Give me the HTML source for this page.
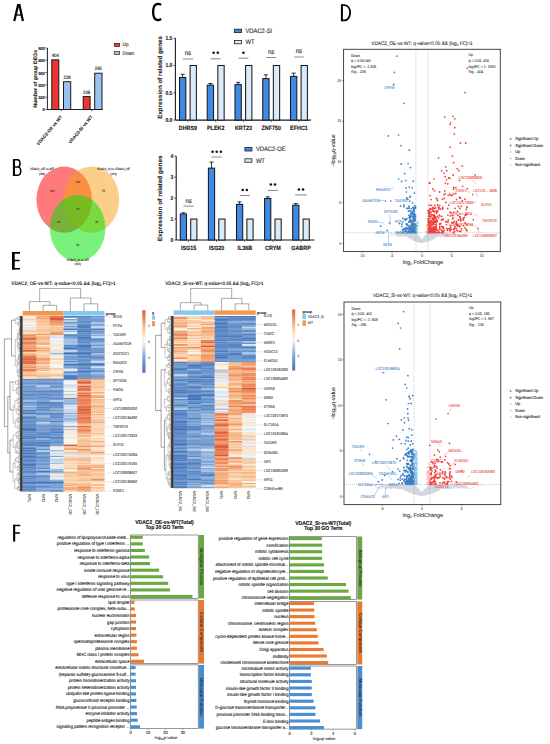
<!DOCTYPE html>
<html><head><meta charset="utf-8"><style>
html,body{margin:0;padding:0;background:#fff;}
svg{display:block;}
text{font-family:"Liberation Sans",sans-serif;text-rendering:geometricPrecision;}
</style></head><body>
<svg width="550" height="744" viewBox="0 0 550 744">
<rect width="550" height="744" fill="#fff"/>
<path d="M14.25 20.9L18.2 4.6M22.95 20.9L19.3 4.6" fill="none" stroke="#000" stroke-width="2.25"/>
<rect x="17.3" y="4.0" width="2.9" height="1.6" fill="#000"/>
<path d="M15.4 15.0H21.8" fill="none" stroke="#000" stroke-width="1.3"/>
<path d="M13.95 159.1V176.0" fill="none" stroke="#000" stroke-width="2.1"/>
<path d="M13.95 159.85H17.3C20.9 159.85 20.9 166.9 17.3 166.9H13.95M13.95 166.9H17.8C21.7 166.9 21.7 175.25 17.8 175.25H13.95" fill="none" stroke="#000" stroke-width="1.5"/>
<path d="M161.2 4.9C157.6 2.6 153.15 3.6 153.15 12.0C153.15 20.4 157.6 21.3 161.2 19.0" fill="none" stroke="#000" stroke-width="2.3"/>
<path d="M341.9 4.2V21.2" fill="none" stroke="#000" stroke-width="2.0"/>
<path d="M341.9 5.1H344.3C352.0 5.1 352.0 20.3 344.3 20.3H341.9" fill="none" stroke="#000" stroke-width="1.8"/>
<path d="M13.35 252.0V269.6" fill="none" stroke="#000" stroke-width="2.7"/>
<path d="M12.0 252.8H20.0M12.0 260.45H19.6M12.0 268.75H20.0" fill="none" stroke="#000" stroke-width="1.65"/>
<path d="M14.15 524.8V541.6" fill="none" stroke="#000" stroke-width="2.1"/>
<path d="M13.1 525.55H20.3M13.1 533.05H19.8" fill="none" stroke="#000" stroke-width="1.5"/>
<line x1="47.4" y1="48" x2="47.4" y2="109.5" stroke="#222" stroke-width="1" />
<line x1="47" y1="109.5" x2="102.5" y2="109.5" stroke="#222" stroke-width="1" />
<line x1="45.2" y1="109.5" x2="47" y2="109.5" stroke="#222" stroke-width="0.7" />
<text x="44.7" y="111.4" font-size="4.37" text-anchor="end" font-weight="bold" fill="#222"  textLength="2.17" lengthAdjust="spacingAndGlyphs" stroke="#222" stroke-width="0.14">0</text>
<line x1="45.2" y1="97.2" x2="47" y2="97.2" stroke="#222" stroke-width="0.7" />
<text x="44.7" y="99.1" font-size="4.37" text-anchor="end" font-weight="bold" fill="#222"  textLength="6.51" lengthAdjust="spacingAndGlyphs" stroke="#222" stroke-width="0.14">100</text>
<line x1="45.2" y1="84.9" x2="47" y2="84.9" stroke="#222" stroke-width="0.7" />
<text x="44.7" y="86.8" font-size="4.37" text-anchor="end" font-weight="bold" fill="#222"  textLength="6.51" lengthAdjust="spacingAndGlyphs" stroke="#222" stroke-width="0.14">200</text>
<line x1="45.2" y1="72.6" x2="47" y2="72.6" stroke="#222" stroke-width="0.7" />
<text x="44.7" y="74.5" font-size="4.37" text-anchor="end" font-weight="bold" fill="#222"  textLength="6.51" lengthAdjust="spacingAndGlyphs" stroke="#222" stroke-width="0.14">300</text>
<line x1="45.2" y1="60.3" x2="47" y2="60.3" stroke="#222" stroke-width="0.7" />
<text x="44.7" y="62.2" font-size="4.37" text-anchor="end" font-weight="bold" fill="#222"  textLength="6.51" lengthAdjust="spacingAndGlyphs" stroke="#222" stroke-width="0.14">400</text>
<line x1="45.2" y1="48" x2="47" y2="48" stroke="#222" stroke-width="0.7" />
<text x="44.7" y="49.9" font-size="4.37" text-anchor="end" font-weight="bold" fill="#222"  textLength="6.51" lengthAdjust="spacingAndGlyphs" stroke="#222" stroke-width="0.14">500</text>
<rect x="51.8" y="59.81" width="7" height="49.69" fill="#ee3535" stroke="#1a1a1a" stroke-width="1" />
<text x="55.3" y="57.01" font-size="4.82" text-anchor="middle" font-weight="normal" fill="#222"  textLength="7.17" lengthAdjust="spacingAndGlyphs" stroke="#222" stroke-width="0.14">404</text>
<rect x="63.5" y="81.7" width="7.2" height="27.8" fill="#99c3ef" stroke="#1a1a1a" stroke-width="1" />
<text x="67.1" y="78.9" font-size="4.82" text-anchor="middle" font-weight="normal" fill="#222"  textLength="7.17" lengthAdjust="spacingAndGlyphs" stroke="#222" stroke-width="0.14">226</text>
<rect x="83.2" y="96.46" width="6.9" height="13.04" fill="#ee3535" stroke="#1a1a1a" stroke-width="1" />
<text x="86.65" y="93.66" font-size="4.82" text-anchor="middle" font-weight="normal" fill="#222"  textLength="7.17" lengthAdjust="spacingAndGlyphs" stroke="#222" stroke-width="0.14">106</text>
<rect x="94.7" y="73.22" width="7.3" height="36.28" fill="#99c3ef" stroke="#1a1a1a" stroke-width="1" />
<text x="98.35" y="70.42" font-size="4.82" text-anchor="middle" font-weight="normal" fill="#222"  textLength="7.17" lengthAdjust="spacingAndGlyphs" stroke="#222" stroke-width="0.14">295</text>
<line x1="61.3" y1="109.5" x2="61.3" y2="111.3" stroke="#222" stroke-width="0.7" />
<line x1="91.8" y1="109.5" x2="91.8" y2="111.3" stroke="#222" stroke-width="0.7" />
<text x="0" y="0" font-size="4.47" font-weight="bold" fill="#222" stroke="#222" stroke-width="0.1" text-anchor="end" transform="translate(62.6,117) rotate(-50)">VDAC2-OE vs WT</text>
<text x="0" y="0" font-size="4.47" font-weight="bold" fill="#222" stroke="#222" stroke-width="0.1" text-anchor="end" transform="translate(93,117) rotate(-50)">VDAC2-Si vs WT</text>
<text x="0" y="0" font-size="5.2" font-weight="bold" fill="#222" stroke="#222" stroke-width="0.1" text-anchor="middle" transform="translate(36.6,78.8) rotate(-90)">Number of group DEGs</text>
<rect x="114.2" y="43.3" width="5.5" height="3.1" fill="#ee3535" stroke="#1a1a1a" stroke-width="0.6" />
<rect x="114.2" y="51.6" width="5.5" height="3.1" fill="#99c3ef" stroke="#1a1a1a" stroke-width="0.6" />
<text x="122.6" y="46.3" font-size="5.15" text-anchor="start" font-weight="normal" fill="#333"  textLength="5.88" lengthAdjust="spacingAndGlyphs" stroke="#333" stroke-width="0.14">Up</text>
<text x="122.6" y="54.6" font-size="5.04" text-anchor="start" font-weight="normal" fill="#333"  textLength="11.5" lengthAdjust="spacingAndGlyphs" stroke="#333" stroke-width="0.14">Down</text>
<g>
<ellipse cx="64.2" cy="199.6" rx="27.8" ry="33.2" fill="#ff0000" fill-opacity="0.52"/>
<ellipse cx="91.5" cy="199.6" rx="27.8" ry="33.2" fill="#f8a010" fill-opacity="0.5"/>
<ellipse cx="77.6" cy="228.2" rx="27.8" ry="33.2" fill="#00e400" fill-opacity="0.52"/>
</g>
<text x="42" y="170" font-size="3.14" text-anchor="middle" font-weight="normal" fill="#111"  textLength="23.96" lengthAdjust="spacingAndGlyphs" stroke="#111" stroke-width="0.08">VDAC2_OE-vs-WT</text>
<text x="42" y="175" font-size="3.14" text-anchor="middle" font-weight="normal" fill="#111"  textLength="6.54" lengthAdjust="spacingAndGlyphs" stroke="#111" stroke-width="0.08">(408)</text>
<text x="113.5" y="170" font-size="3.14" text-anchor="middle" font-weight="normal" fill="#111"  textLength="32.99" lengthAdjust="spacingAndGlyphs" stroke="#111" stroke-width="0.08">VDAC2_Si-vs-VDAC2_OE</text>
<text x="113.5" y="175" font-size="3.14" text-anchor="middle" font-weight="normal" fill="#111"  textLength="6.54" lengthAdjust="spacingAndGlyphs" stroke="#111" stroke-width="0.08">(213)</text>
<text x="77.8" y="260.8" font-size="3.14" text-anchor="middle" font-weight="normal" fill="#111"  textLength="22.4" lengthAdjust="spacingAndGlyphs" stroke="#111" stroke-width="0.08">VDAC2_Si-vs-WT</text>
<text x="77.8" y="265" font-size="3.14" text-anchor="middle" font-weight="normal" fill="#111"  textLength="6.54" lengthAdjust="spacingAndGlyphs" stroke="#111" stroke-width="0.08">(401)</text>
<text x="52" y="191.5" font-size="3.14" text-anchor="middle" font-weight="normal" fill="#333"  textLength="4.67" lengthAdjust="spacingAndGlyphs" stroke="#333" stroke-width="0.08">108</text>
<text x="77.8" y="183.3" font-size="3.14" text-anchor="middle" font-weight="normal" fill="#333"  textLength="4.67" lengthAdjust="spacingAndGlyphs" stroke="#333" stroke-width="0.08">139</text>
<text x="103.6" y="191.5" font-size="3.14" text-anchor="middle" font-weight="normal" fill="#333"  textLength="3.11" lengthAdjust="spacingAndGlyphs" stroke="#333" stroke-width="0.08">54</text>
<text x="77.8" y="209.8" font-size="3.14" text-anchor="middle" font-weight="normal" fill="#333"  textLength="3.11" lengthAdjust="spacingAndGlyphs" stroke="#333" stroke-width="0.08">18</text>
<text x="58.6" y="223.3" font-size="3.14" text-anchor="middle" font-weight="normal" fill="#333"  textLength="3.11" lengthAdjust="spacingAndGlyphs" stroke="#333" stroke-width="0.08">32</text>
<text x="96.8" y="223.3" font-size="3.14" text-anchor="middle" font-weight="normal" fill="#333"  textLength="3.11" lengthAdjust="spacingAndGlyphs" stroke="#333" stroke-width="0.08">26</text>
<text x="77.8" y="245.8" font-size="3.14" text-anchor="middle" font-weight="normal" fill="#333"  textLength="3.11" lengthAdjust="spacingAndGlyphs" stroke="#333" stroke-width="0.08">80</text>
<line x1="175.4" y1="38.3" x2="175.4" y2="120.1" stroke="#1a1a1a" stroke-width="1.1" />
<line x1="175.4" y1="120.1" x2="310.9" y2="120.1" stroke="#1a1a1a" stroke-width="1.1" />
<line x1="173.6" y1="120.1" x2="175.4" y2="120.1" stroke="#1a1a1a" stroke-width="0.8" />
<text x="172.4" y="121.9" font-size="5.6" text-anchor="end" font-weight="bold" fill="#222"  textLength="6.95" lengthAdjust="spacingAndGlyphs" stroke="#222" stroke-width="0.14">0.0</text>
<line x1="173.6" y1="92.8" x2="175.4" y2="92.8" stroke="#1a1a1a" stroke-width="0.8" />
<text x="172.4" y="94.6" font-size="5.6" text-anchor="end" font-weight="bold" fill="#222"  textLength="6.95" lengthAdjust="spacingAndGlyphs" stroke="#222" stroke-width="0.14">0.5</text>
<line x1="173.6" y1="65.5" x2="175.4" y2="65.5" stroke="#1a1a1a" stroke-width="0.8" />
<text x="172.4" y="67.3" font-size="5.6" text-anchor="end" font-weight="bold" fill="#222"  textLength="6.95" lengthAdjust="spacingAndGlyphs" stroke="#222" stroke-width="0.14">1.0</text>
<line x1="173.6" y1="38.2" x2="175.4" y2="38.2" stroke="#1a1a1a" stroke-width="0.8" />
<text x="172.4" y="40" font-size="5.6" text-anchor="end" font-weight="bold" fill="#222"  textLength="6.95" lengthAdjust="spacingAndGlyphs" stroke="#222" stroke-width="0.14">1.5</text>
<line x1="182.65" y1="74.24" x2="182.65" y2="77.51" stroke="#1a1a1a" stroke-width="0.9" />
<line x1="180.65" y1="74.24" x2="184.65" y2="74.24" stroke="#1a1a1a" stroke-width="0.9" />
<rect x="179.5" y="77.51" width="6.3" height="42.59" fill="#3f8ae6" stroke="#1a1a1a" stroke-width="1.05" />
<rect x="190.1" y="65.5" width="6.3" height="54.6" fill="#d9ebfb" stroke="#1a1a1a" stroke-width="1.05" />
<line x1="187.95" y1="120.1" x2="187.95" y2="121.9" stroke="#1a1a1a" stroke-width="0.8" />
<text x="187.95" y="130.1" font-size="6.05" text-anchor="middle" font-weight="bold" fill="#222"  textLength="18.3" lengthAdjust="spacingAndGlyphs" stroke="#222" stroke-width="0.14">DHRS9</text>
<text x="187.95" y="54.8" font-size="6.72" text-anchor="middle" font-weight="normal" fill="#333"  textLength="6.34" lengthAdjust="spacingAndGlyphs" stroke="#333" stroke-width="0.14">ns</text>
<line x1="182.7" y1="59" x2="193.2" y2="59" stroke="#8a8a8a" stroke-width="1" />
<line x1="210.4" y1="83.52" x2="210.4" y2="85.16" stroke="#1a1a1a" stroke-width="0.9" />
<line x1="208.4" y1="83.52" x2="212.4" y2="83.52" stroke="#1a1a1a" stroke-width="0.9" />
<rect x="207.25" y="85.16" width="6.3" height="34.94" fill="#3f8ae6" stroke="#1a1a1a" stroke-width="1.05" />
<rect x="217.85" y="65.5" width="6.3" height="54.6" fill="#d9ebfb" stroke="#1a1a1a" stroke-width="1.05" />
<line x1="215.7" y1="120.1" x2="215.7" y2="121.9" stroke="#1a1a1a" stroke-width="0.8" />
<text x="215.7" y="130.1" font-size="6.05" text-anchor="middle" font-weight="bold" fill="#222"  textLength="17.41" lengthAdjust="spacingAndGlyphs" stroke="#222" stroke-width="0.14">PLEK2</text>
<circle cx="213.63" cy="52.7" r="1.3" fill="#151515"/>
<circle cx="217.78" cy="52.7" r="1.3" fill="#151515"/>
<line x1="210.7" y1="58.8" x2="220.7" y2="58.8" stroke="#8a8a8a" stroke-width="1" />
<line x1="238.15" y1="82.43" x2="238.15" y2="84.61" stroke="#1a1a1a" stroke-width="0.9" />
<line x1="236.15" y1="82.43" x2="240.15" y2="82.43" stroke="#1a1a1a" stroke-width="0.9" />
<rect x="235" y="84.61" width="6.3" height="35.49" fill="#3f8ae6" stroke="#1a1a1a" stroke-width="1.05" />
<rect x="245.6" y="65.5" width="6.3" height="54.6" fill="#d9ebfb" stroke="#1a1a1a" stroke-width="1.05" />
<line x1="243.45" y1="120.1" x2="243.45" y2="121.9" stroke="#1a1a1a" stroke-width="0.8" />
<text x="243.45" y="130.1" font-size="6.05" text-anchor="middle" font-weight="bold" fill="#222"  textLength="17.1" lengthAdjust="spacingAndGlyphs" stroke="#222" stroke-width="0.14">KRT23</text>
<circle cx="243.45" cy="52.7" r="1.3" fill="#151515"/>
<line x1="238.45" y1="58.2" x2="248.45" y2="58.2" stroke="#8a8a8a" stroke-width="1" />
<line x1="265.9" y1="74.78" x2="265.9" y2="78.6" stroke="#1a1a1a" stroke-width="0.9" />
<line x1="263.9" y1="74.78" x2="267.9" y2="74.78" stroke="#1a1a1a" stroke-width="0.9" />
<rect x="262.75" y="78.6" width="6.3" height="41.5" fill="#3f8ae6" stroke="#1a1a1a" stroke-width="1.05" />
<rect x="273.35" y="65.5" width="6.3" height="54.6" fill="#d9ebfb" stroke="#1a1a1a" stroke-width="1.05" />
<line x1="271.2" y1="120.1" x2="271.2" y2="121.9" stroke="#1a1a1a" stroke-width="0.8" />
<text x="271.2" y="130.1" font-size="6.05" text-anchor="middle" font-weight="bold" fill="#222"  textLength="19.51" lengthAdjust="spacingAndGlyphs" stroke="#222" stroke-width="0.14">ZNF750</text>
<text x="271.2" y="53.6" font-size="6.72" text-anchor="middle" font-weight="normal" fill="#333"  textLength="6.34" lengthAdjust="spacingAndGlyphs" stroke="#333" stroke-width="0.14">ns</text>
<line x1="266.2" y1="57.5" x2="276.2" y2="57.5" stroke="#8a8a8a" stroke-width="1" />
<line x1="293.65" y1="73.14" x2="293.65" y2="76.42" stroke="#1a1a1a" stroke-width="0.9" />
<line x1="291.65" y1="73.14" x2="295.65" y2="73.14" stroke="#1a1a1a" stroke-width="0.9" />
<rect x="290.5" y="76.42" width="6.3" height="43.68" fill="#3f8ae6" stroke="#1a1a1a" stroke-width="1.05" />
<rect x="301.1" y="65.5" width="6.3" height="54.6" fill="#d9ebfb" stroke="#1a1a1a" stroke-width="1.05" />
<line x1="298.95" y1="120.1" x2="298.95" y2="121.9" stroke="#1a1a1a" stroke-width="0.8" />
<text x="298.95" y="130.1" font-size="6.05" text-anchor="middle" font-weight="bold" fill="#222"  textLength="17.7" lengthAdjust="spacingAndGlyphs" stroke="#222" stroke-width="0.14">EFHC1</text>
<text x="298.95" y="52.8" font-size="6.72" text-anchor="middle" font-weight="normal" fill="#333"  textLength="6.34" lengthAdjust="spacingAndGlyphs" stroke="#333" stroke-width="0.14">ns</text>
<line x1="294.2" y1="57" x2="303.7" y2="57" stroke="#8a8a8a" stroke-width="1" />
<rect x="234.5" y="29.2" width="7" height="3.4" fill="#3f8ae6" stroke="#1a1a1a" stroke-width="0.8" />
<rect x="234.5" y="40.4" width="7" height="3.4" fill="#d9ebfb" stroke="#1a1a1a" stroke-width="0.8" />
<text x="245.5" y="32.9" font-size="6.5" text-anchor="start" font-weight="normal" fill="#333"  textLength="26.43" lengthAdjust="spacingAndGlyphs" stroke="#333" stroke-width="0.14">VDAC2-Si</text>
<text x="245.5" y="44.1" font-size="6.5" text-anchor="start" font-weight="normal" fill="#333"  textLength="9.02" lengthAdjust="spacingAndGlyphs" stroke="#333" stroke-width="0.14">WT</text>
<text x="0" y="0" font-size="6.2" font-weight="bold" fill="#222" stroke="#222" stroke-width="0.1" text-anchor="middle" textLength="82.7" lengthAdjust="spacingAndGlyphs" transform="translate(161.6,77.4) rotate(-90)">Expression of related genes</text>
<line x1="176.2" y1="156.2" x2="176.2" y2="240" stroke="#1a1a1a" stroke-width="1.1" />
<line x1="176.2" y1="240" x2="314.5" y2="240" stroke="#1a1a1a" stroke-width="1.1" />
<line x1="174.4" y1="240" x2="176.2" y2="240" stroke="#1a1a1a" stroke-width="0.8" />
<text x="173.2" y="241.8" font-size="5.6" text-anchor="end" font-weight="bold" fill="#222"  textLength="2.78" lengthAdjust="spacingAndGlyphs" stroke="#222" stroke-width="0.14">0</text>
<line x1="174.4" y1="219.05" x2="176.2" y2="219.05" stroke="#1a1a1a" stroke-width="0.8" />
<text x="173.2" y="220.85" font-size="5.6" text-anchor="end" font-weight="bold" fill="#222"  textLength="2.78" lengthAdjust="spacingAndGlyphs" stroke="#222" stroke-width="0.14">1</text>
<line x1="174.4" y1="198.1" x2="176.2" y2="198.1" stroke="#1a1a1a" stroke-width="0.8" />
<text x="173.2" y="199.9" font-size="5.6" text-anchor="end" font-weight="bold" fill="#222"  textLength="2.78" lengthAdjust="spacingAndGlyphs" stroke="#222" stroke-width="0.14">2</text>
<line x1="174.4" y1="177.15" x2="176.2" y2="177.15" stroke="#1a1a1a" stroke-width="0.8" />
<text x="173.2" y="178.95" font-size="5.6" text-anchor="end" font-weight="bold" fill="#222"  textLength="2.78" lengthAdjust="spacingAndGlyphs" stroke="#222" stroke-width="0.14">3</text>
<line x1="174.4" y1="156.2" x2="176.2" y2="156.2" stroke="#1a1a1a" stroke-width="0.8" />
<text x="173.2" y="158" font-size="5.6" text-anchor="end" font-weight="bold" fill="#222"  textLength="2.78" lengthAdjust="spacingAndGlyphs" stroke="#222" stroke-width="0.14">4</text>
<line x1="183.4" y1="212.76" x2="183.4" y2="214.02" stroke="#1a1a1a" stroke-width="0.9" />
<line x1="181.4" y1="212.76" x2="185.4" y2="212.76" stroke="#1a1a1a" stroke-width="0.9" />
<rect x="180.3" y="214.02" width="6.2" height="25.98" fill="#3f8ae6" stroke="#1a1a1a" stroke-width="1.05" />
<rect x="190.7" y="219.05" width="6.2" height="20.95" fill="#d9ebfb" stroke="#1a1a1a" stroke-width="1.05" />
<line x1="188.6" y1="240" x2="188.6" y2="241.8" stroke="#1a1a1a" stroke-width="0.8" />
<text x="188.6" y="250" font-size="6.05" text-anchor="middle" font-weight="bold" fill="#222"  textLength="15.31" lengthAdjust="spacingAndGlyphs" stroke="#222" stroke-width="0.14">ISG15</text>
<text x="188.6" y="202.5" font-size="6.72" text-anchor="middle" font-weight="normal" fill="#333"  textLength="6.34" lengthAdjust="spacingAndGlyphs" stroke="#333" stroke-width="0.14">ns</text>
<line x1="183.4" y1="206.1" x2="193.8" y2="206.1" stroke="#8a8a8a" stroke-width="1" />
<line x1="211.5" y1="162.07" x2="211.5" y2="168.14" stroke="#1a1a1a" stroke-width="0.9" />
<line x1="209.5" y1="162.07" x2="213.5" y2="162.07" stroke="#1a1a1a" stroke-width="0.9" />
<rect x="208.4" y="168.14" width="6.2" height="71.86" fill="#3f8ae6" stroke="#1a1a1a" stroke-width="1.05" />
<rect x="218.8" y="219.05" width="6.2" height="20.95" fill="#d9ebfb" stroke="#1a1a1a" stroke-width="1.05" />
<line x1="216.7" y1="240" x2="216.7" y2="241.8" stroke="#1a1a1a" stroke-width="0.8" />
<text x="216.7" y="250" font-size="6.05" text-anchor="middle" font-weight="bold" fill="#222"  textLength="15.31" lengthAdjust="spacingAndGlyphs" stroke="#222" stroke-width="0.14">ISG20</text>
<circle cx="212.55" cy="151.8" r="1.3" fill="#151515"/>
<circle cx="216.7" cy="151.8" r="1.3" fill="#151515"/>
<circle cx="220.85" cy="151.8" r="1.3" fill="#151515"/>
<line x1="211.6" y1="157" x2="221.8" y2="157" stroke="#8a8a8a" stroke-width="1" />
<line x1="239.6" y1="201.87" x2="239.6" y2="204.38" stroke="#1a1a1a" stroke-width="0.9" />
<line x1="237.6" y1="201.87" x2="241.6" y2="201.87" stroke="#1a1a1a" stroke-width="0.9" />
<rect x="236.5" y="204.38" width="6.2" height="35.62" fill="#3f8ae6" stroke="#1a1a1a" stroke-width="1.05" />
<rect x="246.9" y="219.05" width="6.2" height="20.95" fill="#d9ebfb" stroke="#1a1a1a" stroke-width="1.05" />
<line x1="244.8" y1="240" x2="244.8" y2="241.8" stroke="#1a1a1a" stroke-width="0.8" />
<text x="244.8" y="250" font-size="6.05" text-anchor="middle" font-weight="bold" fill="#222"  textLength="14.71" lengthAdjust="spacingAndGlyphs" stroke="#222" stroke-width="0.14">IL36B</text>
<circle cx="242.72" cy="190" r="1.3" fill="#151515"/>
<circle cx="246.87" cy="190" r="1.3" fill="#151515"/>
<line x1="239.8" y1="195.5" x2="249.8" y2="195.5" stroke="#8a8a8a" stroke-width="1" />
<line x1="267.7" y1="196.84" x2="267.7" y2="198.52" stroke="#1a1a1a" stroke-width="0.9" />
<line x1="265.7" y1="196.84" x2="269.7" y2="196.84" stroke="#1a1a1a" stroke-width="0.9" />
<rect x="264.6" y="198.52" width="6.2" height="41.48" fill="#3f8ae6" stroke="#1a1a1a" stroke-width="1.05" />
<rect x="275" y="219.05" width="6.2" height="20.95" fill="#d9ebfb" stroke="#1a1a1a" stroke-width="1.05" />
<line x1="272.9" y1="240" x2="272.9" y2="241.8" stroke="#1a1a1a" stroke-width="0.8" />
<text x="272.9" y="250" font-size="6.05" text-anchor="middle" font-weight="bold" fill="#222"  textLength="15.7" lengthAdjust="spacingAndGlyphs" stroke="#222" stroke-width="0.14">CRYM</text>
<circle cx="270.83" cy="184.5" r="1.3" fill="#151515"/>
<circle cx="274.98" cy="184.5" r="1.3" fill="#151515"/>
<line x1="267.75" y1="190.4" x2="278.05" y2="190.4" stroke="#8a8a8a" stroke-width="1" />
<line x1="295.8" y1="203.55" x2="295.8" y2="205.22" stroke="#1a1a1a" stroke-width="0.9" />
<line x1="293.8" y1="203.55" x2="297.8" y2="203.55" stroke="#1a1a1a" stroke-width="0.9" />
<rect x="292.7" y="205.22" width="6.2" height="34.78" fill="#3f8ae6" stroke="#1a1a1a" stroke-width="1.05" />
<rect x="303.1" y="219.05" width="6.2" height="20.95" fill="#d9ebfb" stroke="#1a1a1a" stroke-width="1.05" />
<line x1="301" y1="240" x2="301" y2="241.8" stroke="#1a1a1a" stroke-width="0.8" />
<text x="301" y="250" font-size="6.05" text-anchor="middle" font-weight="bold" fill="#222"  textLength="19.5" lengthAdjust="spacingAndGlyphs" stroke="#222" stroke-width="0.14">GABRP</text>
<circle cx="298.93" cy="189.5" r="1.3" fill="#151515"/>
<circle cx="303.08" cy="189.5" r="1.3" fill="#151515"/>
<line x1="295.1" y1="194.9" x2="306.9" y2="194.9" stroke="#8a8a8a" stroke-width="1" />
<rect x="244.9" y="147.6" width="7" height="3.4" fill="#3f8ae6" stroke="#1a1a1a" stroke-width="0.8" />
<rect x="244.9" y="158.8" width="7" height="3.4" fill="#d9ebfb" stroke="#1a1a1a" stroke-width="0.8" />
<text x="255.9" y="151.3" font-size="6.5" text-anchor="start" font-weight="normal" fill="#333"  textLength="29.65" lengthAdjust="spacingAndGlyphs" stroke="#333" stroke-width="0.14">VDAC2-OE</text>
<text x="255.9" y="162.5" font-size="6.5" text-anchor="start" font-weight="normal" fill="#333"  textLength="9.02" lengthAdjust="spacingAndGlyphs" stroke="#333" stroke-width="0.14">WT</text>
<text x="0" y="0" font-size="6.2" font-weight="bold" fill="#222" stroke="#222" stroke-width="0.1" text-anchor="middle" textLength="86" lengthAdjust="spacingAndGlyphs" transform="translate(161.8,198.3) rotate(-90)">Expression of related genes</text>
<text x="421.9" y="44.6" font-size="5.2" fill="#222" stroke="#222" stroke-width="0.08" text-anchor="middle" textLength="101.2" lengthAdjust="spacingAndGlyphs">VDAC2_OE-vs-WT: q-value&lt;0.05 &amp;&amp; |log<tspan font-size="3.6" dy="1">2</tspan><tspan dy="-1"> FC|&gt;1</tspan></text>
<clipPath id="clip11"><rect x="343.6" y="49.3" width="156.7" height="202.3"/></clipPath>
<g clip-path="url(#clip11)">
<path fill="none" stroke="#d0d7e0" stroke-width="1.4" stroke-linecap="round" d="M409.5 233h0M425.7 238.3h0M408.4 236.1h0M421.2 240.7h0M409.5 237.3h0M408.8 235.7h0M437.5 233.6h0M431.9 239.1h0M448 233.8h0M419 238.3h0M422.9 240.4h0M423.4 241.9h0M424.7 241.8h0M428.9 236.5h0M403.7 234.2h0M429 235.2h0M406.9 234.4h0M421.9 241.6h0M455.5 233.2h0M421.4 240.4h0M419 240h0M428.6 240.1h0M423 239.4h0M411.7 236.3h0M440.9 236.4h0M416.8 239.3h0M431.6 232.8h0M415.8 237.2h0M434.7 233.6h0M428.2 238.2h0M429.7 232.9h0M426.7 235.5h0M427.5 240.1h0M427.1 240.7h0M423.8 239.5h0M415.8 236.8h0M427.9 239.6h0M437.3 233.8h0M429.8 238.3h0M429 238.1h0M439.9 235h0M418.6 236.5h0M424.4 237.7h0M431.8 234.8h0M446.6 235.3h0M440 235.1h0M423.2 240.9h0M412.9 239.2h0M433.2 236.8h0M429.1 235.5h0M414.2 233h0M430 236.2h0M403.7 235.4h0M412.7 238.4h0M437.6 235.2h0M411.7 237.7h0M420.3 241.2h0M397.8 232.9h0M432.1 236.1h0M412.6 238.8h0M447.2 235.2h0M428.2 234.8h0M421.1 240.3h0M440.8 235h0M429.2 239.9h0M436.4 235.4h0M403.4 233.9h0M414.7 237.9h0M427.9 241h0M418.5 239.8h0M418.5 240.5h0M423.1 240.7h0M417 238.2h0M419.5 237.7h0M436.7 233.7h0M420.1 239.5h0M423.6 242.1h0M424 237.9h0M414 240.3h0M397 233.8h0M405.5 234.9h0M423.7 238h0M433.3 234h0M427.7 233.4h0M420.6 239.3h0M406.1 233h0M412.7 233.3h0M434.3 233.3h0M406.3 233.1h0M430.8 235.4h0M414.8 235.6h0M414.8 235.4h0M434.6 232.7h0M428.9 233.5h0M420.5 239.4h0M411.9 235.1h0M403.8 235.9h0M429 234.4h0M435.4 234.8h0M424.5 240.5h0M418.1 237.4h0M410.6 233.1h0M421.8 241.6h0M423.4 239.4h0M423.7 238.3h0M427.8 235.2h0M401.9 234.9h0M429.5 234.9h0M425.3 236.8h0M432.1 233.2h0M429.2 235.6h0M415.1 237.7h0M429.7 233.8h0M430.9 233.6h0M415.9 238.3h0M397.8 235.5h0M414.1 238.4h0M424.4 239.6h0M413.5 237.4h0M413.5 233.7h0M433 238.2h0M420.6 242.1h0M424 238.7h0M419.8 239.2h0M415.4 240.8h0M438.7 235.6h0M419.7 238.1h0M422.5 241.4h0M423.9 239.1h0M424.3 239.5h0M411.7 233.8h0M411.1 232.9h0M419.2 239.2h0M415.7 239.1h0M433.4 234.1h0M422.7 241.6h0M420.6 239.6h0M431.2 235.7h0M409 235.4h0M410.6 233.8h0M425.5 235.9h0M419.5 238.3h0M429.6 235.2h0M430 233.3h0M412.5 233.4h0M431.1 233.9h0M432.6 234.6h0M418 240h0M418.6 237.8h0M403.4 233.6h0M426.9 233.8h0M443.1 232.8h0M404.4 234.9h0M417.8 235.3h0M427.7 240.2h0M414.5 236.6h0M405.4 234.3h0M416.5 241h0M423.2 239.2h0M418.5 240.5h0M412.8 238.5h0M437.3 235.6h0M405.7 233.2h0M420.2 239.2h0M433.1 233h0M417.9 240.9h0M424.1 240.4h0M434.1 234h0M414 233.7h0M412.4 235.4h0M418.1 236.2h0M431.1 233.3h0M427 233.7h0M441.1 234.2h0M415.8 236.1h0M418.9 238.8h0M420 238h0M420.4 240h0M407.1 234.1h0M432.6 235.5h0M420.5 240h0M418.4 238.9h0M444.1 235.1h0M415.7 236.6h0M429.5 233.9h0M429.7 233.4h0M413.1 238.2h0M423.2 239.8h0M426.7 235.4h0M419.5 241.9h0M424.4 238.4h0M428.8 237.7h0M413.2 239h0M433.1 234.1h0M430.6 237.8h0M430.4 238.3h0M411.2 236.2h0M419.8 240h0M416 238.9h0M420.8 240h0M413.8 233.7h0M412.4 235h0M426.5 235.8h0M416.1 234.1h0M429.2 237.6h0M416.8 234h0M429.1 233.5h0M457.6 235.6h0M423 241.2h0M438.2 235.8h0M427.2 234.7h0M412.6 238.6h0M409.2 237.7h0M430.8 238.1h0M412.7 232.9h0M401.5 235.7h0M404.8 234.3h0M421.3 240.3h0M423.4 241.6h0M425.5 241.5h0M410.3 234.9h0M418 240.5h0M424.6 237.4h0M428.2 232.8h0M426 241.1h0M419.9 237.9h0M405.1 234.9h0M426 238.1h0M411.2 234.9h0M420.9 242.2h0M416 239.2h0M403.2 234.4h0M421.2 241.6h0M411.6 237.8h0M420.1 238.4h0M421.8 240.6h0M416.2 235.4h0M402.5 234.6h0M412.1 232.8h0M414.8 234h0M420.7 239.6h0M444.2 233.4h0M426 235.5h0M412.4 233.4h0M416 234.4h0M405.6 234.6h0M421.2 241.1h0M418.1 238.3h0M431.4 234.9h0M422.5 240.4h0M424.6 238.2h0M446.2 234.8h0M414.8 236h0M410.8 236h0M436.5 233.7h0M421.9 240.8h0M424.1 239h0M421.6 240.6h0M421.5 242.1h0M432.2 237.6h0M418.6 240h0M425.2 236.5h0M410.4 232.9h0M418.2 237.8h0M436.4 233.3h0M421.5 242h0M407.9 236.6h0M412 233.1h0M428.1 239.2h0M431.6 235.7h0M419.2 237h0M419.6 239.8h0M408.4 235.3h0M419.6 240.4h0M414.6 237.9h0M411.1 234.2h0M421.4 241.5h0M423.5 241.9h0M431.3 236.5h0M436.1 233.1h0M421.9 240.4h0M418.6 236.3h0M441.7 234.5h0M431.7 235.8h0M429.4 236h0M420.6 238.9h0M420 237.9h0M410.6 233.6h0M417.9 237.2h0M418.9 239h0M422.9 240.4h0M425.1 240.9h0M407.8 234.7h0M427.2 238.7h0M412.7 234h0M416.7 236.6h0M447 233.5h0M421.5 241.6h0M438.1 233.4h0M436 234h0M416.8 235.6h0M428.2 235.8h0M409.8 233.9h0M414.1 238.5h0M422.1 240.3h0M450.3 233.1h0M425.4 239.8h0M422.8 240.8h0M418.5 238.2h0M418.6 241.3h0M435 234.6h0M429.8 235.2h0M413.8 238.3h0M430.2 237.2h0M421.3 242h0M402.5 235.7h0M427.1 235h0M408.7 236.1h0M414.9 234h0M425.5 239.1h0M404.5 234.9h0M396.7 234.1h0M421.3 241h0M399 234.7h0M438.9 235.9h0M433.8 237.7h0M411.1 234.4h0M417.3 238.9h0M422.5 241.5h0M417.9 236.9h0M429.4 234.5h0M426.1 236.5h0M420.7 240.8h0M427.4 234.9h0M418.5 237.3h0M425.7 237.7h0M442.9 233h0M410.1 235.5h0M424.7 239.9h0M413.7 236.8h0M441.7 235.2h0M413.3 236.9h0M415.5 237.2h0M429.1 237.1h0M426.3 235.6h0M434.2 234.8h0M428.7 239h0M410.7 233.9h0M428 240.9h0M416.3 236.4h0M409.2 232.9h0M418.3 237.4h0M423.1 240.1h0M418.4 236.8h0M425.5 236.9h0M424 238h0M434.3 237h0M429.2 234.4h0M417.4 239.5h0M415.8 234.4h0M404.8 234.6h0M419.6 240.1h0M436.8 234.3h0M418.9 238.6h0M419 236.9h0M406.2 234.6h0M428.8 233.7h0M408.5 233.5h0M432.6 232.9h0M403.5 233.8h0M406.1 233.3h0M419.5 239.7h0M416.9 235.3h0M424.6 236.8h0M417.5 239.8h0M426.2 238.1h0M414.9 240.1h0M447.9 235h0M432.9 233.9h0M431.6 238h0M432.3 235h0M426.2 235.1h0M426.6 239.7h0M423 241.3h0M423.4 239.7h0M438 235.3h0M425.2 240.5h0M429.5 234.3h0M417.1 235h0M433.8 235.3h0M420.5 238.8h0M443.1 234.8h0M397.5 234.3h0M414.4 238.4h0M445.4 233.3h0M429.5 237h0M409.8 236.3h0M419.8 237.6h0M417.8 241.7h0M415.6 236.6h0M409.3 234h0M435 234.3h0M425.2 239.6h0M426.9 238.9h0M430.2 235.1h0M412.9 232.8h0M420.6 241.5h0M434.4 233.7h0M440.8 233.2h0M422.1 240.5h0M428.9 234.7h0M425.9 240.8h0M410.6 232.9h0M423.3 239.8h0M427.3 234.6h0M415.1 236.9h0M425.7 236.2h0M419.7 240.8h0M409.9 237.1h0M418.6 236.7h0M418.6 241.3h0M430 237.5h0M406.1 234.8h0M425.2 237.5h0M429.9 236.3h0M428.2 232.9h0M429 240.7h0M408.9 235.4h0M420 239.5h0M414.6 236.5h0M453.3 233.3h0M424 240.9h0M415.6 237.3h0M416.3 236.2h0M419.1 239.6h0M430.7 234.8h0M421.6 240.6h0M428.7 237.6h0M434.2 234h0M417.5 238.7h0M424 241.3h0M417.9 240.9h0M414.9 238.9h0M407.6 234.8h0M429 239.8h0M410.3 236.8h0M424.8 239.4h0M426.3 240.9h0M431.3 235.7h0M416.8 235.9h0M423.9 240.1h0M403.1 234.9h0M420.4 240.4h0M422.8 239.9h0M439.7 233.8h0M419.9 239.2h0M431 237h0M423 240h0M429.7 236h0M428 234.2h0M428.3 239.3h0M409.5 233.7h0M432.4 236.4h0M414.6 236.2h0M432 232.8h0M434.4 234.9h0M417.7 239.9h0M403 232.9h0M417.2 240.7h0M417.1 239.2h0M408 235.3h0M414.6 233.2h0M414.6 239.3h0M430.6 232.9h0M436.4 234.2h0M438.5 234.1h0M414.5 233.3h0M419 236.5h0M427.6 239.8h0M409.3 233.5h0M416.7 239h0M442.9 234h0M425.1 238.4h0M416.2 240.3h0M428.2 232.8h0M423.2 238.9h0M417.2 236.1h0M414.6 234.5h0M411.9 233.8h0M431.1 239.7h0M425.5 240.6h0M432.8 236.1h0M416.2 236.3h0M419.2 240.3h0M413.6 235h0M418.1 241.4h0M419.2 236.9h0M416.9 236.3h0M411.6 234.8h0M423.9 238.9h0M422.8 240.6h0M405 232.7h0M432.4 236.1h0M404.9 234.5h0M401.7 234.2h0M413 235.7h0M401.8 234.9h0M431 239.3h0M418.6 237.3h0M400.3 234h0M422 241h0M413.2 239.4h0M429.8 236.1h0M429.7 236.9h0M436.7 234.2h0M426.9 239.1h0M418.4 240h0M431.5 239h0M444.4 233.7h0M407.9 233.2h0M405.7 235.3h0M430.6 234.3h0M401.8 235.8h0M412.9 234h0M430.9 233h0M430.8 240.2h0M422.2 241.4h0M430.5 239.5h0M436.7 234.6h0M410.5 236.1h0M419.2 241.8h0M420.3 238.6h0M417.7 235.1h0M433.1 232.8h0M415.1 237.9h0M423.1 239.1h0M427.2 234.3h0M417.9 238.9h0M415.7 233.6h0M423 239h0M426.2 239.9h0M435.6 233.2h0M426.5 235.9h0M423.4 240.7h0M438.5 233.6h0M409.9 237.2h0M413.9 236.5h0M399.3 235.9h0M423.4 239.4h0M430.5 238.2h0M425 237.8h0M428.7 234.2h0M411.5 233.3h0M432.7 234.9h0M423 239.1h0M430.4 234.8h0M419.5 241.4h0M436.2 232.8h0M410.3 235.1h0M426.5 241.1h0M415.2 238.3h0M417 235.1h0M429 234.4h0M426.2 239.4h0M419.6 240.9h0M434.5 233.2h0M424.6 239.3h0M421.7 240.6h0M404.4 234.3h0M437.4 235.5h0M408.2 235.2h0M416.9 235.9h0M424.4 239.2h0M409.9 233.4h0M417 234h0M410.6 237.3h0M423 240h0M415.9 238.6h0M405.6 233.4h0M428.3 234.2h0M422.9 241.3h0M433.6 234.8h0M419.2 238.6h0M421.9 240.9h0M403.4 235.5h0M412.8 238.4h0M433.7 235.5h0M423.2 240.4h0M420.4 241.8h0M440 233h0M410.3 233.7h0M416.6 238.9h0M427.2 240.9h0M428.9 237.7h0M412.9 237.6h0M413.3 235.3h0M437.9 235.5h0M431.8 237.3h0M430.3 233.8h0M435 233.6h0M431.6 236.6h0M425.8 239.9h0M424.8 238.9h0M421.4 240.2h0M427.6 236.8h0M421.4 240.3h0M429.2 233.4h0M423.7 241.3h0M415.2 236.9h0M427.2 240.5h0M455 233.4h0M429.1 234.5h0M422.9 240.3h0M429.6 238.1h0M399 234.7h0M427.5 237.8h0M435.8 236.7h0M420.3 240.3h0M419.8 240.3h0M419 238h0M430.8 233.4h0M411.7 235.8h0M406.6 234.7h0M434.1 233.7h0M423.9 241h0M431.1 235.5h0M425.4 240.1h0M427.8 236.7h0M417.9 235.1h0M432.2 234.5h0M426.4 238.3h0M416.7 240.6h0M418.4 239.8h0M412.9 239.8h0M425.2 239.2h0M429.1 233.2h0M420.2 240.4h0M414.1 238.9h0M430.7 234.2h0M418.2 236.9h0M423.6 240.6h0M420.8 240.7h0M440.1 234.9h0M432.4 234h0M418.5 239.1h0M421.5 241.5h0M427.5 235.7h0M423.4 242h0M417.8 237.6h0M431.8 238.3h0M419.8 238.6h0M414.3 234.9h0M426 239.3h0M427.4 235h0M413.6 233.6h0M427.5 238.8h0M419.5 240.7h0M430.9 239.5h0M436.1 234.2h0M424.1 238.2h0M430.4 234.8h0M420.6 238.9h0M425.2 237.7h0M437.1 232.9h0M426.9 236.1h0M416.4 240.3h0M412.8 239.3h0M426.4 238.3h0M416.3 238.3h0M432.4 237.8h0M412.5 238.2h0M428.5 235.1h0M422.2 241.4h0M426.4 238h0M429.7 234.7h0M432.8 235.1h0M421.2 241h0M419.8 240.2h0M431.4 239.1h0M425.9 238h0M412.1 236.9h0M416 238.5h0M431.2 233.4h0M423.3 239.9h0M420.8 241.4h0M437 234.4h0M403 234.8h0M405.1 234h0M438.2 233.9h0M415.7 235.4h0M413 237.5h0M427.5 234h0M429.2 233.3h0M415.1 240.4h0M429.8 237.5h0M431 236.8h0M427.6 239.1h0M421.1 241.4h0M418.7 242h0M415.2 235.9h0M416 236.5h0M426.5 236.3h0M408.3 234.4h0M417.7 235.7h0M430.9 236.9h0M420.1 238.4h0M415.6 234.9h0M436.8 233.7h0M440.4 235.5h0M417.6 236.9h0M408.8 235.4h0M422.7 241.2h0M421.8 241.7h0M409.3 236.3h0M419 238.8h0M427.6 239.8h0M425.4 241h0M423.4 239.4h0M430.4 234.1h0M429.2 236.3h0M432.5 233.4h0M439.3 236h0M421.6 240.4h0M434 235.7h0M420.3 239.2h0M414.3 237.5h0M413.3 233.7h0M436.7 233.2h0M412.2 234.4h0M417.5 236.8h0M430.8 238.7h0M405.9 234.7h0M418.3 240.3h0M415.5 240.9h0M401.1 232.8h0M409.5 237.1h0M417.8 237.1h0M412.1 236.4h0M449.7 236.1h0M409.5 234h0M424.1 240.5h0M423.9 238.7h0M427 238.2h0M421.7 242.2h0M410.6 236.1h0M418.8 239.8h0M428 238.2h0M403.4 234.7h0M409.1 232.8h0M410.2 235.8h0M417.5 235.7h0M409.9 237.2h0M424.1 237.7h0M426.2 239.4h0M416.8 238.3h0M422.3 242.2h0M416.7 236h0M419.6 240.5h0M423.5 240.4h0M433.4 236.7h0M425.4 236.2h0M423.1 240.9h0M427.6 236.6h0M425 236.3h0M427.9 236.5h0M441.4 234.6h0M425.5 241.3h0M412.3 235.4h0M414.1 237.8h0M410.1 233h0M443.4 234.5h0M397.3 233.2h0M420.9 242.1h0M415.7 239.2h0M424.8 239.6h0M424.6 237.8h0M417.4 241.6h0M433.3 237.1h0M423.4 240h0M421.5 240.3h0M426.3 238.3h0M405.9 233.3h0M430 232.8h0M406.6 235.8h0M431.7 234.4h0M418.7 240.1h0M423.8 239.4h0M420.7 241.2h0M414.4 235h0M428.2 234h0M412.3 236.7h0M432.8 236.8h0M429.3 239.6h0M416.9 238.3h0M421.5 240.5h0M414.9 235.9h0M419.2 241.2h0M416.1 239.6h0M415.5 241h0M430.6 235.9h0M414.5 235.9h0M427 233.8h0M427.8 237.9h0M442 233.5h0M445.3 234.5h0M440.8 232.8h0M423.9 238.8h0M432.1 237.8h0M419.7 237.6h0M437 234.9h0M425.8 235.2h0M430.6 238.6h0M415.3 235.2h0M414.5 238.5h0M406.1 233.1h0M407.7 234h0M408.7 236.7h0M421.5 240.2h0M417.8 236.8h0M411.5 236.1h0M416.4 235.8h0M426.8 236.6h0M419.3 238.5h0M421.7 241.2h0M410.5 233.1h0M414.3 239h0M390.6 233.5h0M428.1 237.9h0M419.4 239.7h0M391.3 233.1h0M443.5 234.3h0M444 235.2h0M429.8 233.1h0M409.5 233.5h0M425.5 235.6h0M410.3 238h0M432.9 236.9h0M410.2 233.6h0M409.8 233.3h0M425.5 240.2h0M419.2 241.5h0M436.3 234.2h0M424.6 240.4h0M410.4 233.7h0M432.6 235.2h0M408.1 233.1h0M423.6 240.4h0M416.3 240.1h0M431 233.5h0M424 238.2h0M426.7 238.1h0M426.2 235.4h0M405.7 235.9h0M407.2 232.8h0M425.7 235.9h0M435.7 233.7h0M426.8 237.6h0M436.2 236.6h0M417.2 236.4h0M429.4 237.9h0M409.4 236.7h0M412.5 238.5h0M418 240.6h0M411.2 238h0M434.9 235.5h0M416.8 239.4h0M437.5 233.5h0M421.4 241.2h0M418.1 240.5h0M431.6 234.9h0M405.1 234.6h0M430.5 236.3h0M397.7 234.8h0M420.9 239.9h0M423.2 241h0M435.2 233.2h0M417.4 236.3h0M441.3 234.4h0M431.1 234.3h0M417.8 237.2h0M418.4 238.8h0M423.1 241h0M398.3 235h0M431.1 234.6h0M418.3 238.8h0M415.2 239.4h0M428 237h0M417.2 238.5h0M430.4 235.3h0M404 234.1h0M439.5 235.9h0M434.6 235.6h0M410.4 234.4h0M433.5 236.1h0M441.8 236.2h0M407 233.8h0M412.4 236h0M423.8 240.5h0M415.3 232.9h0M409.7 232.8h0M432.1 233.7h0M421.4 240.5h0M411.2 238.5h0M411.9 234.7h0M424.3 240.7h0M428.9 237.3h0M421.5 241.8h0M408.7 236.9h0M432.2 237.8h0M413.5 234.3h0M410.5 236.7h0M428.1 234.3h0M406.6 235.7h0M420.1 238.5h0M422.3 240.1h0M423.7 240.4h0M420.5 240h0M417.1 235.2h0M420.9 241h0M416.7 236.3h0M421.7 241.9h0M432.3 236.9h0M428.3 234.3h0M422.1 242.1h0M432.4 237.4h0M409.5 235.2h0M425.8 236h0M437.6 235.6h0M434 232.9h0M411.6 234.9h0M420.3 238.7h0M432.1 239.3h0M419.5 241.1h0M428.8 234.7h0M406.9 235.6h0M419.5 241.3h0M421.4 241.4h0M436.2 233.2h0M418.8 241.6h0M418.4 239.8h0M424 241.4h0M429.8 236.2h0M417.5 236.5h0M440.5 234.1h0M405.8 234.3h0M430.3 237.5h0M416.1 234.6h0M421.4 241h0M431.6 235.9h0M415.1 236.7h0M430.3 239.7h0M423.8 239.6h0M418.8 238.4h0M416.1 240h0M426.2 238.6h0M417.3 239.4h0M432.6 234h0M420.5 240.5h0M422 240.4h0M435.5 232.9h0M422.5 241.1h0M413.9 237.6h0M416.3 235.6h0M414.4 236.2h0M417.2 237.2h0M422 242h0M418.5 240h0M419.6 239.7h0M439.9 233.1h0M415.1 234.9h0M426.7 240.6h0M441 234.9h0M420 240.5h0M429.5 235.1h0M405.7 236h0M422.2 240.8h0M418.7 238.4h0M434.9 237.5h0M415.5 233.2h0M422.1 242.3h0M408.5 233.7h0M408.5 232.8h0M429.4 233.3h0M437.7 234.5h0M429.9 234.3h0M413.9 236.5h0M429.6 239.3h0M414.9 240h0M436.9 235.7h0M429.5 235.8h0M408.9 236.8h0M428.3 233h0M427.8 235.9h0M428.1 237h0M418.6 238.4h0M424.7 237.2h0M417.5 237.8h0M432.5 236.3h0M424 238.8h0M432.6 234.4h0M416.7 237.8h0M422.8 239.9h0M417.2 239.9h0M416 237.7h0M418.4 240.5h0M413.9 235.9h0M432.9 236.1h0M404.5 234.8h0M413.1 235.3h0M393.6 234.9h0M425.4 237.3h0M422.7 240h0M429.8 235.5h0M421.7 240.5h0M425.6 239h0M419.6 238.9h0M411.3 235.1h0M443.9 234.4h0M418.5 238.5h0M423.9 241.5h0M438.8 235h0M423.5 239.3h0M419.7 239.2h0M413.2 238.6h0M419 236.7h0M423.6 241.6h0M403.6 233.4h0M423.2 240.1h0M428.5 235.5h0M434.4 234.6h0M433.8 233.2h0M435.7 235.2h0M414.8 233h0M420.2 238.7h0M413.6 234.5h0M421.2 242.2h0M429.6 235.9h0M421.7 241.6h0M430.4 238.9h0M413.8 237.7h0M422.7 241.3h0M401.2 235.5h0M420.7 239.2h0M430.4 235.7h0M410.9 234.1h0M407.3 233h0M418.7 237.2h0M421.7 240.3h0M425.3 239.3h0M423.6 240h0M414.7 237.2h0M418.7 238.6h0M397.7 234.1h0M417.6 234.9h0M427.9 239.9h0M435.7 236.6h0M416.5 233.7h0M432.4 238.1h0M429.7 232.8h0M414.4 239.9h0M441.1 233.7h0M424.2 239.1h0M422.9 239.1h0M414 234.1h0M403.5 234.2h0M432.9 237.4h0M427.7 236.2h0M414.6 238.6h0M431.4 234.5h0M411.7 238.6h0M427.7 236.5h0M396.4 234.1h0M412.3 238.4h0M419 237.9h0M430.6 233.1h0M446.5 232.9h0M418.2 236.1h0M423.8 239.8h0M421.1 240.4h0M416.4 235.7h0M409 233h0M432.4 232.9h0M428.3 240.7h0M437.6 232.8h0M435.1 237.3h0M440.6 233.7h0M425.7 238h0M406.9 233.3h0M413.7 240.4h0M438.4 232.8h0M429.4 233.8h0M414.2 237.3h0M426.9 241.4h0M422.9 240.2h0M414 235.9h0M414.1 236.4h0M435 236.1h0M426.6 240.1h0M417.6 239.4h0M404.3 234.9h0M424.2 240.6h0M417.4 237.4h0M415.4 238.3h0M426.5 239.4h0M417.4 238.9h0M414.1 234.9h0M436.3 233.4h0M417.9 236.4h0M420.9 241.2h0M424 237.6h0M432.2 236.4h0M408 232.8h0M439.4 234.7h0M433.7 233.7h0M435.4 235.4h0M424.4 240.3h0M412.3 235.1h0M421.3 240h0M410.4 238.5h0M412 238.8h0M422 240.5h0M426.2 235.3h0M427.3 233.4h0M430.4 233.1h0M418 240.5h0M416.5 239.3h0M398 235.6h0M412.7 234.4h0M403 232.9h0M412.5 238.6h0M424.7 240.2h0M425.5 240.3h0M420.4 240.6h0M430.2 238.5h0M424.6 241.1h0M409.4 234.7h0M419.8 238.5h0M397.6 235.9h0M417.8 239.7h0M429.7 234.3h0M426 235.4h0M415.9 237.8h0M421.8 241h0M416.9 233.9h0M439.2 234.4h0M406.2 234.4h0M410 236.9h0M448.3 236.2h0M412.2 234.1h0M419.2 240.9h0M423.8 241.1h0M421.3 242.2h0M414.9 238.5h0M425.5 237.4h0M410.5 235.5h0M422.6 241.2h0M423.5 241.9h0M421 240.9h0M436 234.6h0M415.6 237.5h0M415.7 233.5h0M412.7 235.6h0M416.8 237.2h0M410.8 237h0M441.5 232.9h0M434.6 236.7h0M405.1 234.2h0M430.3 238.5h0M421.1 240h0M423.2 241.5h0M435.3 232.9h0M420.9 239.9h0M426.4 238.6h0M410.8 233.1h0M417.6 237.5h0M421.5 240.9h0M422.3 241.5h0M409.1 235.1h0M415.4 240h0M410.2 234.5h0M422.1 240.3h0M419.8 241.6h0M432.7 233.8h0M423.8 238.6h0M440.9 235.2h0M431.8 236.2h0M415 235.8h0M433 235.5h0M418 239.4h0M428.4 237.6h0M411.8 237.7h0M426.1 235.9h0M440.7 232.8h0M435.3 233.5h0M414.2 234.6h0M428.6 239h0M404.9 233.3h0M419.4 237.4h0M429.1 240.5h0M412.6 234h0M421.2 240.4h0M441.9 233.8h0M409.4 237.4h0M419.5 237.2h0M417.7 235.4h0M419.5 238.4h0M428 234.4h0M436 236.1h0M420.6 239.5h0M441 233.4h0M429.3 234.1h0M431.1 233h0M412.5 234.9h0M411.9 236.6h0M422.4 242.2h0M431.5 237.6h0M437.3 233.8h0M424.4 239.2h0M406.4 234.9h0M421 240.1h0M428.4 234.9h0M430.4 233.2h0M418.7 236.5h0M415.6 235.4h0M446.1 232.8h0M423.3 240.9h0M412.9 235.7h0M419.2 237.3h0M422.1 241h0M405.3 235.2h0M424.7 240.6h0M415.3 237.7h0M418.2 241.2h0M430.9 235.7h0M425 236.5h0M415.2 237h0M413.8 238.1h0M396.5 235.7h0M426.1 238.2h0M415.1 235.9h0M406.1 233.8h0M442.2 235.2h0M413.6 235.7h0M434.4 236.7h0M421.7 240.6h0M427.3 236.3h0M423.9 240.6h0M418.8 239.7h0M405.8 233.4h0M412.4 236h0M409.2 235.2h0M430.9 233h0M429.1 233.5h0M425.6 239.7h0M423.2 239.5h0M417 237.7h0M423.9 239.3h0M421.5 240.6h0M411.6 234.5h0M419.6 238.4h0M419.8 241.3h0M432.7 238.9h0M425.8 241.1h0M413 238.9h0M429.1 233h0M428.9 235.6h0M412.5 237h0M427 238.5h0M421.4 241.5h0M430 236.7h0M412.8 236.6h0M427.8 234.2h0M416.8 235.5h0M412.7 236.3h0M425 239h0M416.2 237.2h0M434.9 235.8h0M423.5 240.1h0M410.8 233.3h0M412.4 233.3h0M424.7 236.8h0M424.2 238.7h0M411.9 234.2h0M417.2 234.4h0M437.5 233.8h0M416.6 235.6h0M412.4 237.7h0M423.5 238.3h0M409.3 235.8h0M421.5 241.1h0M420.1 238.8h0M421.1 241.4h0M435.9 234.9h0M428.6 233.3h0M421.6 242.1h0M405.5 233.2h0M412.5 236.5h0M408.4 233.6h0M413.3 234.3h0M415.1 234.8h0M418.2 237.8h0M393.1 235.6h0M413.7 234.1h0M414.5 233h0M436.5 235.2h0M410.5 235.3h0M416.8 239.7h0M406.7 233.7h0M406.6 235h0M425.6 240.6h0M411.9 235h0M409.8 232.8h0M425 238.4h0M431 234.2h0M419.2 241.4h0M417 235.9h0M436.7 233.2h0M416 237.6h0M427.5 236.3h0M431.6 234.7h0M423.4 241.4h0M414.2 233.1h0M441 235.2h0M424.1 241.5h0M426.5 235.5h0M421.3 240.8h0M414 234.7h0M440.4 233.1h0M425.2 240.3h0M417.4 238.6h0M406.8 233.1h0M424.2 240.3h0M433.2 235.7h0M426.9 236.2h0M409.7 232.8h0M423.1 239.9h0M429 239.1h0M431 236.3h0M419.8 239.9h0M432.5 234.5h0M401.9 235.5h0M412.1 237.7h0M434.5 233.2h0M427 238h0M416.7 239h0M421.3 240.3h0M418.8 241.4h0M428.8 235.6h0M411.2 238.2h0M431 232.8h0M424.5 238.7h0M424.3 241.4h0M419.1 241.9h0M419.8 240.6h0M415.9 235.1h0M418.9 239h0M413.5 237.5h0M413.1 236.9h0M418.3 239.9h0M419.8 242h0M429.5 237.6h0M415.2 239.6h0M417.5 235.4h0M410 236.2h0M424.3 237.7h0M422.3 240.6h0M407.7 233.8h0M411.4 236.2h0M421.9 241.2h0M409.7 234.9h0M424.3 238h0M427.6 241h0M417.4 238.9h0M439.7 233.9h0M425.5 239.6h0M429.3 233.8h0M441 233.7h0M415.9 236.7h0M406.2 234.6h0M402.1 232.7h0M415.1 233.3h0M423.9 240.7h0M418.5 235.9h0M410.1 236.3h0M418.6 236.6h0M391.1 235.9h0M418.6 236h0M427.6 237.3h0M422.4 240.6h0M431.9 233.1h0M430.3 236.5h0M423 240.2h0M408.3 236.2h0M400.6 233.7h0M426.8 239.3h0M409.9 236h0M426.1 237.3h0M420.6 241.2h0M420.5 239.6h0M422.8 239.9h0M425.8 239.1h0M434.5 237.2h0M418.5 237.7h0M420.5 239.4h0M440.5 233.4h0M424.4 237.9h0M422.8 241.6h0M422.6 241.6h0M424.3 239.4h0M430.5 237.7h0M419.6 238h0M427.7 235.5h0M435.1 233h0M434.5 235.5h0M425.4 236.5h0M421.7 241.8h0M438 234.3h0M429.3 237.9h0M420.4 238.7h0M420.2 241.2h0M418.6 240.1h0M417 235.8h0M440.9 232.8h0M415 237.2h0M409.4 234h0M418.4 238.4h0M422 241.4h0M418.7 241.7h0M421.3 239.6h0M415.6 239.4h0M428.5 235.6h0M427.4 236.6h0M418.6 238.6h0M423.2 241.1h0M408.8 236.4h0M421.2 239.9h0M417.9 241.4h0M426.1 235.6h0M432.5 234.8h0M421.4 240.4h0M404.7 236h0M424.5 240.9h0M416.8 241h0M442.4 234.7h0M425.6 241h0M440.7 233.9h0M427.6 233.3h0M426.7 238.8h0M423.1 241.4h0M427.1 235.9h0M426.3 240h0M428.1 237.4h0M432.9 237.6h0M410.9 236.1h0M416.9 237.2h0M435.5 236h0M425.4 239.4h0M443.1 234h0M423.1 240.6h0M398.6 235.7h0M415.6 237.3h0M419.3 238.2h0M412.4 233.2h0M429.9 237.6h0M424 238.5h0M425.3 236.2h0M406.5 235.4h0M406.3 233.4h0M434.3 237.2h0M438.5 233.1h0M419.8 240.1h0M401.7 233h0M406.1 234h0M451 233.2h0M397.8 233.8h0M427.4 237.4h0M420.5 239.9h0M433.9 237.8h0M434.9 234.3h0M420.2 239.5h0M430.7 238.2h0M402.9 232.8h0M428.4 238.3h0M411.5 237.6h0M433.6 233.4h0M426 238.9h0M434.2 238.2h0M422.5 241.2h0M421.9 241.7h0M436.4 236.2h0M421.1 240.1h0M423.2 239.5h0M433.5 233.4h0M431.7 236.9h0M417.7 238.4h0M415.5 236.6h0M437.3 233.7h0M432.2 232.9h0M436.4 235.5h0M417.4 241.3h0M417.9 238.5h0M428.6 235.7h0M436.9 233.7h0M425.4 241h0M421.2 242.1h0M403.5 233.7h0M426.7 236.9h0M428 239.8h0M414.2 235.1h0M429.1 240.4h0M423.1 241.5h0M433.4 237.5h0M426.8 236.4h0M426.1 240.5h0M413.6 234.8h0M419.1 238.7h0M401 234h0M431.9 232.9h0M410.3 236.5h0M424.1 239.6h0M407.7 236.7h0M414 235.4h0M423.1 240.3h0M418.4 240.7h0M421.7 240.9h0M409 233.6h0M393.7 235h0M410.3 233.7h0M425.2 239.1h0M432.2 236.2h0M416.3 236.7h0M396.7 236.1h0M453.5 234.6h0M435.3 236.4h0M429.2 239.1h0M409.7 233.8h0M428.3 236.8h0M419.2 237.2h0M431.2 237.8h0M443 234.3h0M423.4 241.5h0M435.9 233.6h0M438 236h0M418.7 238.9h0M415.6 235.5h0M444.5 234.9h0M429.4 239.1h0M422.8 242.1h0M417.1 236.2h0M400.4 233.3h0M426 239.9h0M435.2 234.9h0M425.8 239.3h0M427.9 235.3h0M418.4 241.2h0M443.9 233.9h0M410.5 236.3h0M418.3 236.6h0M400.2 236.1h0M416.3 236.2h0M421.8 240.3h0M427 236.6h0M416.1 237.9h0M430.1 234.3h0M436.5 234.9h0M408.1 233.7h0M429.4 236.4h0M425.3 240.5h0M425 237.1h0M407.3 234.8h0M422.2 241.3h0M434.3 234.5h0M446.5 235.7h0M417.9 237.2h0M408.8 233.6h0M405.7 232.8h0M408.8 235.2h0M416 237.1h0M414 237.1h0M416.2 237.7h0M414.3 233.7h0M426.6 235h0M407.4 234.8h0M417.1 238.6h0M415.9 240h0M428.8 237.8h0M400 234.7h0M426.1 236.9h0M425.7 235.9h0M428.6 234.4h0M425.8 239.8h0M428.7 236.5h0M415.3 238.8h0M419.2 240.2h0M432.2 234.2h0M436.1 233.4h0M424.6 239.9h0M423.7 241.7h0M426.7 235.2h0M420.5 240.3h0M420.8 240.1h0M420.8 240.6h0M424.4 240h0M431.4 233.2h0M420.2 238.6h0M417.2 235.2h0M419.5 241.4h0M417.6 240.7h0M420.3 240.3h0M439.4 234h0M448.2 233h0M438.4 233.8h0M417.3 237.6h0M424.5 240.9h0M407 234.2h0M411.4 234.3h0M428.2 234.9h0M405.7 233.2h0M414.3 239.5h0M423.8 241.2h0M424.4 237.2h0M417.9 238.2h0M432.1 235.2h0M418.6 239.5h0M439.3 233.2h0M422.1 241h0M421.4 241.9h0M424.8 240.2h0M419.3 237.9h0M409.2 235.4h0M413.8 235.9h0M425.2 240h0M432.7 234.4h0M426.2 239.8h0M425.3 238.2h0M421.2 239.5h0M421.5 240.2h0M417.5 235.6h0M426 235h0M429.4 233.9h0M437.3 232.9h0M423.2 241.4h0M426.9 239.2h0M440 234.4h0M408.8 236.7h0M417.4 236.5h0M427.9 234.7h0M423.7 240h0M411.1 235.7h0M414.2 234.8h0M430.1 234.6h0M415.8 239.5h0M433.6 238.1h0M414.6 240.4h0M428.2 240.1h0M400.2 233.2h0M432.8 238.7h0M417.9 239.2h0M430.8 238.6h0M405.5 234.7h0M411.4 237.7h0M423.3 239.3h0M423 241.3h0M419 241.3h0M404.2 235.4h0M415 234.5h0M437.9 235h0M412.8 236h0M424.7 237.5h0M420.5 238.8h0M440.4 233.9h0M445.1 235.5h0M415.8 232.8h0M427.5 239.9h0M439.4 235h0M403.7 233.7h0M428.8 238.7h0M438.2 234.2h0M409.7 237.8h0M420 240.1h0M430.1 233.1h0M406.3 235.9h0M411.3 237.1h0M420.8 241.3h0M412.7 239.2h0M431.9 235.4h0M425.2 239.1h0M414.2 240.4h0M418.6 237.5h0M415.8 237.4h0M432 237.1h0M430 237.6h0M424.6 241.2h0M433.3 238.5h0M424 238h0M414.9 236h0M430.4 240h0M436.2 234.2h0M432.5 235.5h0"/>
<path fill="none" stroke="#8ac8ef" stroke-width="1.6" stroke-linecap="round" d="M417.4 226h0M417 225.2h0M416.2 223h0M416.5 227.4h0M417.2 229.5h0M416.9 229.6h0M416.3 223.8h0M418.2 226h0M416.8 228.6h0M416 232.5h0M417.1 231.1h0M415.9 232.3h0M416.9 232.4h0M416.4 230h0M416.5 231.6h0M416.1 232.6h0M417.7 226.4h0M416.1 225.5h0M417.6 232.5h0M416.5 226.4h0M418.2 222h0M417 232.5h0M417.1 231.4h0M418 223.2h0M416 232.4h0"/>
<path fill="none" stroke="#f6b9b6" stroke-width="1.6" stroke-linecap="round" d="M426.6 232.1h0M427.2 232.5h0M426.3 231.5h0M426.7 231.4h0M427 226.2h0M427.8 226.6h0M427.6 232.3h0M426.1 231.2h0M427.1 230.1h0M426.4 225.4h0"/>
<path fill="none" stroke="#3d7fc4" stroke-width="1.8" stroke-linecap="round" d="M413.9 231.4h0M415 205.6h0M415.5 216.4h0M410.3 228.1h0M404.8 219.2h0M413.4 218h0M410 221.6h0M415 226.8h0M404.6 229.1h0M406.9 208.5h0M403.9 204.9h0M409.5 220.3h0M414.8 214.3h0M407.8 232.5h0M401.2 164h0M415.1 220.7h0M413.1 217.6h0M412 211.5h0M412.9 229.2h0M411.3 220.5h0M415.5 228.4h0M415.5 231.2h0M410.2 210.8h0M410.1 232.2h0M406.9 218.6h0M411.4 229.6h0M415 220.5h0M413.4 216.4h0M409.3 208h0M399.5 223.5h0M411.2 213.2h0M409 225.9h0M412.9 207.3h0M410.6 213.6h0M407.9 199.2h0M415.5 232.6h0M408 228.5h0M405.2 220.1h0M414.3 232.2h0M411.8 227.9h0M405.5 229.4h0M406 231.2h0M412.9 230.3h0M407.3 225.4h0M414.2 229.4h0M415.4 215.2h0M412.6 203.1h0M406.7 231.7h0M415.6 207.1h0M402.5 230h0M411.7 232.1h0M408.9 222.1h0M411.6 232.4h0M414.5 228.1h0M413.9 229.9h0M406.7 198h0M403.7 228.3h0M405.6 231.2h0M414 209.1h0M414.9 219.2h0M408.3 232.5h0M415.2 207.5h0M414.8 219.8h0M415.4 225.3h0M413.9 213.8h0M412.3 226.7h0M409.2 221.6h0M413.7 230.4h0M408.6 225.9h0M409.9 232.6h0M415.1 219.5h0M403.9 231.9h0M411.3 208.8h0M412 231.1h0M415.1 226.2h0M414.9 229h0M410.4 221.4h0M408.5 232.5h0M413.8 214.8h0M414.8 220.3h0M414.6 230.1h0M410.4 196.3h0M413.2 225.8h0M414.8 231.5h0M407.4 229.3h0M413.5 229.3h0M410.4 221.3h0M413.4 225.1h0M408.6 230.8h0M411 228.5h0M415.6 224.6h0M415.4 219.2h0M413.7 229.3h0M412.9 230.5h0M410.3 228h0M412.3 232.2h0M407.3 225.3h0M404.1 229.8h0M411 232.5h0M414.7 232.4h0M409.3 230.8h0M410.6 230.4h0M410.7 215.8h0M410 230.4h0M412.7 232.5h0M409.2 215.8h0M400.6 206.2h0M414.2 208.5h0M414.9 217.3h0M414.6 207.2h0M408.1 208.1h0M409.7 201.2h0M414.1 231.6h0M406.1 187.9h0M412.4 232.4h0M411.4 232.4h0M412.9 213.6h0M409.5 227.5h0M414.4 228.2h0M410.5 227.1h0M414.5 227.9h0M414.6 214.7h0M409.6 230h0M411.8 214.2h0M412.1 232.5h0M411 227.7h0M406.9 228.2h0M413.8 224.4h0M413.2 231.5h0M414.5 232.5h0M412.7 232.3h0M414 231h0M405.9 227.7h0M409.5 227.5h0M414.6 215.9h0M401.8 226.3h0M410.8 217.3h0M414.1 232.2h0M413.3 232.3h0M412.1 230.3h0M414.4 193.1h0M409 206.2h0M402.9 218.3h0M409.8 229.8h0M412.9 221.8h0M413.2 213.9h0M411.8 227.6h0M414.2 221h0M411.6 220.6h0M412.5 224.6h0M412.5 212.1h0M410.3 227.5h0M411.2 231.7h0M414.5 231.2h0M415.2 231.6h0M413 225.4h0M412.2 222.4h0M411.3 222.8h0M409.5 231.3h0M413 219.7h0M409 211.1h0M412.2 228.9h0M415.1 231.7h0M404.7 173.6h0M409.9 228.7h0M415.6 232.5h0M414.6 216.6h0M410.1 218.2h0M409.7 216.4h0M411.8 232.3h0M413.3 181.2h0M411.5 231.8h0M414.2 212h0M413.8 219.3h0M401.6 232.3h0M412.9 232.5h0M409.2 217.7h0M413.3 231.9h0M407.9 232.2h0M412.7 226.8h0M414.3 229.8h0M406.6 219.2h0M407.7 232.5h0M411.4 222.8h0M414.1 227.6h0M413.2 223.1h0M412.3 216.1h0M410.1 228.6h0M409.5 228.3h0M413.6 224.1h0M414.8 228.1h0M402 224.1h0M411.2 224.7h0M413.4 209h0M398.7 232.3h0M408.9 215.1h0M413.2 226.2h0M414.6 232.3h0M414.4 230h0M415.6 208.1h0M409.8 197.2h0M408.2 228.5h0M413.7 210.3h0M415.5 231.5h0M414.6 223.6h0M412.6 231h0M409.4 231.2h0M415 219.6h0M409.3 150.2h0M415.6 225.8h0M410.6 232.3h0M412.7 232.4h0M414.7 217.2h0M412.7 232h0M406 223.9h0M415.5 219.7h0M414.2 210.4h0M412.7 232.1h0M413.6 230.5h0M407.4 224.2h0M408.4 211.1h0M414.2 228.4h0M410.6 220.2h0M407.8 225.4h0M410.2 232.6h0M411.2 225.7h0"/>
<path fill="none" stroke="#f0413a" stroke-width="1.8" stroke-linecap="round" d="M434.4 230.8h0M429.4 222.7h0M433.6 227.6h0M450.5 230.6h0M429.5 230.1h0M447.7 208.5h0M432.8 232.2h0M428.7 232.5h0M466.6 224.3h0M434.4 220.4h0M435 232.4h0M435.3 216.3h0M431.5 214.8h0M449.5 228.9h0M429.1 224.9h0M431 221.4h0M433 227.9h0M449.7 194.5h0M461.3 206.1h0M450.5 227.5h0M433.2 230.9h0M450.4 215.8h0M429.4 230h0M463.5 225.7h0M430.9 227.5h0M458.5 206.4h0M457.3 168.7h0M430.9 220.8h0M436.5 227.7h0M431.6 228.9h0M429.6 226.3h0M434.4 190.8h0M459.8 226.7h0M438.2 232.4h0M441.4 220h0M461.5 229h0M428.5 228.6h0M436.2 230.2h0M434.6 227.2h0M432.2 223h0M445.4 183.1h0M451.2 195.5h0M429.7 224.1h0M442.9 219.8h0M441.9 226.5h0M434.9 221.6h0M450.5 227.3h0M431.1 229.1h0M428.8 230.8h0M428.2 224.9h0M444.7 190.9h0M454.7 226.5h0M442.6 199.2h0M442.6 219.6h0M434.4 231.9h0M430.3 229.5h0M428.9 228.1h0M435.7 229.1h0M445.7 166.8h0M456.5 199.6h0M465.2 223h0M428.4 228.9h0M432.7 232.6h0M432 222.7h0M436.9 221.5h0M433.3 231h0M445.1 176.7h0M429.6 229.9h0M442.6 227.6h0M433.4 208.1h0M430 218.1h0M433.7 220h0M428.3 231.7h0M429 230.3h0M428.2 224.9h0M435.3 230.8h0M432.2 229.9h0M429.7 215.5h0M431.6 228.7h0M436.3 228.4h0M433.2 222.4h0M428.9 232.4h0M465.6 143h0M434.4 222.5h0M429 221.1h0M433.5 232.5h0M428.6 216.4h0M429.7 215.7h0M429.7 228.3h0M428.4 232.5h0M463.2 218.5h0M450 212.1h0M430.8 222.2h0M433.1 229.3h0M437.2 220.5h0M431.6 232.5h0M434.1 231.8h0M452 222.3h0M459 170.7h0M430.5 216.8h0M431.1 230.5h0M434.4 212h0M433.7 232.4h0M465.2 215.4h0M431.5 227.9h0M429.1 215.1h0M428.2 222.1h0M454.4 229h0M436.1 219.8h0M428.9 230.6h0M428.9 232.5h0M455 227.4h0M445.5 221.6h0M454.3 221.3h0M457.9 226h0M434.4 217.1h0M433.6 208.1h0M435.7 221.9h0M432 224.4h0M433.4 231.9h0M437.2 221.6h0M428.5 213.2h0M456.3 228.4h0M429.5 229.2h0M443.1 232.5h0M434.4 216.5h0M428.4 212.4h0M464.4 217.6h0M434.5 220.9h0M458.6 220h0M447 222h0M459.7 216.7h0M439.6 192h0M442.5 232h0M453.2 175h0M434.2 216.6h0M433.3 227.2h0M429.6 228.9h0M450.5 225.6h0M435.5 216.8h0M459.6 231.4h0M431 230.1h0M437 232.3h0M428.3 232.5h0M452.6 218.6h0M432 225h0M429.3 231.9h0M430.2 223.1h0M439.8 215.8h0M434.6 231.4h0M434.4 214.9h0M439.7 205.6h0M443 227h0M434.1 229.1h0M433.1 228.4h0M460.4 219h0M429.9 232.5h0M437.9 230.1h0M446.8 228.6h0M446.7 170.7h0M431.1 221h0M440 229.4h0M432.1 231.1h0M435.5 208h0M449.7 230.8h0M448.8 205.2h0M451.1 229.2h0M428.5 227.4h0M442.8 232.5h0M433.7 230.6h0M437.6 216.4h0M430.5 229.2h0M433.8 228.7h0M460.9 231.1h0M430.1 208.5h0M436.7 221.6h0M431.5 232.4h0M431.5 224.5h0M432.2 229.9h0M431.1 199.6h0M429 230.2h0M432.8 189h0M430.6 232.4h0M443.6 231.6h0M431.8 221.2h0M429.2 222.5h0M428.2 219.2h0M460.4 198h0M429.8 222.6h0M453.4 218.1h0M429.4 232.4h0M432.2 232.3h0M466.4 229.7h0M453.3 232.5h0M430.2 229.9h0M429.4 232.5h0M431.2 231.1h0M463.5 220.2h0M442.8 207.5h0M442.8 208.4h0M429 227.7h0M434.1 230.8h0M436 222.6h0M457.3 211.4h0M455.9 187.6h0M433.2 224.2h0M441.6 230.1h0M431.4 229.9h0M453.8 232.5h0M432.7 228.2h0M447.3 230.4h0M466.9 230.8h0M452.9 215.6h0M431.4 205.5h0M446 202.5h0M460.4 143h0M429.2 231.1h0M465 228h0M438.6 218.1h0M438.8 208.9h0M444.2 230.2h0M458.3 226.3h0M439.3 215.2h0M432.7 214.9h0M466.3 209.4h0M428.6 231.7h0M432.1 229.7h0M428.5 219.5h0M433.9 219.6h0M443.1 218.9h0M430 195.6h0M457.7 225h0M441.6 232.5h0M432.9 207.4h0M429.1 226.7h0M451 213.2h0M429.1 223.1h0M432.6 230.9h0M430.6 229.5h0M428.4 221h0M453.7 187.5h0M432.6 228.9h0M452.3 215.5h0M466.2 229.9h0M428.5 223.9h0M433.8 229.1h0M438.5 232.1h0M431.6 232.5h0M456.9 230.3h0M434.1 219h0M429.6 226.9h0M433.1 208.8h0M430.1 231.3h0M443.4 228.3h0M430.7 213.2h0M436.1 226.4h0M429.5 227.9h0M432.4 221.7h0M429.7 229.4h0M432.2 232.5h0M429.5 231.6h0M455.8 193.4h0M429.1 229.8h0M436.6 213.3h0M429.8 232.1h0M430.7 232.6h0M428.7 211.4h0M429.9 231.7h0M433.5 222.2h0M429.4 205.2h0M457.7 224.7h0M466.6 214.5h0M428.3 224.3h0M437.6 205h0M438.5 157.8h0M430.6 228.4h0M460 208.4h0M430 183.1h0M435.1 224.5h0M431.6 209.2h0M444.4 198.3h0M430.1 229.7h0M430.5 232.6h0M460.9 220.9h0M429.5 216h0M428.5 227.5h0M428.7 228.6h0M434.6 228h0M439 207.7h0M439.9 224.3h0M436.1 211h0M438.3 207.1h0M435.5 218.2h0M430.4 229.8h0M459.5 180.5h0M432.1 218.8h0M428.2 210.5h0M456.8 225.3h0M436.1 232.3h0M456.6 221.4h0M453.6 194h0M430.6 230.2h0M434.8 205.4h0M462.2 166.1h0M457.7 230.8h0M431.3 232.2h0M443.6 227.6h0M431.7 229.4h0M453.7 222.5h0M428.3 219.4h0M448.3 219.9h0M439.4 232.5h0M435.6 229.8h0M430.8 230.1h0M432.8 218h0M442.4 209.1h0M432.7 232.3h0M432 222.2h0M428.2 224.5h0M439.6 228.4h0M438.1 230.6h0M432.8 211h0M452 195.4h0M439.5 224h0M465.7 214.2h0M442.4 230.9h0M429.3 221.5h0M453.6 189.2h0M429.2 232.3h0M439.8 226.5h0M436.2 224.7h0M440.5 209.1h0M433.2 232.5h0M448 228.7h0M452 222.9h0M447.9 215.1h0M429.6 230.2h0M433.7 232.3h0M431.4 205.4h0M455.1 208.3h0M431.5 232.5h0M428.2 232.2h0M430.1 226.3h0M428.4 232.1h0M467.4 188.7h0M429.1 211.2h0M428.8 220.9h0M465 199.2h0M434.4 208.3h0M466.8 206.8h0M456.4 222.7h0M440.8 223.5h0M430.9 211.6h0M447.8 183.8h0M437.8 210.9h0M429.3 183h0M437.1 232.6h0M429.8 231.2h0M460 213.8h0M433.5 226.5h0M435.6 217.5h0M463 219h0M460.9 219.4h0M462.3 200.6h0M428.2 218.7h0M436.4 198.5h0M435.5 229.5h0M453.3 229.4h0M437.5 200.5h0M433.8 210.9h0M439.9 227.1h0M429.3 212.7h0M439.6 232.5h0M429.8 209.5h0M441.6 216.5h0M428.4 213.1h0M435.8 232.5h0M429.3 214.1h0M428.2 228.6h0M437 212.1h0M434.5 229h0M454.7 231.3h0M430.7 226.7h0M433.7 228.1h0M436.5 219.7h0M428.8 230.5h0M444.1 194.7h0M456.2 224.3h0M448.6 178h0M432.9 219.6h0M436 217.5h0M433.5 216h0M430.3 230.7h0M448.1 221.9h0M459.5 197.5h0M428.7 228.7h0M430.5 226.9h0M446.4 224.7h0M429 219.8h0M430.6 225.8h0M433.5 222.8h0M431.3 230.8h0M431 216.5h0M457.9 215.3h0"/>
<path fill="none" stroke="#3d7fc4" stroke-width="1.7" stroke-linecap="round" d="M396.8 56.1h0M394.4 72.4h0M393.8 84.6h0M404 103.3h0M388.4 135.9h0M398.6 135h0M401 145.6h0M408.1 163.5h0M410.5 167.6h0M398.6 179h0M401.6 181.4h0M405.8 180.6h0M390.8 201h0M385.4 201h0M389.6 223h0M387.2 230.3h0M380.6 226.2h0M404 206.7h0M406.4 192h0M409.3 187.1h0M412.3 187.9h0"/>
<path fill="none" stroke="#f0413a" stroke-width="1.7" stroke-linecap="round" d="M467.3 68.3h0M465 92.7h0M444.6 117.1h0M453 116.3h0M454.8 118.8h0M450 124.5h0M454.2 134.2h0M450.6 122.8h0M454.8 127.7h0M450 147.2h0M452.4 156.2h0M453.6 162.7h0M475.1 174.9h0M444 173.3h0M433.9 179h0M441.6 170.9h0M446.4 179.8h0M450 178.2h0M462.6 186.3h0M472.7 194.5h0M445.2 193.6h0M448.2 195.3h0M436.8 198.5h0M467.3 207.5h0M473.3 219.7h0M478.1 228.6h0M460.2 217.3h0M453.6 212.4h0"/>
</g>
<line x1="415.92" y1="49.3" x2="415.92" y2="251.6" stroke="#9a9a9a" stroke-width="0.5" stroke-dasharray="1,1"/>
<line x1="427.88" y1="49.3" x2="427.88" y2="251.6" stroke="#9a9a9a" stroke-width="0.5" stroke-dasharray="1,1"/>
<line x1="343.6" y1="232.71" x2="500.3" y2="232.71" stroke="#9a9a9a" stroke-width="0.5" stroke-dasharray="1,1"/>
<rect x="343.6" y="49.3" width="156.7" height="202.3" fill="none" stroke="#333" stroke-width="0.9" />
<line x1="342.1" y1="243.3" x2="343.6" y2="243.3" stroke="#333" stroke-width="0.5" />
<text x="341.3" y="244.5" font-size="3.92" text-anchor="end" font-weight="normal" fill="#444"  textLength="1.95" lengthAdjust="spacingAndGlyphs" stroke="#444" stroke-width="0.08">0</text>
<line x1="342.1" y1="202.6" x2="343.6" y2="202.6" stroke="#333" stroke-width="0.5" />
<text x="341.3" y="203.8" font-size="3.92" text-anchor="end" font-weight="normal" fill="#444"  textLength="1.95" lengthAdjust="spacingAndGlyphs" stroke="#444" stroke-width="0.08">5</text>
<line x1="342.1" y1="161.9" x2="343.6" y2="161.9" stroke="#333" stroke-width="0.5" />
<text x="341.3" y="163.1" font-size="3.92" text-anchor="end" font-weight="normal" fill="#444"  textLength="3.89" lengthAdjust="spacingAndGlyphs" stroke="#444" stroke-width="0.08">10</text>
<line x1="342.1" y1="121.2" x2="343.6" y2="121.2" stroke="#333" stroke-width="0.5" />
<text x="341.3" y="122.4" font-size="3.92" text-anchor="end" font-weight="normal" fill="#444"  textLength="3.89" lengthAdjust="spacingAndGlyphs" stroke="#444" stroke-width="0.08">15</text>
<line x1="342.1" y1="80.5" x2="343.6" y2="80.5" stroke="#333" stroke-width="0.5" />
<text x="341.3" y="81.7" font-size="3.92" text-anchor="end" font-weight="normal" fill="#444"  textLength="3.89" lengthAdjust="spacingAndGlyphs" stroke="#444" stroke-width="0.08">20</text>
<line x1="362.1" y1="251.6" x2="362.1" y2="253.1" stroke="#333" stroke-width="0.5" />
<text x="362.1" y="257.2" font-size="3.92" text-anchor="middle" font-weight="normal" fill="#444"  textLength="5.06" lengthAdjust="spacingAndGlyphs" stroke="#444" stroke-width="0.08">-10</text>
<line x1="392" y1="251.6" x2="392" y2="253.1" stroke="#333" stroke-width="0.5" />
<text x="392" y="257.2" font-size="3.92" text-anchor="middle" font-weight="normal" fill="#444"  textLength="3.11" lengthAdjust="spacingAndGlyphs" stroke="#444" stroke-width="0.08">-5</text>
<line x1="421.9" y1="251.6" x2="421.9" y2="253.1" stroke="#333" stroke-width="0.5" />
<text x="421.9" y="257.2" font-size="3.92" text-anchor="middle" font-weight="normal" fill="#444"  textLength="1.95" lengthAdjust="spacingAndGlyphs" stroke="#444" stroke-width="0.08">0</text>
<line x1="451.8" y1="251.6" x2="451.8" y2="253.1" stroke="#333" stroke-width="0.5" />
<text x="451.8" y="257.2" font-size="3.92" text-anchor="middle" font-weight="normal" fill="#444"  textLength="1.95" lengthAdjust="spacingAndGlyphs" stroke="#444" stroke-width="0.08">5</text>
<line x1="481.7" y1="251.6" x2="481.7" y2="253.1" stroke="#333" stroke-width="0.5" />
<text x="481.7" y="257.2" font-size="3.92" text-anchor="middle" font-weight="normal" fill="#444"  textLength="3.89" lengthAdjust="spacingAndGlyphs" stroke="#444" stroke-width="0.08">10</text>
<text x="0" y="0" font-size="5.5" fill="#333" stroke="#333" stroke-width="0.08" text-anchor="middle" transform="translate(334.6,150.45) rotate(-90)">&#8722;log<tspan font-size="3.6" dy="1.2">10</tspan><tspan dy="-1.2">q-value</tspan></text>
<text x="422.9" y="263.6" font-size="5.4" fill="#333" stroke="#333" stroke-width="0.08" text-anchor="middle">log<tspan font-size="3.6" dy="1.2">2</tspan><tspan dy="-1.2"> FoldChange</tspan></text>
<text x="351.1" y="56.9" font-size="3.92" text-anchor="start" font-weight="normal" fill="#333"  textLength="8.95" lengthAdjust="spacingAndGlyphs" stroke="#333" stroke-width="0.08">Down</text>
<text x="351.1" y="62.4" font-size="3.92" text-anchor="start" font-weight="normal" fill="#333"  textLength="19.56" lengthAdjust="spacingAndGlyphs" stroke="#333" stroke-width="0.08">q &lt; 3.05.040</text>
<text x="351.1" y="67.9" font-size="3.92" text-anchor="start" font-weight="normal" fill="#333"  textLength="25.2" lengthAdjust="spacingAndGlyphs" stroke="#333" stroke-width="0.08">log2FC &lt; -1.505</text>
<text x="351.1" y="73.4" font-size="3.92" text-anchor="start" font-weight="normal" fill="#333"  textLength="14.79" lengthAdjust="spacingAndGlyphs" stroke="#333" stroke-width="0.08">Sig. : 226</text>
<text x="468.5" y="56.3" font-size="3.92" text-anchor="start" font-weight="normal" fill="#333"  textLength="4.47" lengthAdjust="spacingAndGlyphs" stroke="#333" stroke-width="0.08">Up</text>
<text x="468.5" y="61.9" font-size="3.92" text-anchor="start" font-weight="normal" fill="#333"  textLength="20.53" lengthAdjust="spacingAndGlyphs" stroke="#333" stroke-width="0.08">q &lt; 0.05. 416</text>
<text x="468.5" y="67.5" font-size="3.92" text-anchor="start" font-weight="normal" fill="#333"  textLength="26.95" lengthAdjust="spacingAndGlyphs" stroke="#333" stroke-width="0.08">log2FC &gt; 1. 1590</text>
<text x="468.5" y="73.1" font-size="3.92" text-anchor="start" font-weight="normal" fill="#333"  textLength="14.79" lengthAdjust="spacingAndGlyphs" stroke="#333" stroke-width="0.08">Sig. : 404</text>
<text x="376" y="190.6" font-size="3.81" text-anchor="start" font-weight="normal" fill="#3d7fc4"  textLength="13.61" lengthAdjust="spacingAndGlyphs" stroke="#3d7fc4" stroke-width="0.08">RNASE2</text>
<line x1="390" y1="189.5" x2="393.5" y2="188" stroke="#3d7fc4" stroke-width="0.35" />
<text x="362.3" y="201.9" font-size="3.81" text-anchor="start" font-weight="normal" fill="#3d7fc4"  textLength="17.95" lengthAdjust="spacingAndGlyphs" stroke="#3d7fc4" stroke-width="0.08">ADAMTS18</text>
<line x1="381" y1="200.6" x2="384" y2="200.6" stroke="#3d7fc4" stroke-width="0.35" />
<text x="394.8" y="201.9" font-size="3.81" text-anchor="start" font-weight="normal" fill="#3d7fc4"  textLength="12.6" lengthAdjust="spacingAndGlyphs" stroke="#3d7fc4" stroke-width="0.08">TAS1R2</text>
<text x="384" y="213.3" font-size="3.81" text-anchor="start" font-weight="normal" fill="#3d7fc4"  textLength="13.42" lengthAdjust="spacingAndGlyphs" stroke="#3d7fc4" stroke-width="0.08">SPTSSB</text>
<line x1="390" y1="214.5" x2="390" y2="225" stroke="#3d7fc4" stroke-width="0.35" />
<text x="367.8" y="223.1" font-size="3.81" text-anchor="start" font-weight="normal" fill="#3d7fc4"  textLength="10.01" lengthAdjust="spacingAndGlyphs" stroke="#3d7fc4" stroke-width="0.08">FMOD</text>
<line x1="378" y1="222" x2="384" y2="223" stroke="#3d7fc4" stroke-width="0.35" />
<text x="394.8" y="223.1" font-size="3.81" text-anchor="start" font-weight="normal" fill="#3d7fc4"  textLength="8.88" lengthAdjust="spacingAndGlyphs" stroke="#3d7fc4" stroke-width="0.08">PCP4</text>
<text x="375.6" y="234.2" font-size="3.81" text-anchor="start" font-weight="normal" fill="#3d7fc4"  textLength="8.63" lengthAdjust="spacingAndGlyphs" stroke="#3d7fc4" stroke-width="0.08">KRT4</text>
<line x1="383.5" y1="233" x2="388" y2="230.5" stroke="#3d7fc4" stroke-width="0.35" />
<text x="394.8" y="234.2" font-size="3.81" text-anchor="start" font-weight="normal" fill="#3d7fc4"  textLength="12.66" lengthAdjust="spacingAndGlyphs" stroke="#3d7fc4" stroke-width="0.08">SLC1A3</text>
<text x="383.3" y="245.6" font-size="3.81" text-anchor="start" font-weight="normal" fill="#3d7fc4"  textLength="8.69" lengthAdjust="spacingAndGlyphs" stroke="#3d7fc4" stroke-width="0.08">BEX5</text>
<line x1="388.5" y1="243.5" x2="388.5" y2="231" stroke="#3d7fc4" stroke-width="0.35" />
<text x="384.4" y="88.5" font-size="3.81" text-anchor="start" font-weight="normal" fill="#3d7fc4"  textLength="9.95" lengthAdjust="spacingAndGlyphs" stroke="#3d7fc4" stroke-width="0.08">CRYM</text>
<line x1="392.5" y1="86" x2="394" y2="83" stroke="#3d7fc4" stroke-width="0.35" />
<text x="458.5" y="178.6" font-size="3.81" text-anchor="start" font-weight="normal" fill="#f0413a"  textLength="24.01" lengthAdjust="spacingAndGlyphs" stroke="#f0413a" stroke-width="0.08">LOC106608630</text>
<line x1="473" y1="180" x2="476" y2="184" stroke="#f0413a" stroke-width="0.35" />
<text x="455.5" y="192.1" font-size="3.81" text-anchor="start" font-weight="normal" fill="#f0413a"  textLength="11.15" lengthAdjust="spacingAndGlyphs" stroke="#f0413a" stroke-width="0.08">FOXE1</text>
<line x1="466.5" y1="191" x2="470" y2="193" stroke="#f0413a" stroke-width="0.35" />
<text x="473" y="191.6" font-size="3.81" text-anchor="start" font-weight="normal" fill="#f0413a"  textLength="24.01" lengthAdjust="spacingAndGlyphs" stroke="#f0413a" stroke-width="0.08">LOC101... 6668</text>
<line x1="476" y1="193" x2="478" y2="197" stroke="#f0413a" stroke-width="0.35" />
<text x="449.5" y="203.9" font-size="3.81" text-anchor="start" font-weight="normal" fill="#f0413a"  textLength="24.01" lengthAdjust="spacingAndGlyphs" stroke="#f0413a" stroke-width="0.08">LOC102173882</text>
<line x1="473.5" y1="202.5" x2="476" y2="202.5" stroke="#f0413a" stroke-width="0.35" />
<text x="481" y="206.2" font-size="3.81" text-anchor="start" font-weight="normal" fill="#f0413a"  textLength="10.9" lengthAdjust="spacingAndGlyphs" stroke="#f0413a" stroke-width="0.08">SLPI11</text>
<text x="452" y="215" font-size="3.81" text-anchor="start" font-weight="normal" fill="#f0413a"  textLength="20.22" lengthAdjust="spacingAndGlyphs" stroke="#f0413a" stroke-width="0.08">LOC...1 3604</text>
<line x1="474" y1="214" x2="477.5" y2="216" stroke="#f0413a" stroke-width="0.35" />
<text x="482" y="221.6" font-size="3.81" text-anchor="start" font-weight="normal" fill="#f0413a"  textLength="14.74" lengthAdjust="spacingAndGlyphs" stroke="#f0413a" stroke-width="0.08">TNFSF10</text>
<text x="449.5" y="225.9" font-size="3.81" text-anchor="start" font-weight="normal" fill="#f0413a"  textLength="24.01" lengthAdjust="spacingAndGlyphs" stroke="#f0413a" stroke-width="0.08">LOC102174084</text>
<line x1="474.5" y1="226" x2="478" y2="228" stroke="#f0413a" stroke-width="0.35" />
<text x="443.6" y="237" font-size="3.81" text-anchor="start" font-weight="normal" fill="#f0413a"  textLength="24.01" lengthAdjust="spacingAndGlyphs" stroke="#f0413a" stroke-width="0.08">LOC102184289</text>
<text x="473" y="237" font-size="3.81" text-anchor="start" font-weight="normal" fill="#f0413a"  textLength="24.01" lengthAdjust="spacingAndGlyphs" stroke="#f0413a" stroke-width="0.08">LOC106608607</text>
<line x1="478" y1="232.5" x2="479" y2="230" stroke="#f0413a" stroke-width="0.35" />
<circle cx="510.6" cy="138.9" r="0.9" fill="#f0413a"/>
<text x="515.2" y="140.2" font-size="4.2" text-anchor="start" font-weight="normal" fill="#333"  textLength="23.14" lengthAdjust="spacingAndGlyphs" stroke="#333" stroke-width="0.14">Significant Up</text>
<circle cx="510.6" cy="145.4" r="0.9" fill="#3d7fc4"/>
<text x="515.2" y="146.7" font-size="4.2" text-anchor="start" font-weight="normal" fill="#333"  textLength="27.93" lengthAdjust="spacingAndGlyphs" stroke="#333" stroke-width="0.14">Significant Down</text>
<circle cx="510.6" cy="151.9" r="0.9" fill="#f6b9b6"/>
<text x="515.2" y="153.2" font-size="4.2" text-anchor="start" font-weight="normal" fill="#333"  textLength="4.79" lengthAdjust="spacingAndGlyphs" stroke="#333" stroke-width="0.14">Up</text>
<circle cx="510.6" cy="158.4" r="0.9" fill="#8ac8ef"/>
<text x="515.2" y="159.7" font-size="4.2" text-anchor="start" font-weight="normal" fill="#333"  textLength="9.59" lengthAdjust="spacingAndGlyphs" stroke="#333" stroke-width="0.14">Down</text>
<circle cx="510.6" cy="164.9" r="0.9" fill="#d0d7e0"/>
<text x="515.2" y="166.2" font-size="4.2" text-anchor="start" font-weight="normal" fill="#333"  textLength="24.8" lengthAdjust="spacingAndGlyphs" stroke="#333" stroke-width="0.14">Non-significant</text>
<text x="422.5" y="297.2" font-size="5.2" fill="#222" stroke="#222" stroke-width="0.08" text-anchor="middle" textLength="99" lengthAdjust="spacingAndGlyphs">VDAC2_Si-vs-WT: q-value&lt;0.05 &amp;&amp; |log<tspan font-size="3.6" dy="1">2</tspan><tspan dy="-1"> FC|&gt;1</tspan></text>
<clipPath id="clip23"><rect x="344" y="302" width="156.8" height="202.6"/></clipPath>
<g clip-path="url(#clip23)">
<path fill="none" stroke="#d0d7e0" stroke-width="1.4" stroke-linecap="round" d="M461.5 484.8h0M401.7 488h0M405.8 487h0M411.4 491.6h0M429 491.6h0M440.4 486.7h0M429.5 486.8h0M423.1 493.5h0M392.3 486.8h0M419.5 494.6h0M426.9 489.5h0M398.1 485.8h0M438.9 485.6h0M418.7 492.5h0M397.8 486.9h0M410.2 491.7h0M393.2 485.9h0M426.6 491.1h0M414.7 491.9h0M412.9 490h0M426.7 493.5h0M410.9 491.7h0M436.1 487.1h0M425.5 489.9h0M413.4 490.4h0M437.2 488.6h0M425.9 492.8h0M399.2 487.9h0M427.9 487.4h0M393.9 487.3h0M382.6 485.9h0M410.4 484.8h0M446.5 488.2h0M465 486.5h0M454.8 485.5h0M426.8 487.7h0M437 487.1h0M380 484.5h0M421.8 493h0M405.1 487.6h0M424.4 492.4h0M428.7 491.9h0M462.8 487.4h0M403.8 488.7h0M410.9 487.8h0M419.9 491.5h0M421.5 492.9h0M441 486.6h0M400.7 485.1h0M454.1 484.8h0M414.7 487.3h0M404.5 485.2h0M413.3 490.4h0M411.5 489h0M425.1 491.6h0M398.8 485h0M441.9 486.9h0M438.1 486.8h0M429 485.4h0M410 491.7h0M400.8 487.3h0M413.2 488h0M402.3 485.4h0M425.5 494.9h0M398.9 487.7h0M444.2 484.9h0M429.8 491.7h0M448.3 486.4h0M415.2 487.7h0M425.4 491.7h0M413.4 488h0M400.8 486.1h0M410.3 491.7h0M459.2 484.9h0M435.9 485.8h0M405.7 486.1h0M409.9 489.4h0M412.6 489.7h0M407 488.4h0M465.7 486.6h0M392.5 486.3h0M438.2 486.8h0M421.4 494.8h0M436.6 489.4h0M418.8 491.9h0M457.5 487.9h0M412.9 487.9h0M424.1 492.8h0M430.8 485.6h0M410.9 490.3h0M447.6 488.2h0M419.1 490.7h0M419.1 494h0M439 485.2h0M447.1 486.6h0M438 486.1h0M419.9 491.1h0M429 487.7h0M446 484.8h0M465.6 487.5h0M446.8 487.7h0M424.9 490.9h0M393.8 486h0M427.5 488.2h0M432.7 487.5h0M399.6 486.9h0M427.3 487.9h0M427.9 492.2h0M407.6 486.8h0M429 488.7h0M434.3 489h0M406.8 486.4h0M420.5 493.8h0M380.3 484.8h0M473.4 487.8h0M415.9 490.7h0M427.1 494.2h0M387.9 486.6h0M416.9 490.3h0M391.5 487.4h0M416.6 491.7h0M425.4 492h0M432.7 488.9h0M400 487.2h0M411 488.6h0M446.9 487.6h0M432.3 484.7h0M400.4 486.1h0M408.1 486.9h0M408.4 485h0M448.6 486.5h0M418.7 494.4h0M431.7 489.3h0M406.5 490.5h0M439.7 484.6h0M425.8 490h0M415 491.1h0M395.7 487.6h0M416.6 489.7h0M417.9 491.2h0M412.9 492.7h0M419.4 492.5h0M437.9 488.3h0M442.6 485.8h0M421.9 493.9h0M397 487.4h0M393 487.1h0M463.2 487.1h0M399 485.2h0M422.9 494h0M425.7 489.9h0M421 493.2h0M430.5 486.9h0M415.8 486.5h0M417.5 488.5h0M414.2 484.7h0M448.2 488h0M443.8 488h0M430.1 484.8h0M393.9 485.7h0M407.4 487h0M420.8 491.9h0M399.4 487.4h0M392.2 485.4h0M421.1 492.6h0M414.9 492.1h0M423.2 492.6h0M428.3 492.7h0M422.1 493.3h0M421.9 493.5h0M400.3 485.1h0M411.9 487.2h0M442.8 486.8h0M446.9 485.9h0M382.5 486.5h0M418.8 490.2h0M436 486.5h0M429.9 487.6h0M428.1 487.4h0M411.1 485.9h0M428.1 489h0M429.7 484.7h0M407.3 487.4h0M409.3 485.7h0M399.5 485.9h0M418.7 489.8h0M432.8 490.1h0M388.7 485.8h0M434.8 484.8h0M395.8 484.8h0M437 488.3h0M437.5 489.1h0M421.6 493.3h0M433.1 489.2h0M429.9 485.4h0M411.5 487.8h0M424.6 493.4h0M445.7 484.5h0M427.7 487.9h0M421 493.2h0M411.4 487.1h0M423 494.9h0M402.1 484.7h0M419 492.2h0M451.7 485.2h0M417.7 491.5h0M428.8 489.3h0M426.8 489.5h0M404 487.3h0M420.7 492h0M410.7 484.9h0M457.6 485.2h0M427.3 488.9h0M445.2 485.2h0M440.2 486h0M465 485.7h0M411.9 485h0M431.4 488.1h0M434 487.8h0M446.7 485.8h0M414.3 487.6h0M439.3 485.6h0M415.7 488.9h0M408.3 490.3h0M431.5 493.4h0M414 492.8h0M435.1 487.9h0M397.2 485.2h0M455.5 485.6h0M430.3 492.3h0M409.9 487.2h0M429.4 489.4h0M474.3 484.8h0M422.1 493.6h0M430 486.9h0M420.3 491.4h0M463.6 485.5h0M473.7 487.7h0M415.8 488h0M421.1 494h0M392.3 486.1h0M391.6 488.2h0M403.2 487h0M409.1 490.9h0M451.6 488.1h0M428.7 489.7h0M427.9 487.1h0M416.7 489.3h0M428.6 490.7h0M394.6 486.4h0M408.8 486.2h0M395.8 485.3h0M397.5 484.8h0M421.6 493.8h0M407 485.8h0M428.3 486.9h0M393 485.1h0M396.6 488.2h0M415.2 489.5h0M416 487.4h0M381.9 486.4h0M426.8 489.6h0M459.6 487.5h0M458.3 485.9h0M430.7 492.3h0M446.1 485.3h0M420.4 492h0M421.1 494.5h0M444.1 485.8h0M392.3 487.8h0M434.8 490.1h0M421.1 493.8h0M422.6 492.4h0M429.5 485.8h0M413.3 491.1h0M423.6 493.7h0M447.9 487.4h0M431.7 491.1h0M427.7 487h0M443.9 487.4h0M427.8 488.2h0M439.5 485.6h0M422.2 495.1h0M408.1 487.8h0M430.5 487.4h0M454 487.1h0M439.5 485.5h0M427.3 492.6h0M427.9 493.4h0M422 494.9h0M431.9 485.6h0M400.8 486.2h0M418.1 489.7h0M427.2 489.1h0M423.5 495.1h0M396.3 485h0M421 495.2h0M409 487.2h0M431 493.2h0M423.1 493.1h0M376.1 485.6h0M439.8 485.2h0M391.6 486.3h0M449.6 485h0M438.9 485.9h0M402.3 485.8h0M467.5 487h0M424.8 493.4h0M409.2 485.1h0M456.6 486.6h0M434.4 487.4h0M407.6 489.5h0M385.2 488h0M408.9 488.4h0M420.9 494.6h0M441.9 488.2h0M434.6 489.7h0M415.7 487.3h0M427.2 487.7h0M454.3 487.5h0M428.5 487.5h0M449.9 484.7h0M433.1 490.1h0M430.4 485.6h0M436.2 485.8h0M443.7 485.3h0M454.7 484.6h0M432.5 486.4h0M420.1 494.9h0M430 491.1h0M443 487.4h0M409.2 485h0M437.7 486.7h0M394.6 487.5h0M411.9 485.9h0M424.6 492.4h0M388.5 486.1h0M439.9 486h0M431.1 484.8h0M435.1 486h0M411.8 485.5h0M448.7 486.9h0M415.3 486.4h0M445.4 486.4h0M424.3 490.8h0M413.1 491.6h0M413.5 493.3h0M422.3 494h0M390 487.3h0M410.6 487.9h0M417.6 492.1h0M410.1 490.1h0M447.3 486.9h0M381.8 487.7h0M404.9 488h0M419.6 492.5h0M437.6 485.4h0M434.1 488.5h0M448.3 485.9h0M397.1 487.5h0M421.5 493.5h0M395.8 485.9h0M440.4 486.9h0M433.3 492.7h0M421 494.6h0M418.9 490.9h0M414.4 492.9h0M414.4 493.8h0M446.3 486.5h0M451.4 486.6h0M421.8 493.1h0M391.7 486.8h0M407.9 488.4h0M412.5 486.8h0M392.5 487.7h0M407.8 489.5h0M429.5 492.5h0M421.8 494.2h0M411.8 493.1h0M414.7 493.1h0M397.3 484.6h0M452.3 485.1h0M420.9 492.8h0M436.3 489.3h0M423.9 494.9h0M406.1 488h0M403.2 485.4h0M423.4 494.5h0M436.7 489.2h0M434.4 486.2h0M404.8 485.1h0M413.2 484.7h0M406.9 490.4h0M389.4 485.5h0M441.6 486.8h0M436.2 486.1h0M394.7 487.1h0M410.5 485.6h0M397.8 486.2h0M448.2 487.4h0M409.4 487.3h0M430.3 490.1h0M445.8 484.5h0M404.2 485.2h0M448.9 486.7h0M410.6 489.1h0M414.8 489.5h0M416.7 493h0M400.8 485.7h0M399.7 486.4h0M419.7 491h0M406.7 487.3h0M399.7 486.6h0M397.2 486.4h0M434.1 491.7h0M423 494.9h0M427.9 490.9h0M407.4 489.6h0M435.9 489.5h0M407.6 489.2h0M426.8 490.6h0M422.5 495.1h0M415.5 489.9h0M442.2 486.7h0M406 484.6h0M407.1 485.4h0M391.1 488.3h0M432.9 489h0M452.3 484.8h0M460.7 485.8h0M440.5 486.9h0M432.7 488.5h0M402.1 487.5h0M424.1 493.4h0M411.9 492.2h0M437.2 490.6h0M423.4 493.1h0M419.9 492.8h0M424.8 493.1h0M424.5 493h0M444.5 488.2h0M466.1 487.3h0M401.4 485.6h0M410 487.7h0M414.9 491.1h0M418.7 494.6h0M441.7 487.3h0M453.1 486.9h0M418.7 489.5h0M404.9 487.9h0M453.3 484.8h0M386.5 487.7h0M432.9 489h0M404.1 485h0M448.3 487.7h0M412.4 492.6h0M427.9 492.9h0M435.7 488.1h0M428.8 485.9h0M404 487.5h0M396.7 486.9h0M410.6 492.6h0M428.9 491.1h0M427.2 490.3h0M419.3 493.6h0M422.3 493.7h0M416.8 489h0M412 485.3h0M424.3 494.9h0M452.1 484.9h0M406.9 485.2h0M404.4 486.9h0M440.6 486.1h0M395.8 487h0M446.5 486h0M427.7 487.3h0M424.5 492.9h0M384.4 485.4h0M459.6 487.6h0M401.7 485.8h0M416.3 491.8h0M414.8 488.2h0M465.3 486h0M411 491h0M393.4 485.2h0M411.5 489.8h0M423 491.8h0M444.1 486.2h0M389.3 485.7h0M398.2 486.1h0M440 487.3h0M443.2 488.3h0M418.9 490.4h0M434.1 488.3h0M430.3 491.2h0M403.2 486.3h0M428.1 488.5h0M419.6 493.6h0M416.5 493.3h0M411.9 485.6h0M439.4 489.7h0M425.8 490h0M412 485.6h0M445.7 488.2h0M419.8 493.5h0M396.7 484.6h0M432.7 485.3h0M430.7 487.2h0M425.6 493.2h0M403 486.2h0M411 489.4h0M434.8 488.9h0M413.8 491.8h0M419.5 491.8h0M431.3 493.3h0M423.4 491.8h0M455 486.8h0M418.7 491.1h0M388.8 485.8h0M422.3 494.2h0M405.9 488.6h0M424.5 492.1h0M443.7 487.5h0M425.4 493.3h0M424 494.1h0M397.7 486.1h0M398.9 485.7h0M415.6 487.7h0M425.3 490.3h0M431.3 486.9h0M434.5 486.4h0M431.2 489.4h0M437.4 487h0M426.3 491.8h0M412.6 485h0M426.9 488.7h0M432.1 487.3h0M401.9 488.1h0M424.9 491.2h0M420.1 491.3h0M441.5 486.2h0M408.5 489.3h0M432.4 487.3h0M420 495.1h0M413.1 489.4h0M434.4 490.6h0M443.2 486.2h0M429.7 490.3h0M420.6 492.7h0M438.4 488.6h0M423.4 492.9h0M450.6 488.1h0M427.3 491.8h0M414.1 488.2h0M391.9 487.7h0M430.3 487.2h0M425.8 490.2h0M430.1 486.2h0M425.6 493.3h0M424.9 491.6h0M465.8 488.4h0M430.7 486.5h0M428 487.4h0M405 488.8h0M425.6 489.6h0M398.3 485.2h0M430.3 490.8h0M386.4 488.3h0M436.3 487.4h0M448.6 486.2h0M417.8 488.8h0M422.6 493.4h0M403.6 484.9h0M411 488.4h0M390.2 487.7h0M414 485.8h0M410.3 491h0M410.3 487.9h0M421.6 493.1h0M423 492.6h0M446.9 486.6h0M403.6 484.8h0M422.8 493.5h0M436 486.4h0M427 487.7h0M425.6 494.8h0M420.9 492.1h0M401.4 484.9h0M399.5 485.5h0M427 492.2h0M477.5 486.1h0M428.7 486.8h0M414.8 492.8h0M420.2 493.9h0M454.7 487h0M414.6 489.3h0M443.1 486.9h0M417.6 490.9h0M433.5 491.9h0M442.6 486.1h0M425.9 489.9h0M425.2 491.7h0M431.8 485.3h0M437.4 488.1h0M418.9 490.1h0M442.6 485.8h0M396.6 486.8h0M426.1 488.6h0M420.1 492.8h0M434.6 485.8h0M425.6 494.9h0M395.3 485.1h0M429.9 491.5h0M416.9 492.6h0M428.9 489h0M429.4 487h0M399.7 485.5h0M426.9 488.4h0M450.1 486.2h0M417 494.1h0M418.6 489.5h0M433.4 486.4h0M433.4 488.7h0M433.9 487h0M438.1 486h0M419.2 492.6h0M439.7 485.5h0M409.7 487.3h0M416.1 490.8h0M391.8 486.4h0M400.9 485.9h0M402 486.8h0M400.1 486.7h0M423.4 493.6h0M428.1 492.6h0M424.6 494.4h0M388.4 486.6h0M456.5 484.8h0M406 486.3h0M382.8 484.6h0M424.4 495.1h0M414.9 485.4h0M407.5 484.7h0M444.3 484.5h0M405.8 486.6h0M419.4 491.4h0M449.3 488.5h0M440.2 487.1h0M443.1 484.9h0M390.2 484.9h0M403.5 486.6h0M427.3 490.1h0M425.5 491.7h0M439.1 489.8h0M415.9 489.3h0M419 494.5h0M429.9 486.4h0M440.4 484.5h0M425.2 492.1h0M388.3 486.1h0M375.8 485h0M408 491.6h0M411.2 485.2h0M394.8 484.7h0M406.9 489.2h0M433.4 490.7h0M443.6 485h0M401.1 486.9h0M422.2 493.8h0M418.6 492.8h0M404.8 490.1h0M474.1 484.6h0M393.6 486.6h0M440.6 486.1h0M408.3 486.8h0M420.1 494.1h0M446.7 488.3h0M421.1 492.4h0M417.7 492.9h0M435.2 486.3h0M413.6 490h0M418 493h0M411.1 490.2h0M461 486.7h0M417.6 488.4h0M431.2 487.4h0M417.9 493.1h0M413.2 491h0M434.8 487.2h0M425.2 493.8h0M438 488.6h0M424.2 490.6h0M407.1 490.2h0M435.5 487.6h0M424.3 493.3h0M397.3 485.6h0M439.7 488h0M434.4 487.4h0M410 489.1h0M422.9 493.3h0M397.9 487.6h0M434.5 485.4h0M428.5 486.1h0M416 492.3h0M425.9 488.9h0M435 491.3h0M435.6 487.7h0M392.5 484.5h0M465.3 486.2h0M435.9 487.9h0M398.4 485.2h0M432.7 485.7h0M424.3 492.3h0M411.8 485.6h0M399.2 487.2h0M428.6 486.4h0M435.4 487.7h0M424.6 493h0M390.6 485.4h0M426.9 490.3h0M400.7 486.3h0M409.8 487.4h0M425.4 489.8h0M421.3 494h0M440.9 487.3h0M448.3 488h0M408.7 487.6h0M411.7 491.9h0M436 486.9h0M404.5 488.9h0M443.1 486.1h0M397.4 488.1h0M431 486.1h0M408.2 490.2h0M419.7 491.2h0M446.1 487h0M423.8 493.3h0M431.6 491.2h0M419.8 495h0M417.1 494.2h0M427.3 489h0M432.3 487.4h0M418.1 489h0M426.6 490.7h0M431.4 492.8h0M391.6 484.9h0M405.2 489.4h0M401.6 486.4h0M414.4 491.7h0M413.6 487h0M415.4 493.2h0M457.8 486.8h0M422.1 494.1h0M401.1 488.4h0M420.2 491.7h0M437.3 488.7h0M419.8 493.5h0M410 487.5h0M403 486h0M420.6 493h0M444 485.7h0M389 487.8h0M382.3 486.2h0M412.9 489.6h0M415.9 491.9h0M394.5 487.1h0M414.1 488.9h0M426.9 487.4h0M440 484.9h0M411.1 491h0M434.6 485.2h0M426.9 490.9h0M419.4 492.8h0M423.7 491.6h0M448.8 486.7h0M446.8 487.2h0M419 491.2h0M434.5 487.3h0M435.9 489.9h0M435.9 485.3h0M433 490.7h0M397.2 487.5h0M426.2 491.8h0M443.6 486h0M397.9 485.7h0M435.3 488.8h0M422.4 494.9h0M397.9 485.6h0M429.6 487.7h0M387.2 487.2h0M419.4 493.3h0M423.1 492.1h0M437.2 487.6h0M439.8 487.2h0M410.8 487.2h0M442.3 486.8h0M426.4 491h0M399.4 485.7h0M436.8 491.4h0M403.2 487h0M419.1 493.7h0M426.1 492.7h0M411.2 489.6h0M439.7 488.5h0M411.1 490.6h0M410 492.6h0M453.7 487.2h0M420.6 492.8h0M414.3 485.7h0M394.6 486h0M428.9 486h0M445.9 485.4h0M417.2 489.5h0M430.7 487.2h0M405.4 487.5h0M443 486.9h0M395.5 486.1h0M451.5 487.3h0M419.4 492.4h0M434.6 485.7h0M428.8 492h0M398.9 484.6h0M401.4 486.5h0M439.8 486h0M428.6 487.2h0M426.1 491.5h0M416.6 488.8h0M417.1 487.8h0M454.9 486.9h0M417.5 489.9h0M418.3 489.3h0M424.6 490.3h0M405.9 490.7h0M415.9 490.5h0M419.4 493.4h0M448.4 485.1h0M448.3 486.1h0M433.1 490.4h0M440.6 486.3h0M401.4 487.2h0M383 487.1h0M438.9 485.4h0M462.2 486.8h0M391.2 485.9h0M436.2 487h0M401.3 488.6h0M435.1 490.3h0M444 486h0M386.9 485.6h0M406.1 486.7h0M428.8 486.9h0M433.6 488.4h0M414.3 489.2h0M421.4 492.6h0M384.9 485.6h0M414.8 493.3h0M416.5 494.3h0M404.4 489.5h0M405.5 485h0M411.7 490.5h0M395.9 487h0M406.4 487h0M416.4 489.1h0M408.8 484.5h0M412.3 490.6h0M405.2 490h0M415.4 490.6h0M401 486.6h0M391.5 487.6h0M418 491.3h0M417.6 493.7h0M412 486.1h0M392.7 486.8h0M427.2 492.3h0M400.6 485.5h0M431.1 485.8h0M465.7 488.5h0M414.5 493.4h0M403.3 486.6h0M418.5 493.7h0M419.6 491.3h0M419.7 493h0M458.4 485.6h0M419.5 491.7h0M424.4 493.3h0M395.4 486h0M411.8 491.1h0M439.8 484.9h0M451.2 486.9h0M387.6 487.7h0M390.2 486.2h0M427.9 489.2h0M396 485.2h0M412.9 490.1h0M431.3 490h0M413.3 485.7h0M425.2 491h0M414.1 486.3h0M396.3 486.4h0M421 494.6h0M434.7 484.7h0M410.7 487.3h0M398.5 486.5h0M416.7 489.1h0M421.2 493.7h0M459.3 486.2h0M444.4 488.4h0M422.6 493.5h0M437.9 490.7h0M399.5 485.6h0M436.7 488.5h0M420.1 494.8h0M411.8 493h0M438 488.2h0M451.8 484.8h0M417.9 488.7h0M389.3 485.7h0M406.7 486.4h0M392.2 486.5h0M418.8 490.5h0M415 493.4h0M447.6 484.7h0M412.7 487.3h0M404.3 487h0M434.3 491.3h0M427.5 492.3h0M412.3 489.9h0M415.4 491.1h0M404.3 486.3h0M417.4 489.1h0M432.6 488.6h0M420.3 491.3h0M417.8 493.3h0M411.1 489.6h0M418.5 490.2h0M416 493.1h0M450.1 486.9h0M393.7 484.7h0M417.4 492h0M450.1 486.1h0M397.3 486.9h0M396 488h0M416.3 491.3h0M451.4 486.4h0M411.3 485.3h0M406.5 487.9h0M385 488.2h0M425.7 492.1h0M409.2 488.3h0M398.3 486.5h0M454.7 487.2h0M400.6 486.5h0M430.6 489.8h0M422.4 494h0M418.9 492.2h0M412.3 485.6h0M431.2 489.7h0M430.7 487.8h0M433.5 488.4h0M417.4 490.3h0M439.8 484.9h0M385 487.6h0M419.1 494.7h0M426.7 491.3h0M398.7 484.7h0M431.7 491.9h0M449.9 487.7h0M415.8 488.4h0M427 489.4h0M426.8 493.3h0M412 487h0M405.4 488.1h0M415.7 486.9h0M416.6 488.3h0M404.7 489.2h0M441.9 485.7h0M425.2 494h0M468.3 488.3h0M443.4 485.8h0M404.3 489.1h0M394.4 488.1h0M432.6 485.9h0M414 488.4h0M416.8 491h0M428.9 486.4h0M399.4 485.3h0M409.7 484.5h0M422 494.3h0M398.1 487.5h0M396.6 488.2h0M429 492.2h0M393.1 487h0M404.6 485.1h0M405.8 487.2h0M433.6 488.7h0M450.7 487.1h0M430.7 492.1h0M432.7 491.2h0M413.1 491.5h0M420.9 492.8h0M434.9 491.9h0M449.6 487h0M435.5 487.8h0M440.2 485.5h0M389.1 488.1h0M436 486.9h0M437.4 485h0M427.9 491.9h0M469.9 488.4h0M441.1 485.9h0M436.7 485.5h0M442 487.8h0M446 487.8h0M408.6 490.1h0M397.1 484.9h0M442.2 487.5h0M439.2 489.7h0M403.5 486.4h0M417.2 489.1h0M445.2 487.8h0M427.5 489.8h0M424.9 490.9h0M418.2 489.6h0M450.9 486.3h0M424.3 494.3h0M423.6 492h0M422.8 493h0M419.8 491h0M408.3 485.8h0M466.1 487.5h0M435.4 489.2h0M454.2 488.3h0M449.3 485.6h0M424.8 493.8h0M436.1 489.3h0M412.6 490.8h0M404 485.1h0M396.6 488.1h0M411 491.9h0M410 486.9h0M425.6 489h0M428.7 493.6h0M403.8 488.3h0M423.6 491.2h0M427.8 491.3h0M424.5 491.9h0M395.3 485.9h0M411.2 488.5h0M430.6 488.8h0M420.9 493.9h0M443 486.2h0M419 490.7h0M449 488.3h0M419.9 494.2h0M426 494.5h0M426.2 488.5h0M396.4 487.2h0M438.3 488.8h0M429.6 485.5h0M421.1 494.9h0M402.3 486h0M424.6 491.7h0M447.7 487.4h0M448.1 487.2h0M434.2 487.3h0M426 491.3h0M454.4 486.8h0M412.2 490h0M407.2 488.4h0M421.6 493.5h0M428.9 486h0M465.6 485.6h0M410.4 488.2h0M398.9 485.2h0M435 488.2h0M433.3 486.5h0M482.4 485.6h0M437.9 486.5h0M431.7 485.4h0M419.2 491.2h0M429.2 485.8h0M394.4 486.9h0M413.3 490.1h0M428.2 487.3h0M427.6 487.8h0M401.2 486.2h0M412 486h0M432.9 491.2h0M428.4 485.8h0M393.3 487h0M423.1 492.3h0M425.2 489.3h0M403.9 484.5h0M422.8 492.2h0M405.2 484.6h0M406.1 486.5h0M414.9 490.6h0M433.4 489h0M432.3 488.4h0M381.3 485.7h0M412 488.7h0M389.6 485.7h0M424.9 492.3h0M400.4 485.7h0M442.9 486.8h0M428.6 493.9h0M430.7 486.7h0M434.8 491.8h0M402 486.8h0M423.2 492.8h0M430.1 485.6h0M439.9 487.9h0M393.8 485.4h0M417.5 489.3h0M438.2 490.4h0M410.1 488.2h0M411.1 490.5h0M436.3 487.8h0M466.8 487.4h0M399.5 486.2h0M391.6 485.9h0M438.2 487.3h0M387.7 486h0M428.1 486.3h0M430.5 490.9h0M409.5 491.2h0M418.6 493.1h0M409.7 485h0M428.2 491.3h0M444.7 484.8h0M407.8 487.8h0M432.3 492.2h0M423.2 494.5h0M434.8 487.9h0M426.3 490h0M428.2 487.7h0M439.6 488.9h0M419.5 495h0M414.6 486.5h0M397.7 487h0M416.4 493h0M407.7 484.5h0M415.4 487.2h0M431 489.6h0M414.9 490.1h0M437.1 486.7h0M436.3 488.9h0M423.8 493.8h0M425.8 491.4h0M450.7 487.2h0M420 493.7h0M432.8 493h0M457.6 484.8h0M424 492.3h0M406.7 490h0M419.4 490.4h0M413.7 489.3h0M390.6 484.8h0M386.6 485.1h0M408.8 487.6h0M410.1 486.1h0M404.3 486.2h0M461.6 484.7h0M434.5 487.8h0M439.2 487.9h0M401.9 486.7h0M414.2 490.9h0M403.8 487.9h0M420 494.8h0M395.7 487.8h0M429.8 485.3h0M427.5 494h0M428.4 487h0M424.4 491.5h0M427.9 491.9h0M407.6 489h0M440.9 484.9h0M399.2 485.6h0M434.2 487.6h0M421.7 494.6h0M406.5 487.6h0M432.1 488.5h0M403.8 484.9h0M446.5 485.4h0M384.6 485.6h0M410.4 485.4h0M428.8 487.9h0M435.2 484.9h0M419.6 493.8h0M421.2 492.7h0M402.3 485.8h0M412.7 491.3h0M453.6 485.4h0M401.5 484.9h0M399.7 487.7h0M443.5 485.1h0M400.2 484.6h0M395.3 486.2h0M404.5 484.7h0M399.3 488.4h0M422.3 493.9h0M423.6 492.8h0M423.5 494.7h0M460 487.4h0M450.2 486.9h0M421.3 492.7h0M417 490.8h0M429.3 490.4h0M425.5 490.7h0M406.3 490.2h0M420.4 492.3h0M421.9 494.1h0M442 486h0M452.4 484.8h0M410 489.8h0M404.4 485.6h0M400.8 486.5h0M440.4 484.9h0M412.1 488.6h0M419.2 493.5h0M409.3 487.6h0M407 485.3h0M406.2 485.2h0M415.4 490.5h0M424.9 493.8h0M428.5 488h0M409 486.3h0M385.4 486.7h0M431 488.7h0M433.1 486.7h0M417.8 494.5h0M422.9 492.2h0M443 484.9h0M424.2 492.1h0M412.3 490.3h0M446.8 485.1h0M438.5 487.4h0M407.2 488.5h0M413.6 492.8h0M420.8 494h0M392.7 487h0M434.6 487.8h0M421 494.8h0M449.3 486.1h0M407.9 488.5h0M428 488.6h0M431 488.8h0M407.5 489.6h0M439.5 485.2h0M414.5 490.1h0M415.6 493h0M402 487.4h0M422.2 492.8h0M416.8 489.7h0M404.9 486.2h0M440.5 486.1h0M433.6 489.6h0M402.6 485.7h0M440 484.9h0M427.7 487.3h0M438.2 489.7h0M427.7 491.7h0M425.2 493.7h0M407.3 489.2h0M437.2 486.8h0M416.9 493.2h0M406.7 484.6h0M415.2 492.9h0M425 490.8h0M382.4 485.3h0M438.9 489.5h0M423.7 491.1h0M374.6 485h0M393 485.2h0M392.6 486.5h0M421.2 494.8h0M424.8 492.5h0M430.3 488.9h0M426.8 492.3h0M433.3 487.6h0M419.3 492.2h0M395.1 484.6h0M439.8 485.2h0M437.6 487.7h0M428.6 486.1h0M415.4 487.8h0M405.5 484.6h0M464 487.9h0M447 488.5h0M456.6 487h0M432.8 485.4h0M417.5 488.2h0M418 493.5h0M458.1 486h0M409.2 491.4h0M433.3 490.6h0M428.7 487.2h0M426.9 493.7h0M440.8 485h0M419.7 491.6h0M425.4 490.6h0M391.2 486.9h0M422.1 493.2h0M429.2 486.7h0M402.6 487.1h0M397.5 488.2h0M414.5 487.9h0M440.8 484.5h0M401 487.9h0M434.7 484.6h0M446.9 486.4h0M429.7 486h0M459.9 484.6h0M403.6 484.8h0M430.5 488.7h0M423 492.8h0M442.5 485.3h0M395 486.3h0M425.7 490h0M434.2 489.3h0M446.4 485.9h0M433.9 486.6h0M408.6 484.6h0M423.9 492.6h0M397.8 488.5h0M410.4 490.8h0M397.7 488.2h0M459 484.6h0M406.6 485.9h0M410.2 485.3h0M422.5 492.7h0M418.8 492.6h0M433.5 485.4h0M403.9 489h0M387.4 486.9h0M421.6 493.1h0M436 491.4h0M440.5 485.5h0M418.8 494.3h0M449.5 486.5h0M412.1 490.1h0M418 490.3h0M398.8 488.2h0M413.6 486.4h0M396.9 488.3h0M424.9 490.1h0M443.7 486.5h0M427.6 491.8h0M433 485.8h0M430 491.8h0M389.7 487h0M442.3 485h0M434 488.9h0M432.9 492.2h0M435 488.5h0M442 488.5h0M421.9 494.2h0M436.1 487.2h0M389.2 485h0M435.4 486.3h0M382.3 487h0M433.1 488.8h0M438.2 484.5h0M432.3 484.6h0M415 491.4h0M440.9 486.5h0M424.7 490h0M407.3 484.5h0M421.8 494.9h0M411.8 484.7h0M446.9 487.2h0M417 492.4h0M428.5 489.3h0M413.3 491.7h0M435.9 485.1h0M457 485.8h0M413.4 492.6h0M430.8 492.1h0M420.3 493.7h0M428.1 492.7h0M407.6 484.7h0M396.7 487.6h0M438.1 485h0M391.8 485.6h0M433.9 492h0M388.8 485.3h0M447.9 485.7h0M387.6 486.4h0M405.6 487.7h0M438.1 487.6h0M436.3 487.9h0M396.9 485.5h0M451.4 486.3h0M430.4 489.7h0M435.5 489.7h0M421.2 492.4h0M422.2 493.3h0M407.7 485.1h0M410.9 490.1h0M412.6 488.3h0M453.8 486.7h0M418.7 494.6h0M405.9 490.1h0M439.9 485.7h0M416.2 490.9h0M428.8 488h0M437.6 487h0M401.4 486.5h0M428.3 486.8h0M431.9 492.6h0M433.6 485.3h0M409 491.9h0M450 485.3h0M434.5 488.8h0M432.5 487.8h0M438.5 485.7h0M384.1 485.7h0M437.2 488.2h0M412.8 492.7h0M389.2 488.1h0M420.5 493h0M412.3 490.5h0M404.5 484.8h0M422.7 494.1h0M416.4 490.2h0M399.4 486.9h0M436.8 489.1h0M425.9 489.3h0M440.3 486.4h0M426 493.4h0M442.1 487.4h0M385.9 485h0M409.3 484.9h0M434.5 492h0M414 485.3h0M428.6 491.9h0M417 492.2h0M426.1 493.5h0M408.3 484.7h0M440.2 484.7h0M449.7 486.6h0M416.4 491h0M428.3 487.5h0M422.5 493.1h0M431.2 486.1h0M427.9 490.4h0M449.7 486.6h0M413.2 484.6h0M431.8 487.4h0M398.2 485.6h0M389.6 488.1h0M423 494.9h0M429.9 492.5h0M410.4 489.3h0M398.5 484.7h0M442.5 484.6h0M428.2 486.5h0M437.7 486.2h0M399.6 485h0M438.6 487.5h0M433.2 485.1h0M462.4 485.3h0M412.3 491h0M426.3 494.5h0M444.7 488.3h0M436.2 487.5h0M417.6 488.5h0M433.8 487.6h0M448.6 485.5h0M426.2 489.7h0M388.8 487.2h0M432.9 488.6h0M421.7 493h0M433.4 490.8h0M409.9 490.8h0M444.7 484.7h0M393.9 486.8h0M423.5 492.8h0M401.2 487.8h0M414.6 485.5h0M410.7 490h0M422.2 493.2h0M418.5 489.5h0M394.5 486.3h0M394.1 486.3h0M432.8 491.8h0M418.1 489.7h0M436.3 486.6h0M456.5 485h0M422.9 493h0M398.6 485.4h0M418.4 493.4h0M414.6 489.7h0M420.4 493.6h0M404.8 486.7h0M422.2 495.1h0M424.9 493.2h0M401.9 487h0M413.3 492.8h0M395.3 485.8h0M408.5 485.8h0M426.3 493h0M423.4 492.4h0M400 488.4h0M413.1 492.6h0M424 494.6h0M437.7 484.8h0M425.9 489.2h0M417.4 489.9h0M408.6 490.7h0M408.3 485.7h0M422.1 494.8h0M437 489.4h0M441.7 488.2h0M436.1 485.3h0M440.7 488.3h0M417.9 490.5h0M446.9 486.7h0M414 487.5h0M380.9 488.4h0M436.4 485h0M406.2 488.8h0M453.5 485.7h0M436 487.8h0M434.7 489h0M416.9 488.3h0M424.5 491h0M397.5 486.5h0M406.8 486.8h0M440.6 488.9h0M406.9 489.8h0M446.1 486.6h0M444 486.4h0M416.3 491.2h0M428.3 488.4h0M437.2 485h0M411 488.9h0M417.7 493h0M478.5 485h0M445.6 486.3h0M437.7 485h0M425.4 491.1h0M423.4 494.8h0M431.3 485.8h0M429.1 492.6h0M412 486.7h0M397 486.2h0M410.1 489.6h0M444.2 484.6h0M457.8 486.8h0M438.4 485.4h0M445.8 488.5h0M377.8 487.9h0M421.8 493.4h0M405.6 486h0M421.7 495.1h0M377 488h0M450.9 485.5h0M414.9 493.6h0M432.1 488.6h0M395.3 484.7h0M438.7 485.6h0M424.6 492.5h0M434.5 485.2h0M418.1 490.6h0M391 484.7h0M378.9 487.5h0M428.5 488.4h0M417.9 494.1h0M396.2 485.5h0M451.9 485.4h0M444.7 485.3h0M455.9 485.4h0M408 486.5h0M423.8 492.6h0M388.7 486.6h0M431.9 487.5h0M432.9 489h0M421.2 495h0M427.6 487.7h0M418.8 494.3h0M451.5 485.6h0M424.5 492h0M411 492.1h0M423.4 492.8h0M414.4 489.9h0M405.3 487.9h0M434.6 487.8h0M443.6 484.6h0M406.3 489.2h0M401.6 487.7h0M413.2 493.6h0M423.6 493.2h0M453.9 485.2h0M426.7 490h0M432.9 488.2h0M449.3 486.6h0M394.5 485.7h0M425.1 493.9h0M406.4 486.3h0M460.2 486.7h0M456.8 487.7h0M398.7 486.1h0M443.9 487.8h0M405.4 485h0M420.1 493.3h0M459.9 485.4h0M423.6 492.5h0M437.7 487.6h0M395.5 487.8h0M395.8 486.7h0M420 493.8h0M444.1 485h0M437.5 485.7h0M438 486.4h0M401.4 484.6h0M442.1 486.7h0M400.7 485.2h0M431.5 487.3h0M439 486.8h0M391.7 486.3h0M435.4 488.8h0M461.3 488.2h0M410.2 484.8h0M434.4 485.9h0M400.7 485.9h0M460.3 486.5h0M444.7 487.5h0M408.5 491.7h0M433.4 485.3h0M430.3 484.8h0M443.6 484.9h0M413.1 485.3h0M433.7 488.6h0M420 493.9h0M422.6 492.8h0M417.9 494.4h0M413.5 486.9h0M421.7 493.9h0M415.6 493.6h0M421.1 494.6h0M418.7 492.9h0M436.2 487.2h0M444.7 486.1h0M419.4 492.5h0M423.8 491.6h0M393.4 486.6h0M423.1 494h0M418.1 490.7h0M418.3 490.1h0M427.2 487.6h0M391.8 485.6h0M432.7 489h0M434 486.5h0M410.7 484.6h0M446.9 487.1h0M401.3 486.9h0M432.1 492h0M404.6 487.4h0M414.3 490.9h0M414.4 487.6h0M398 487.7h0M401.2 486.1h0M424.6 490.3h0M427.8 486.6h0M429 493.8h0M402.2 488.4h0M439 486h0M402.8 485.7h0M401 485.8h0M404 488h0M438.3 487.1h0M433.5 492.3h0M443.4 487.1h0M391.3 487.9h0M417.7 489.9h0M420.1 492.7h0M415.8 491.3h0M422.5 494.2h0M422.6 494.9h0M411.4 486.8h0M420.7 492.3h0M414.7 485.1h0M413.4 487h0M438.9 489.5h0M413.4 488.4h0M435.8 486.5h0M450.9 486h0M405.3 489.5h0M405.3 489.6h0M433.3 491.5h0M395.5 487.2h0M427.5 486.7h0M436.8 485.5h0M449.9 486.3h0M437 490.4h0M397.3 486.6h0M436.6 485.1h0M420.1 493h0M406.5 484.7h0M414.1 489.5h0M415.3 492.2h0M421.6 494.3h0M445.3 484.6h0M400.7 485.7h0M414.5 492.4h0M412.9 487.7h0M400.9 488h0M391.9 486.9h0M419.9 493h0M427.5 490.5h0M417.4 490.2h0M436.5 484.7h0M435.2 487.5h0M413.3 490h0M433.3 488.5h0M409.5 487h0M439.8 485.6h0M427.1 494.3h0M410 488.1h0M412 488.4h0M426.1 491.6h0M408.4 488.5h0M412.4 492.9h0M436 490.2h0M438.3 484.7h0M458.3 485.1h0M463 486.4h0M402.1 486.8h0M427.7 491.9h0M410.5 485.8h0M434.9 486.8h0M464.1 487.1h0M389.9 486.1h0M415.4 487h0M429 493.4h0M412.9 484.7h0M457.4 486.5h0M446.3 484.8h0M410.5 488h0M425.7 490.8h0M391.3 484.5h0M426.6 493.4h0M441.7 488.4h0M392.1 484.8h0M425.7 490.8h0M396 485.2h0M401.9 487.9h0M458.6 487.6h0M442.6 486.9h0M419 491.3h0M403.6 488.6h0M411.3 486.6h0M427.2 492.5h0M446 484.9h0M419.1 493h0M457.9 484.7h0M413.1 487h0M430.2 487.2h0M405.4 488.9h0M426 488.8h0M434.1 485.4h0M446.9 486.1h0M447.6 486.6h0M416.3 488.3h0M427.7 487.2h0M462.9 486.4h0M443.2 487.1h0M424.9 490.7h0M429.8 486.3h0M419.1 490.6h0M416 489.2h0M432.7 490.7h0M392.9 486h0M390.9 485.7h0M418.5 492.5h0M432.2 484.5h0M418.3 490.8h0M429 486.9h0M430 491.9h0M420 491.4h0M434.9 486h0M419.3 490.4h0M435.3 485.7h0M424.2 491.6h0M424.6 494.1h0M409.9 484.7h0M403.6 486.6h0M445.2 487.6h0M393.4 487.5h0M382 484.7h0M395.5 486h0M413 490.9h0M415 490.1h0M421.4 493.5h0M414.3 487.3h0M420.5 494.8h0M440 484.6h0M457.5 487.3h0M408.4 488.8h0M397.4 485h0M430.9 491.7h0M413.3 491.3h0M405.3 486.2h0M432 491.4h0M423.9 492.7h0M441 487.2h0M417.4 492.9h0M435.6 487.1h0M419.5 492.6h0M394.6 485.2h0M428.3 491.9h0M387.3 484.7h0M441.6 485h0M406.9 489.9h0M417 490.3h0M418 493.2h0M380 485.9h0M430.9 490.2h0M436.1 486.3h0M443.8 486.5h0M455.3 486.6h0M399.9 487h0M425.1 493.9h0M388.8 488.1h0M413.1 487.1h0M431.2 489.4h0M406.4 487.2h0M417.9 494.4h0M439.8 487.8h0M410.8 490.4h0M453.9 485.3h0M414.8 491h0M429.1 491.4h0M437.5 489.4h0M408.6 489.7h0M428.8 486.1h0M413.7 489.7h0M422.3 493.6h0M421.9 494.7h0M432.9 486.5h0M419 492.7h0M406.5 487.6h0M396.5 488.3h0M430.9 485.1h0M383.3 486.7h0M438.8 487.9h0M416.3 487.7h0M375.7 486.4h0M417.6 490.3h0M405 488.1h0M416.6 493h0M376.5 485h0M448.6 486.8h0M428.7 487.1h0M423.7 494.9h0M398.9 487.2h0M456.9 484.7h0M417.3 492.8h0M411.5 485.6h0M432.8 490.6h0M413.7 484.6h0M406.9 490.3h0M435.6 490.5h0M441 484.9h0M434.4 491.3h0M442 486.5h0M413.7 485.3h0M442.6 486.1h0M396 484.7h0M415.6 490.9h0M417.6 492.4h0M405.1 487.2h0M404.7 486.8h0M403.6 486.9h0M428.8 491.5h0M444.6 484.7h0M408.2 491.3h0M402.1 485.8h0M429.3 485.2h0M408.7 491.1h0M409.4 488h0M412.1 491h0M415.9 493.8h0M417.8 492.6h0M439.5 487.6h0M427.7 490.9h0M398.8 485.1h0M413.2 485.4h0M396.6 485.5h0M447.8 484.8h0M417.4 493.4h0M390.8 486.8h0M389.5 484.5h0M423.1 492h0M393.5 485.6h0M448.8 484.6h0M417.5 490.3h0M424.1 491.7h0M418 494.1h0M424.4 491.4h0M413.6 485.9h0M437.9 487.8h0M437.9 489.4h0M416.6 491h0M424.6 494.3h0M420.9 494.6h0M413.3 485.8h0M434.8 487.6h0M439.4 485.6h0M414.1 486.7h0M409.4 488.8h0M405.4 489.1h0M429.1 492h0M383.9 485.3h0M434.7 488.1h0M397.8 484.6h0M414 489.5h0M438.3 488h0M418.7 491h0M429.4 487.1h0M423.6 491.9h0M396.7 484.9h0M422.3 493.4h0M435.9 488.7h0M405.8 488.4h0M395.9 485.7h0M391.8 487.8h0M416.8 492.4h0M423.6 492.2h0M428.6 490.1h0M438.9 489.5h0M382.4 486.2h0M400.3 486.5h0M430.8 490.5h0M421.3 492.5h0M416.4 487.4h0M387.3 485.4h0M419.2 493.4h0M435.8 486.3h0M444.4 485h0M401.4 485.2h0M410 486.7h0M402.8 486.4h0M419.4 492.2h0M386.6 487.1h0M443.9 486.8h0M426.1 492.9h0M424.4 491.3h0M442.4 485.1h0M405 488.5h0M465.9 487.5h0M440.6 487.1h0M415.3 494.1h0M410.9 486.3h0M463.9 487.3h0M416.8 492.3h0M434.5 485h0M445 485.7h0M399.5 485h0M449.9 486.3h0M451.7 486.9h0M434.8 491.3h0M411.3 492.1h0M443 488.1h0M422.3 494h0M406 485.9h0M450.6 488.6h0M403.9 484.8h0M398.8 487.7h0M415.9 487.4h0M417.7 491.6h0M434.1 484.7h0M419.9 491.9h0M444.2 484.7h0M441.6 484.8h0M436.3 490.9h0M407.8 487.9h0M420.3 491.8h0M392.5 485.3h0M451.3 487.4h0M421.4 494.1h0M403.6 486.8h0M454 486h0M421.4 494.9h0M419.8 493.2h0M424.5 491.6h0M431.3 492.8h0M441.6 485.7h0M427.2 489.4h0M434 488.7h0"/>
<path fill="none" stroke="#8ac8ef" stroke-width="1.6" stroke-linecap="round" d="M415.6 475h0M417 484.2h0M415.8 477.6h0M416.7 473.8h0M415.4 482.2h0M416.9 458.8h0M414.5 483.1h0M416.3 456.8h0M416.6 468.3h0M416.5 472.8h0M414.5 464.9h0M414.8 476.9h0M415.1 475.9h0M414.4 473.8h0M414.6 482h0M413.8 478.7h0M416.1 480.5h0M415.1 483.9h0M415.4 461.1h0M416.1 483.9h0M414.2 469.6h0M416.7 484h0M414.1 480h0M416.3 476.8h0M416.3 452.2h0M416.9 480.2h0M414 483.5h0M415 459.1h0M416.5 476.1h0M414.4 482.4h0M416.1 473.6h0M415.7 470.4h0M414 471.8h0M414.1 481h0M416.7 463.8h0M416.5 458.8h0M414.3 450.4h0M414.9 478h0M414.2 478.7h0M414.4 483.5h0M415 467.3h0M416.8 479h0M415.8 484.3h0M416 451.4h0M414 482.2h0M416.3 475.2h0M415 475.6h0M415.4 466.6h0M414 468h0M414.4 470.6h0M415.7 457.6h0M414 457.9h0M415.4 473.1h0M415.5 483.9h0M415.6 461.4h0M416.5 478.2h0M416.6 460.2h0M415.2 482.3h0M415.3 484.2h0M416.1 479.8h0M416.5 479.6h0M417 483.5h0M415 471.3h0M416.3 469h0M416.2 476.7h0M416.4 483h0M414.9 469.1h0M417 462.8h0M416.5 484.2h0M416.6 469.9h0M415.7 480.7h0M416.9 467h0M414.3 471.9h0M413.8 484.2h0M415 483.7h0M415.1 458h0M414.8 479.3h0M414.7 484.2h0M415.1 482.6h0M416.1 467.1h0M413.9 483.9h0M416.1 479.4h0M417.1 469.9h0M416.9 464.3h0M415.4 475h0M416.3 476.8h0M414.9 454.4h0M416.5 483.4h0M416.1 450.5h0M415.6 473.3h0M415.8 477.6h0M414.2 480.6h0M415.9 478.9h0M415.6 482.2h0M415.6 475.3h0M417.1 474.2h0M417.1 477.3h0M416 481.9h0M415.1 476h0M415 484.2h0M416.5 482.4h0M415.3 476.2h0M415.3 453.5h0M415.9 482.5h0M413.9 484h0M414.2 474.3h0M414.5 481.1h0M415.2 481h0M414.8 472.9h0M416.1 462h0M416.7 472.9h0M416.7 482.9h0M415.2 483.6h0M414.8 458.7h0M414.2 483.6h0M415.4 454.3h0M415.5 478.6h0M415.4 479.5h0M416.4 482.4h0M414.4 458.3h0M416 476.3h0M417 483.4h0M415.5 463.6h0M415.5 474.7h0M417.1 458.7h0M415.9 479.6h0M415.4 479.5h0M416.5 474.7h0M416.5 480h0M414.4 463.3h0M414 474.1h0M415.5 484.3h0M414.2 464.1h0M413.9 479.2h0M415.7 456.7h0M416.1 484h0M416.1 482.6h0M414.7 454.5h0M416.8 458.2h0M417.1 454.4h0M414.2 482.4h0M415.9 474h0M414.4 459.8h0M416 479.8h0M414.6 476.4h0M417.1 470.2h0M416.8 476.2h0M415.9 479.4h0M416.8 484.3h0M416.9 453.2h0M415.2 468.2h0M416 462.3h0M414.1 483.8h0M414.1 483.2h0M415.7 455.7h0M414.3 483.4h0M415.5 484h0M415.6 481.5h0M414.7 455h0M415.2 463.8h0M413.8 483.7h0M416.8 481.7h0M416 455.5h0M414.2 484.3h0M414.2 477.8h0M414.2 465.1h0M415.5 483.2h0M416.1 478.4h0M414.6 470.6h0M415.1 479.1h0M416.7 480.6h0M415.7 482.9h0M415.1 471.7h0M415.1 484.2h0M416.9 460.5h0M415.5 451.3h0M415 466.6h0M416.9 483.8h0M414.9 483.3h0M414.7 483.6h0M417 482.4h0M415.8 480.6h0M416.8 484.2h0M414.5 483.3h0M414.5 477.7h0M414.1 464.9h0M415.1 483.5h0M415.7 473.5h0M416.8 484.3h0M416.6 475.4h0M416.2 484.1h0M415 463.1h0M415 472.3h0M414.9 466h0M414.5 483.9h0M416.3 484h0M415.3 477.1h0M414.8 481.6h0M414.9 456.2h0M415.9 481h0M417 484.2h0M416.8 465.3h0M417 484.1h0M416.1 470.1h0M415.9 483.6h0M416.5 482.6h0M414.7 471.9h0M416.2 471.9h0M415 469.8h0M415.2 483.7h0M414.1 477.3h0M414.6 477.6h0M415.8 484h0M414.4 475h0M415.9 483.7h0M415.7 469.6h0M416.7 484.3h0M414.5 454.5h0M414.1 484.3h0M415.1 484.2h0"/>
<path fill="none" stroke="#f6b9b6" stroke-width="1.6" stroke-linecap="round" d="M427.2 471.3h0M428.5 478.6h0M428.2 481.4h0M427 484h0M429.4 473.8h0M427.3 474.3h0M427.8 472.9h0M428.1 483.2h0M429.9 478.2h0M428.5 467h0M427 472.5h0M429.1 480.5h0M429.6 466.3h0M429.8 478h0M428 483.9h0M427.7 482.4h0M429.3 479.6h0M428.7 466.7h0M427.8 483.8h0M429.7 479.4h0M429 483h0M428.3 471.1h0M428.1 477h0M427.7 474.4h0M428.5 482.6h0M427.4 484.2h0M427.1 479h0M429.7 478.5h0M430 474h0M427.3 467.9h0M427.9 484.2h0M429.8 480.5h0M429.8 483.8h0M429.5 483.2h0M427.9 481.5h0M428.9 463.8h0M427.8 474.8h0M428.9 481h0M429.9 482.2h0M426.8 479.2h0M427.9 471h0M427.9 481.9h0M427.7 483.9h0M429.6 472h0M428.4 484.1h0M429 483.4h0M427.5 483.1h0M428.4 482.1h0M427.7 474.7h0M430 482.3h0M427 483.7h0M426.8 484.3h0M428.2 475.5h0M429.8 483h0M428.6 467.1h0M429.1 477.1h0M429.8 479.2h0M427.3 477.1h0M429.4 476.2h0M429.3 476.6h0M428.1 484.1h0M428.6 475.5h0M428.9 472.4h0M429.2 477.8h0M429.4 479.1h0M428.5 472.8h0M429.2 464.5h0M429 477.1h0M429.8 484h0M428.8 483.7h0"/>
<path fill="none" stroke="#3d7fc4" stroke-width="1.8" stroke-linecap="round" d="M408.6 478.7h0M413.3 477.1h0M411.9 479.2h0M412.2 480.7h0M412.4 483.3h0M410.6 460.4h0M412 476.6h0M400.2 480.2h0M411.6 460h0M406.8 480.8h0M403.8 467.4h0M410.8 459.8h0M412.7 476.4h0M412.4 484.2h0M409.4 480.7h0M411.8 435.1h0M406.9 484.3h0M412.2 484.1h0M409.9 460.9h0M410.4 472h0M405.4 481.9h0M413.5 481h0M408.8 452.9h0M412.8 460.8h0M410.3 445h0M413.1 477.4h0M413.6 456.6h0M408.6 483h0M412.6 451h0M413.2 484.3h0M403.2 474.9h0M404.9 454.8h0M411.3 477.6h0M409.1 453.9h0M411.1 473.4h0M403.8 480.3h0M411.3 483h0M411.7 480.6h0M404 470.4h0M405.3 471.9h0M408.6 464h0M408.3 484.1h0M411 460.9h0M409.1 468h0M411.3 471.6h0M411.5 457.4h0M412.4 459.2h0M403.4 457.8h0M409.3 480.6h0M412.3 475h0M410.5 471h0M413 480.4h0M406.5 475.7h0M410.9 483h0M412.5 483.6h0M411.4 481h0M412.2 454.1h0M411.9 476.6h0M410.9 479.7h0M407.8 464.5h0M406 479.1h0M411.7 473.9h0M407 477.8h0M402.3 483.5h0M406.6 463.8h0M407.3 467.1h0M412.7 472.9h0M413.1 477.6h0M410.9 471.1h0M408 417.8h0M412.6 480.6h0M413.3 466.8h0M400.1 460.7h0M399.4 439.3h0M406.6 466.3h0M410.7 478.7h0M412.8 484h0M405.2 454.4h0M411.7 483.8h0M406.3 484.2h0M413.7 484.2h0M411.6 453h0M407.9 375.7h0M411.9 454.5h0M411.6 450.1h0M412.7 483.9h0M412.4 483.7h0M407.8 457.1h0M407.5 482.3h0M408.6 456.7h0M411.5 469.5h0M411.1 403.5h0M409.5 469.3h0M399 483.5h0M410.7 484.3h0M411.8 477.5h0M397.1 458.7h0M411.6 473.6h0M410.8 449.9h0M407.7 463.6h0M405.9 479.6h0M413 474.4h0M412.5 461.6h0M407.6 471.8h0M411.9 483.9h0M405.2 471h0M406.4 470.5h0M406 482.1h0M412.5 453.2h0M411.6 481.8h0M408.7 478.5h0M407.1 460.3h0M410.9 483.7h0M412.5 482.5h0M412.3 465.6h0M412.6 468.9h0M409.9 469.9h0M410.3 471.1h0M411.6 471.8h0M412.3 473.5h0M410.2 471.3h0M408.4 448.1h0M411.3 475.9h0M411.8 477.9h0M412.9 449.4h0M407.1 484.2h0M411.3 472.2h0M408.2 481.3h0M407.8 413.7h0M410.6 480.7h0M409.2 474.7h0M406.5 482.8h0M410.2 480.7h0M413.4 463.8h0M407.6 480.7h0M409.7 475.8h0M408.6 479.9h0M411.9 474.7h0M411.7 477.3h0M409.3 482.2h0M410.3 468.6h0M413.4 483.7h0M411.3 451.3h0M413.6 455.1h0M410.8 467.3h0M409.5 484.3h0M410 478.3h0M408.9 480.8h0M411.7 469.6h0M407.9 483.9h0M412.7 483.8h0M411.2 450.4h0M413.1 476.8h0M406.4 479.5h0M409.3 478.6h0M412.2 471.2h0M408.4 468.9h0M413.6 468.8h0M411.2 441.2h0M402.8 473.7h0M412.1 452.5h0M411.7 481.4h0M408.3 441.2h0M409.6 456.5h0M410.5 484.3h0M409.2 452.2h0M408.9 479.9h0M410.1 482.7h0M406.9 483.6h0M399.8 471.1h0M408.5 475.4h0M407.5 455.9h0M413.4 480.7h0M411.5 477.3h0M412.4 473.7h0M411.7 429.7h0M413.3 484.2h0M412.3 472h0M411.4 457h0M412.3 453.5h0M412.2 451.4h0M409.6 479.1h0M404.6 479.3h0M398 479.3h0M412.2 475.7h0M406.8 463.5h0M412.6 477.9h0M412.7 395.7h0M409.6 451.5h0M408 453.6h0M406.3 453.3h0M409.6 481.5h0M404.2 481.3h0M413 474.2h0M410.5 468.3h0M413.5 475.9h0M412.3 463.5h0M412 477.2h0M402.4 479.1h0M408.4 475.6h0M412.5 480.9h0M408.6 480.6h0M408.7 479.4h0M407.7 463.9h0M408.3 482.2h0M410.5 470.5h0M412 483.2h0M406.3 454.8h0M411 465.2h0M412.5 478.6h0M405.1 443.8h0M409.8 476.5h0M413.6 473.7h0M411.3 459.6h0M410.4 451.8h0M401 475.7h0M408.5 467.9h0M400.3 477.7h0M407.4 476.8h0M407.9 471.8h0M413.6 456.3h0M402 483h0M409.1 428.7h0M411.3 483.7h0M413.4 468.5h0M410.6 470.3h0M408.2 437.7h0M411.8 477.6h0M404.5 476.1h0M412.3 457.2h0M408.3 483.8h0M412.2 476.4h0M410.2 398.8h0M413.1 482.8h0M412.7 443.8h0M412 483.7h0M404 458.8h0M408.4 480.7h0M411.2 469.5h0M406.7 476.5h0M412.1 451.9h0M412.6 454.3h0M405.9 440.5h0M408.5 420.2h0M404 467.5h0M411.6 483.5h0M406.9 449.3h0M411.5 482.4h0M410.6 456.6h0M409.3 483.4h0M413.6 484.2h0M413 468.1h0M411.7 475.4h0M412.6 482.7h0M413.1 456.9h0M413.3 478.4h0M413.3 472.8h0M408.2 451.9h0M411.7 462h0M411.1 482.5h0M410.5 460.4h0M410.1 468.3h0M412.2 483.1h0M410.9 483.1h0M405.1 483.1h0M408.8 484.2h0M412.5 484.2h0M412.8 454.3h0M410.4 484h0M413.5 454h0M407.8 483.8h0M407.9 472.7h0M412 483.2h0M411.1 477.4h0M411.9 481h0M412.4 464.5h0M408.6 483.1h0M411.1 481.8h0M413.1 458.7h0M413.7 481.7h0M410.2 484.1h0M411.6 470.7h0M412.4 472.7h0M410.2 465.9h0M404.5 422.7h0"/>
<path fill="none" stroke="#f0413a" stroke-width="1.8" stroke-linecap="round" d="M430.4 481.9h0M449.4 443.3h0M431.2 473h0M430.8 479.5h0M447.5 481.6h0M434.7 466.6h0M436.5 466.7h0M431.9 483h0M444.3 482.2h0M431.9 468.4h0M447.1 477.5h0M431.5 470.4h0M434 478.1h0M447.4 483.2h0M434.4 455.1h0M443 482.7h0M430.8 467.4h0M444.5 478.1h0M430.3 468.2h0M440.4 469.9h0M444.5 479h0M431.6 484h0M436.1 474.6h0M431.5 483.9h0M449.9 474.5h0M450.1 465.7h0M435.9 471.2h0M439.1 477.5h0M435.1 462.8h0M441.5 462h0M431.5 479.1h0M431.6 483.9h0M447.4 484h0M430.1 469.6h0M437.9 460.2h0M440.4 476.5h0M432.1 482.7h0M448.8 464h0M435.1 482.4h0M435.2 469.8h0M442.5 471.6h0M433.6 481.2h0M438.2 461.8h0M435.7 484.2h0M446 476.7h0M449.2 477.7h0M434.5 480h0M432.9 477.7h0M433.6 484.3h0M440 482.9h0M450.2 471.8h0M445 472h0M430.3 482.4h0M430.7 482.5h0M449.6 473.1h0M430.3 467.6h0M437.1 468.1h0M434.7 465.5h0M447.5 462.7h0M444.5 482.8h0M435.8 476.2h0M449.8 476.5h0M433.3 481.6h0M431.4 461.9h0M432.6 462.3h0M451.7 481.3h0M430.3 484h0M435.4 484h0M435.9 483.8h0M430.4 481.6h0M430.3 484.1h0M433 482.2h0M452.1 477.3h0M433.3 463.6h0M446.1 483.6h0M445.3 473h0M430.2 484.3h0M431.8 477.7h0M430.8 474h0M434 476.8h0M449.4 468.6h0M430.3 484.3h0M450.4 479h0M439.8 474.4h0M444.6 474.9h0M451.4 476.1h0M431.4 484.3h0M437.7 477.7h0M442.5 483.1h0M434.8 472.3h0M436 477.7h0M431.9 470.8h0M430.2 482.5h0M439.3 451.8h0M442.8 477.9h0M430.4 481.9h0M436.9 459.5h0M444.9 459.8h0M456.3 481.9h0M431.4 474.7h0M442.7 473.3h0M434.6 476h0M434.3 478.3h0M430.5 474.4h0M435.4 481.8h0"/>
<path fill="none" stroke="#3d7fc4" stroke-width="1.7" stroke-linecap="round" d="M403.6 311.6h0M398.1 323.4h0M400.5 328h0M399.7 348.9h0M383 372.5h0M405.2 384.4h0M406.8 388h0M409.2 396.2h0M386.2 399.8h0M409.2 397.1h0M408.4 403.5h0M407.6 408.9h0M387.8 423.5h0M404.4 418h0M401.3 419.9h0M396.5 436.2h0M393.3 439.9h0M402.8 429.9h0M369.5 454.4h0M375.8 461.7h0M392.5 448.1h0M401.3 443.5h0M384.6 475.4h0M378.2 481.7h0M382.2 479.9h0M392.5 471.7h0M398.1 469h0M406.8 437.2h0"/>
<path fill="none" stroke="#f0413a" stroke-width="1.7" stroke-linecap="round" d="M448.1 413.5h0M436.2 419h0M429.8 445.3h0M437.8 449.9h0M445.7 456.3h0M440.2 457.2h0M442.5 461.7h0M455.2 464.4h0M450.5 469h0M433.8 467.2h0M461.6 470.8h0M444.9 474.5h0M437.8 478.1h0M448.9 481.7h0"/>
</g>
<line x1="413.96" y1="302" x2="413.96" y2="504.6" stroke="#9a9a9a" stroke-width="0.5" stroke-dasharray="1,1"/>
<line x1="429.84" y1="302" x2="429.84" y2="504.6" stroke="#9a9a9a" stroke-width="0.5" stroke-dasharray="1,1"/>
<line x1="344" y1="484.46" x2="500.8" y2="484.46" stroke="#9a9a9a" stroke-width="0.5" stroke-dasharray="1,1"/>
<rect x="344" y="302" width="156.8" height="202.6" fill="none" stroke="#333" stroke-width="0.9" />
<line x1="342.5" y1="496.3" x2="344" y2="496.3" stroke="#333" stroke-width="0.5" />
<text x="341.7" y="497.5" font-size="3.92" text-anchor="end" font-weight="normal" fill="#444"  textLength="1.95" lengthAdjust="spacingAndGlyphs" stroke="#444" stroke-width="0.08">0</text>
<line x1="342.5" y1="450.8" x2="344" y2="450.8" stroke="#333" stroke-width="0.5" />
<text x="341.7" y="452" font-size="3.92" text-anchor="end" font-weight="normal" fill="#444"  textLength="1.95" lengthAdjust="spacingAndGlyphs" stroke="#444" stroke-width="0.08">5</text>
<line x1="342.5" y1="405.3" x2="344" y2="405.3" stroke="#333" stroke-width="0.5" />
<text x="341.7" y="406.5" font-size="3.92" text-anchor="end" font-weight="normal" fill="#444"  textLength="3.89" lengthAdjust="spacingAndGlyphs" stroke="#444" stroke-width="0.08">10</text>
<line x1="342.5" y1="359.8" x2="344" y2="359.8" stroke="#333" stroke-width="0.5" />
<text x="341.7" y="361" font-size="3.92" text-anchor="end" font-weight="normal" fill="#444"  textLength="3.89" lengthAdjust="spacingAndGlyphs" stroke="#444" stroke-width="0.08">15</text>
<line x1="342.5" y1="314.3" x2="344" y2="314.3" stroke="#333" stroke-width="0.5" />
<text x="341.7" y="315.5" font-size="3.92" text-anchor="end" font-weight="normal" fill="#444"  textLength="3.89" lengthAdjust="spacingAndGlyphs" stroke="#444" stroke-width="0.08">20</text>
<line x1="382.2" y1="504.6" x2="382.2" y2="506.1" stroke="#333" stroke-width="0.5" />
<text x="382.2" y="510.2" font-size="3.92" text-anchor="middle" font-weight="normal" fill="#444"  textLength="3.11" lengthAdjust="spacingAndGlyphs" stroke="#444" stroke-width="0.08">-5</text>
<line x1="421.9" y1="504.6" x2="421.9" y2="506.1" stroke="#333" stroke-width="0.5" />
<text x="421.9" y="510.2" font-size="3.92" text-anchor="middle" font-weight="normal" fill="#444"  textLength="1.95" lengthAdjust="spacingAndGlyphs" stroke="#444" stroke-width="0.08">0</text>
<line x1="461.6" y1="504.6" x2="461.6" y2="506.1" stroke="#333" stroke-width="0.5" />
<text x="461.6" y="510.2" font-size="3.92" text-anchor="middle" font-weight="normal" fill="#444"  textLength="1.95" lengthAdjust="spacingAndGlyphs" stroke="#444" stroke-width="0.08">5</text>
<text x="0" y="0" font-size="5.5" fill="#333" stroke="#333" stroke-width="0.08" text-anchor="middle" transform="translate(335,403.3) rotate(-90)">&#8722;log<tspan font-size="3.6" dy="1.2">10</tspan><tspan dy="-1.2">q-value</tspan></text>
<text x="422.9" y="516.6" font-size="5.4" fill="#333" stroke="#333" stroke-width="0.08" text-anchor="middle">log<tspan font-size="3.6" dy="1.2">2</tspan><tspan dy="-1.2"> FoldChange</tspan></text>
<text x="351.5" y="309.6" font-size="3.92" text-anchor="start" font-weight="normal" fill="#333"  textLength="8.95" lengthAdjust="spacingAndGlyphs" stroke="#333" stroke-width="0.08">Down</text>
<text x="351.5" y="315.1" font-size="3.92" text-anchor="start" font-weight="normal" fill="#333"  textLength="20.53" lengthAdjust="spacingAndGlyphs" stroke="#333" stroke-width="0.08">q &lt; 3.05. 401</text>
<text x="351.5" y="320.6" font-size="3.92" text-anchor="start" font-weight="normal" fill="#333"  textLength="26.17" lengthAdjust="spacingAndGlyphs" stroke="#333" stroke-width="0.08">log2FC &lt; -1. 658</text>
<text x="351.5" y="326.1" font-size="3.92" text-anchor="start" font-weight="normal" fill="#333"  textLength="14.79" lengthAdjust="spacingAndGlyphs" stroke="#333" stroke-width="0.08">Sig. : 285</text>
<text x="469" y="309" font-size="3.92" text-anchor="start" font-weight="normal" fill="#333"  textLength="4.47" lengthAdjust="spacingAndGlyphs" stroke="#333" stroke-width="0.08">Up</text>
<text x="469" y="314.6" font-size="3.92" text-anchor="start" font-weight="normal" fill="#333"  textLength="20.53" lengthAdjust="spacingAndGlyphs" stroke="#333" stroke-width="0.08">q &lt; 0.05. 165</text>
<text x="469" y="320.2" font-size="3.92" text-anchor="start" font-weight="normal" fill="#333"  textLength="25" lengthAdjust="spacingAndGlyphs" stroke="#333" stroke-width="0.08">log2FC &gt; 1. 667</text>
<text x="469" y="325.8" font-size="3.92" text-anchor="start" font-weight="normal" fill="#333"  textLength="14.79" lengthAdjust="spacingAndGlyphs" stroke="#333" stroke-width="0.08">Sig. : 105</text>
<text x="351.6" y="447.5" font-size="3.81" text-anchor="start" font-weight="normal" fill="#3d7fc4"  textLength="12.6" lengthAdjust="spacingAndGlyphs" stroke="#3d7fc4" stroke-width="0.08">TAS1R2</text>
<line x1="360" y1="448.5" x2="362.5" y2="451.5" stroke="#3d7fc4" stroke-width="0.35" />
<text x="354.3" y="462.1" font-size="3.81" text-anchor="start" font-weight="normal" fill="#3d7fc4"  textLength="10.96" lengthAdjust="spacingAndGlyphs" stroke="#3d7fc4" stroke-width="0.08">STRA6</text>
<line x1="362" y1="463" x2="364" y2="466" stroke="#3d7fc4" stroke-width="0.35" />
<text x="372" y="464.2" font-size="3.81" text-anchor="start" font-weight="normal" fill="#3d7fc4"  textLength="24.01" lengthAdjust="spacingAndGlyphs" stroke="#3d7fc4" stroke-width="0.08">LOC102173873</text>
<line x1="386" y1="465" x2="391" y2="470" stroke="#3d7fc4" stroke-width="0.35" />
<text x="348.4" y="474.8" font-size="3.81" text-anchor="start" font-weight="normal" fill="#3d7fc4"  textLength="24.01" lengthAdjust="spacingAndGlyphs" stroke="#3d7fc4" stroke-width="0.08">LOC106603209</text>
<line x1="372" y1="474.5" x2="377" y2="479" stroke="#3d7fc4" stroke-width="0.35" />
<text x="378.9" y="474.8" font-size="3.81" text-anchor="start" font-weight="normal" fill="#3d7fc4"  textLength="18.71" lengthAdjust="spacingAndGlyphs" stroke="#3d7fc4" stroke-width="0.08">CD24/HSD..</text>
<line x1="389" y1="476" x2="392" y2="480" stroke="#3d7fc4" stroke-width="0.35" />
<text x="357.7" y="486.1" font-size="3.81" text-anchor="start" font-weight="normal" fill="#3d7fc4"  textLength="14.55" lengthAdjust="spacingAndGlyphs" stroke="#3d7fc4" stroke-width="0.08">SLC16A4</text>
<line x1="372" y1="485" x2="383" y2="484" stroke="#3d7fc4" stroke-width="0.35" />
<text x="388.7" y="486.1" font-size="3.81" text-anchor="start" font-weight="normal" fill="#3d7fc4"  textLength="8.63" lengthAdjust="spacingAndGlyphs" stroke="#3d7fc4" stroke-width="0.08">KRT4</text>
<text x="360.4" y="497.7" font-size="3.81" text-anchor="start" font-weight="normal" fill="#3d7fc4"  textLength="14.36" lengthAdjust="spacingAndGlyphs" stroke="#3d7fc4" stroke-width="0.08">CEMAG2</text>
<line x1="374" y1="496" x2="380" y2="486" stroke="#3d7fc4" stroke-width="0.35" />
<text x="381.7" y="497.7" font-size="3.81" text-anchor="start" font-weight="normal" fill="#3d7fc4"  textLength="7.18" lengthAdjust="spacingAndGlyphs" stroke="#3d7fc4" stroke-width="0.08">AIF1</text>
<line x1="385" y1="495" x2="386" y2="487" stroke="#3d7fc4" stroke-width="0.35" />
<text x="375.6" y="370.2" font-size="3.81" text-anchor="start" font-weight="normal" fill="#3d7fc4"  textLength="24.01" lengthAdjust="spacingAndGlyphs" stroke="#3d7fc4" stroke-width="0.08">LOC100188934</text>
<line x1="386" y1="371.5" x2="383.5" y2="374" stroke="#3d7fc4" stroke-width="0.35" />
<text x="448.8" y="407.3" font-size="3.81" text-anchor="start" font-weight="normal" fill="#f0413a"  textLength="10.9" lengthAdjust="spacingAndGlyphs" stroke="#f0413a" stroke-width="0.08">HSPA6</text>
<line x1="451" y1="408.5" x2="449.5" y2="411.5" stroke="#f0413a" stroke-width="0.35" />
<text x="431" y="442.7" font-size="3.81" text-anchor="start" font-weight="normal" fill="#f0413a"  textLength="10.96" lengthAdjust="spacingAndGlyphs" stroke="#f0413a" stroke-width="0.08">NR4A3</text>
<line x1="438" y1="443.5" x2="441" y2="446" stroke="#f0413a" stroke-width="0.35" />
<text x="448.4" y="451.5" font-size="3.81" text-anchor="start" font-weight="normal" fill="#f0413a"  textLength="13.23" lengthAdjust="spacingAndGlyphs" stroke="#f0413a" stroke-width="0.08">MED12L</text>
<line x1="448" y1="452" x2="444" y2="455" stroke="#f0413a" stroke-width="0.35" />
<text x="431" y="461.6" font-size="3.81" text-anchor="start" font-weight="normal" fill="#f0413a"  textLength="10.58" lengthAdjust="spacingAndGlyphs" stroke="#f0413a" stroke-width="0.08">CIDEC</text>
<line x1="436" y1="462.5" x2="434" y2="465" stroke="#f0413a" stroke-width="0.35" />
<text x="454.3" y="462.2" font-size="3.81" text-anchor="start" font-weight="normal" fill="#f0413a"  textLength="13.98" lengthAdjust="spacingAndGlyphs" stroke="#f0413a" stroke-width="0.08">ELMOD1</text>
<line x1="454" y1="463" x2="450" y2="467" stroke="#f0413a" stroke-width="0.35" />
<text x="455.5" y="473.2" font-size="3.81" text-anchor="start" font-weight="normal" fill="#f0413a"  textLength="9.07" lengthAdjust="spacingAndGlyphs" stroke="#f0413a" stroke-width="0.08">DRB2</text>
<text x="470.8" y="473.2" font-size="3.81" text-anchor="start" font-weight="normal" fill="#f0413a"  textLength="24.01" lengthAdjust="spacingAndGlyphs" stroke="#f0413a" stroke-width="0.08">LOC102182260</text>
<line x1="470" y1="474.5" x2="467.5" y2="478" stroke="#f0413a" stroke-width="0.35" />
<text x="434" y="475.2" font-size="3.81" text-anchor="start" font-weight="normal" fill="#f0413a"  textLength="8.88" lengthAdjust="spacingAndGlyphs" stroke="#f0413a" stroke-width="0.08">HAP1</text>
<text x="454.3" y="485.2" font-size="3.81" text-anchor="start" font-weight="normal" fill="#f0413a"  textLength="24.01" lengthAdjust="spacingAndGlyphs" stroke="#f0413a" stroke-width="0.08">LOC106604590</text>
<line x1="452" y1="484" x2="448.5" y2="481" stroke="#f0413a" stroke-width="0.35" />
<text x="434.7" y="487.6" font-size="3.81" text-anchor="start" font-weight="normal" fill="#f0413a"  textLength="13.61" lengthAdjust="spacingAndGlyphs" stroke="#f0413a" stroke-width="0.08">HOXC13</text>
<circle cx="510.6" cy="391.1" r="0.9" fill="#f0413a"/>
<text x="515.2" y="392.4" font-size="4.2" text-anchor="start" font-weight="normal" fill="#333"  textLength="23.14" lengthAdjust="spacingAndGlyphs" stroke="#333" stroke-width="0.14">Significant Up</text>
<circle cx="510.6" cy="397.6" r="0.9" fill="#3d7fc4"/>
<text x="515.2" y="398.9" font-size="4.2" text-anchor="start" font-weight="normal" fill="#333"  textLength="27.93" lengthAdjust="spacingAndGlyphs" stroke="#333" stroke-width="0.14">Significant Down</text>
<circle cx="510.6" cy="404.1" r="0.9" fill="#f6b9b6"/>
<text x="515.2" y="405.4" font-size="4.2" text-anchor="start" font-weight="normal" fill="#333"  textLength="4.79" lengthAdjust="spacingAndGlyphs" stroke="#333" stroke-width="0.14">Up</text>
<circle cx="510.6" cy="410.6" r="0.9" fill="#8ac8ef"/>
<text x="515.2" y="411.9" font-size="4.2" text-anchor="start" font-weight="normal" fill="#333"  textLength="9.59" lengthAdjust="spacingAndGlyphs" stroke="#333" stroke-width="0.14">Down</text>
<circle cx="510.6" cy="417.1" r="0.9" fill="#d0d7e0"/>
<text x="515.2" y="418.4" font-size="4.2" text-anchor="start" font-weight="normal" fill="#333"  textLength="24.8" lengthAdjust="spacingAndGlyphs" stroke="#333" stroke-width="0.14">Non-significant</text>
<text x="63.45" y="285.0" font-size="5.1" font-weight="bold" fill="#222" text-anchor="middle" textLength="104.3" lengthAdjust="spacingAndGlyphs">VDAC2_OE-vs-WT: q-value&lt;0.05 &amp;&amp; |log<tspan font-size="3.5" dy="1">2</tspan><tspan dy="-1"> FC|&gt;1</tspan></text>
<line x1="43.08" y1="305.3" x2="56.73" y2="305.3" stroke="#444" stroke-width="0.45" />
<line x1="43.08" y1="305.3" x2="43.08" y2="311" stroke="#444" stroke-width="0.45" />
<line x1="56.73" y1="305.3" x2="56.73" y2="311" stroke="#444" stroke-width="0.45" />
<line x1="29.43" y1="301.6" x2="49.9" y2="301.6" stroke="#444" stroke-width="0.45" />
<line x1="29.43" y1="301.6" x2="29.43" y2="311" stroke="#444" stroke-width="0.45" />
<line x1="49.9" y1="301.6" x2="49.9" y2="305.3" stroke="#444" stroke-width="0.45" />
<line x1="84.03" y1="303.8" x2="97.68" y2="303.8" stroke="#444" stroke-width="0.45" />
<line x1="84.03" y1="303.8" x2="84.03" y2="311" stroke="#444" stroke-width="0.45" />
<line x1="97.68" y1="303.8" x2="97.68" y2="311" stroke="#444" stroke-width="0.45" />
<line x1="70.38" y1="298" x2="90.85" y2="298" stroke="#444" stroke-width="0.45" />
<line x1="70.38" y1="298" x2="70.38" y2="311" stroke="#444" stroke-width="0.45" />
<line x1="90.85" y1="298" x2="90.85" y2="303.8" stroke="#444" stroke-width="0.45" />
<line x1="39.66" y1="288.5" x2="80.61" y2="288.5" stroke="#444" stroke-width="0.45" />
<line x1="39.66" y1="288.5" x2="39.66" y2="301.6" stroke="#444" stroke-width="0.45" />
<line x1="80.61" y1="288.5" x2="80.61" y2="298" stroke="#444" stroke-width="0.45" />
<rect x="22.6" y="311" width="40.95" height="4.6" fill="#f09a50" />
<rect x="63.55" y="311" width="40.95" height="4.6" fill="#86c8f0" />
<text x="105.8" y="314.6" font-size="3.81" text-anchor="start" font-weight="bold" fill="#222"  textLength="9.63" lengthAdjust="spacingAndGlyphs" stroke="#222" stroke-width="0.08">group</text>
<path fill="#f8f3eb" d="M22.6 316h13.8v1.75h-13.8zM63.6 317.5h13.8v1.75h-13.8zM49.9 341.85h13.8v1.62h-13.8zM49.9 356.93h13.8v1.62h-13.8zM49.9 359.67h13.8v1.62h-13.8zM49.9 363.78h13.8v1.62h-13.8zM49.9 365.15h13.8v1.62h-13.8zM49.9 366.52h13.8v1.62h-13.8zM49.9 370.63h13.8v1.62h-13.8zM63.6 388.23h13.8v1.6h-13.8zM63.6 407.09h13.8v1.6h-13.8zM63.6 430h13.8v1.58h-13.8zM63.6 440.67h13.8v1.58h-13.8zM63.6 442h13.8v1.58h-13.8zM49.9 473.2h13.8v1.61h-13.8z"/>
<path fill="#f4aa7a" d="M36.2 316h13.8v1.75h-13.8zM49.9 324.45h13.8v1.57h-13.8zM22.6 333.68h13.8v1.57h-13.8zM22.6 348.7h13.8v1.62h-13.8zM36.2 359.67h13.8v1.62h-13.8zM36.2 367.89h13.8v1.62h-13.8zM77.2 386.88h13.8v1.6h-13.8zM90.8 394.97h13.8v1.6h-13.8zM90.8 399.01h13.8v1.6h-13.8zM90.8 405.75h13.8v1.6h-13.8zM90.8 413.83h13.8v1.6h-13.8zM77.2 427.31h13.8v1.6h-13.8zM90.8 446h13.8v1.61h-13.8zM63.6 447.36h13.8v1.61h-13.8zM63.6 448.72h13.8v1.61h-13.8zM90.8 465.04h13.8v1.61h-13.8zM77.2 466.4h13.8v1.61h-13.8zM77.2 469.12h13.8v1.61h-13.8zM77.2 485.7h13.8v1.67h-13.8zM90.8 487.12h13.8v1.67h-13.8zM63.6 488.55h13.8v1.67h-13.8zM77.2 489.97h13.8v1.67h-13.8z"/>
<path fill="#e8784e" d="M49.9 316h13.8v1.75h-13.8zM22.6 339.11h13.8v1.62h-13.8zM22.6 355.56h13.8v1.62h-13.8zM77.2 382.84h13.8v1.6h-13.8zM77.2 389.58h13.8v1.6h-13.8zM77.2 403.05h13.8v1.6h-13.8zM77.2 405.75h13.8v1.6h-13.8zM77.2 419.22h13.8v1.6h-13.8z"/>
<path fill="#5180c2" d="M63.6 316h13.8v1.75h-13.8zM77.2 355.56h13.8v1.62h-13.8zM36.2 403.05h13.8v1.6h-13.8zM49.9 404.4h13.8v1.6h-13.8zM22.6 427.31h13.8v1.6h-13.8zM49.9 434h13.8v1.58h-13.8zM36.2 436.67h13.8v1.58h-13.8zM22.6 438h13.8v1.58h-13.8zM22.6 459.6h13.8v1.61h-13.8zM22.6 466.4h13.8v1.61h-13.8z"/>
<path fill="#5684c4" d="M77.2 316h13.8v1.75h-13.8zM77.2 327.09h13.8v1.57h-13.8zM77.2 329.73h13.8v1.57h-13.8zM63.6 335h13.8v1.62h-13.8zM77.2 339.11h13.8v1.62h-13.8zM63.6 361.04h13.8v1.62h-13.8zM77.2 365.15h13.8v1.62h-13.8zM77.2 367.89h13.8v1.62h-13.8zM77.2 377.44h13.8v1.61h-13.8zM22.6 378.8h13.8v1.6h-13.8zM36.2 393.62h13.8v1.6h-13.8zM49.9 416.53h13.8v1.6h-13.8zM22.6 419.22h13.8v1.6h-13.8zM49.9 420.57h13.8v1.6h-13.8zM22.6 436.67h13.8v1.58h-13.8zM49.9 436.67h13.8v1.58h-13.8zM22.6 458.24h13.8v1.61h-13.8zM22.6 470.48h13.8v1.61h-13.8zM22.6 482.85h13.8v1.67h-13.8zM22.6 487.12h13.8v1.67h-13.8zM49.9 489.97h13.8v1.67h-13.8z"/>
<path fill="#6e98ce" d="M90.8 316h13.8v1.75h-13.8zM77.2 343.22h13.8v1.62h-13.8zM63.6 355.56h13.8v1.62h-13.8zM63.6 365.15h13.8v1.62h-13.8zM77.2 372h13.8v1.61h-13.8zM63.6 378.8h13.8v1.6h-13.8zM22.6 385.54h13.8v1.6h-13.8zM49.9 385.54h13.8v1.6h-13.8zM49.9 386.88h13.8v1.6h-13.8zM49.9 409.79h13.8v1.6h-13.8zM36.2 413.83h13.8v1.6h-13.8zM22.6 415.18h13.8v1.6h-13.8zM22.6 421.92h13.8v1.6h-13.8zM49.9 424.61h13.8v1.6h-13.8zM36.2 431.33h13.8v1.58h-13.8zM22.6 439.33h13.8v1.58h-13.8zM49.9 440.67h13.8v1.58h-13.8zM49.9 443.33h13.8v1.58h-13.8zM22.6 448.72h13.8v1.61h-13.8zM36.2 460.96h13.8v1.61h-13.8zM22.6 462.32h13.8v1.61h-13.8zM22.6 473.2h13.8v1.61h-13.8zM22.6 480h13.8v1.67h-13.8zM49.9 487.12h13.8v1.67h-13.8zM22.6 489.97h13.8v1.67h-13.8z"/>
<path fill="#fbe6ce" d="M22.6 317.5h13.8v1.75h-13.8zM22.6 328.41h13.8v1.57h-13.8zM49.9 343.22h13.8v1.62h-13.8zM49.9 354.19h13.8v1.62h-13.8zM49.9 361.04h13.8v1.62h-13.8zM49.9 362.41h13.8v1.62h-13.8zM90.8 390.93h13.8v1.6h-13.8zM90.8 397.66h13.8v1.6h-13.8zM90.8 412.48h13.8v1.6h-13.8zM63.6 431.33h13.8v1.58h-13.8zM90.8 435.33h13.8v1.58h-13.8zM63.6 436.67h13.8v1.58h-13.8zM49.9 446h13.8v1.61h-13.8zM90.8 447.36h13.8v1.61h-13.8zM90.8 448.72h13.8v1.61h-13.8zM49.9 466.4h13.8v1.61h-13.8zM90.8 482.85h13.8v1.67h-13.8z"/>
<path fill="#f2a171" d="M36.2 317.5h13.8v1.75h-13.8zM22.6 336.37h13.8v1.62h-13.8zM36.2 347.33h13.8v1.62h-13.8zM36.2 350.07h13.8v1.62h-13.8zM77.2 378.8h13.8v1.6h-13.8zM77.2 393.62h13.8v1.6h-13.8zM90.8 396.32h13.8v1.6h-13.8zM90.8 411.14h13.8v1.6h-13.8zM90.8 421.92h13.8v1.6h-13.8zM77.2 423.26h13.8v1.6h-13.8zM77.2 431.33h13.8v1.58h-13.8zM77.2 473.2h13.8v1.61h-13.8zM90.8 473.2h13.8v1.61h-13.8zM63.6 487.12h13.8v1.67h-13.8zM77.2 488.55h13.8v1.67h-13.8z"/>
<path fill="#de5638" d="M49.9 317.5h13.8v1.75h-13.8zM49.9 319h13.8v1.75h-13.8zM22.6 343.22h13.8v1.62h-13.8zM22.6 361.04h13.8v1.62h-13.8zM77.2 385.54h13.8v1.6h-13.8zM77.2 388.23h13.8v1.6h-13.8zM77.2 392.27h13.8v1.6h-13.8zM77.2 394.97h13.8v1.6h-13.8zM77.2 408.44h13.8v1.6h-13.8zM77.2 411.14h13.8v1.6h-13.8z"/>
<path fill="#6490ca" d="M77.2 317.5h13.8v1.75h-13.8zM63.6 321.82h13.8v1.57h-13.8zM77.2 323.14h13.8v1.57h-13.8zM77.2 324.45h13.8v1.57h-13.8zM90.8 340.48h13.8v1.62h-13.8zM77.2 341.85h13.8v1.62h-13.8zM90.8 347.33h13.8v1.62h-13.8zM90.8 350.07h13.8v1.62h-13.8zM77.2 354.19h13.8v1.62h-13.8zM90.8 354.19h13.8v1.62h-13.8zM77.2 356.93h13.8v1.62h-13.8zM77.2 359.67h13.8v1.62h-13.8zM77.2 362.41h13.8v1.62h-13.8zM90.8 362.41h13.8v1.62h-13.8zM77.2 376.08h13.8v1.61h-13.8zM90.8 377.44h13.8v1.61h-13.8zM36.2 380.15h13.8v1.6h-13.8zM22.6 382.84h13.8v1.6h-13.8zM49.9 382.84h13.8v1.6h-13.8zM36.2 386.88h13.8v1.6h-13.8zM49.9 389.58h13.8v1.6h-13.8zM36.2 392.27h13.8v1.6h-13.8zM49.9 392.27h13.8v1.6h-13.8zM49.9 394.97h13.8v1.6h-13.8zM22.6 397.66h13.8v1.6h-13.8zM63.6 397.66h13.8v1.6h-13.8zM22.6 401.71h13.8v1.6h-13.8zM22.6 404.4h13.8v1.6h-13.8zM36.2 404.4h13.8v1.6h-13.8zM22.6 407.09h13.8v1.6h-13.8zM49.9 407.09h13.8v1.6h-13.8zM36.2 409.79h13.8v1.6h-13.8zM22.6 440.67h13.8v1.58h-13.8zM49.9 442h13.8v1.58h-13.8zM36.2 443.33h13.8v1.58h-13.8zM36.2 448.72h13.8v1.61h-13.8zM22.6 454.16h13.8v1.61h-13.8zM22.6 469.12h13.8v1.61h-13.8z"/>
<path fill="#7da4d4" d="M90.8 317.5h13.8v1.75h-13.8zM90.8 335h13.8v1.62h-13.8zM90.8 337.74h13.8v1.62h-13.8zM90.8 348.7h13.8v1.62h-13.8zM63.6 351.44h13.8v1.62h-13.8zM90.8 365.15h13.8v1.62h-13.8zM90.8 374.72h13.8v1.61h-13.8zM22.6 381.49h13.8v1.6h-13.8zM36.2 388.23h13.8v1.6h-13.8zM36.2 400.36h13.8v1.6h-13.8zM36.2 405.75h13.8v1.6h-13.8zM22.6 411.14h13.8v1.6h-13.8zM63.6 419.22h13.8v1.6h-13.8zM36.2 423.26h13.8v1.6h-13.8zM49.9 432.67h13.8v1.58h-13.8zM36.2 440.67h13.8v1.58h-13.8zM36.2 451.44h13.8v1.61h-13.8zM36.2 454.16h13.8v1.61h-13.8zM49.9 455.52h13.8v1.61h-13.8zM36.2 478.64h13.8v1.61h-13.8zM49.9 484.27h13.8v1.67h-13.8zM49.9 485.7h13.8v1.67h-13.8zM36.2 489.97h13.8v1.67h-13.8z"/>
<path fill="#fad0ab" d="M22.6 319h13.8v1.75h-13.8zM36.2 328.41h13.8v1.57h-13.8zM36.2 331.05h13.8v1.57h-13.8zM36.2 340.48h13.8v1.62h-13.8zM36.2 345.96h13.8v1.62h-13.8zM36.2 351.44h13.8v1.62h-13.8zM36.2 355.56h13.8v1.62h-13.8zM49.9 358.3h13.8v1.62h-13.8zM36.2 372h13.8v1.61h-13.8zM49.9 373.36h13.8v1.61h-13.8zM90.8 380.15h13.8v1.6h-13.8zM90.8 442h13.8v1.58h-13.8zM77.2 454.16h13.8v1.61h-13.8zM90.8 454.16h13.8v1.61h-13.8zM63.6 462.32h13.8v1.61h-13.8zM63.6 465.04h13.8v1.61h-13.8zM90.8 475.92h13.8v1.61h-13.8zM90.8 477.28h13.8v1.61h-13.8zM63.6 478.64h13.8v1.61h-13.8zM90.8 489.97h13.8v1.67h-13.8z"/>
<path fill="#f8c092" d="M36.2 319h13.8v1.75h-13.8zM36.2 324.45h13.8v1.57h-13.8zM22.6 331.05h13.8v1.57h-13.8zM36.2 341.85h13.8v1.62h-13.8zM36.2 354.19h13.8v1.62h-13.8zM22.6 367.89h13.8v1.62h-13.8zM22.6 373.36h13.8v1.61h-13.8zM49.9 374.72h13.8v1.61h-13.8zM90.8 381.49h13.8v1.6h-13.8zM90.8 384.19h13.8v1.6h-13.8zM90.8 400.36h13.8v1.6h-13.8zM90.8 404.4h13.8v1.6h-13.8zM90.8 407.09h13.8v1.6h-13.8zM90.8 416.53h13.8v1.6h-13.8zM77.2 424.61h13.8v1.6h-13.8zM90.8 432.67h13.8v1.58h-13.8zM77.2 434h13.8v1.58h-13.8zM77.2 440.67h13.8v1.58h-13.8zM77.2 443.33h13.8v1.58h-13.8zM77.2 444.67h13.8v1.58h-13.8zM90.8 444.67h13.8v1.58h-13.8zM63.6 451.44h13.8v1.61h-13.8zM63.6 467.76h13.8v1.61h-13.8zM90.8 470.48h13.8v1.61h-13.8zM77.2 471.84h13.8v1.61h-13.8zM63.6 482.85h13.8v1.67h-13.8zM77.2 482.85h13.8v1.67h-13.8zM77.2 484.27h13.8v1.67h-13.8z"/>
<path fill="#78a0d2" d="M63.6 319h13.8v1.75h-13.8zM90.8 323.14h13.8v1.57h-13.8zM63.6 348.7h13.8v1.62h-13.8zM63.6 356.93h13.8v1.62h-13.8zM63.6 366.52h13.8v1.62h-13.8zM90.8 367.89h13.8v1.62h-13.8zM49.9 381.49h13.8v1.6h-13.8zM22.6 384.19h13.8v1.6h-13.8zM36.2 384.19h13.8v1.6h-13.8zM22.6 386.88h13.8v1.6h-13.8zM22.6 388.23h13.8v1.6h-13.8zM22.6 389.58h13.8v1.6h-13.8zM36.2 389.58h13.8v1.6h-13.8zM49.9 396.32h13.8v1.6h-13.8zM22.6 399.01h13.8v1.6h-13.8zM49.9 399.01h13.8v1.6h-13.8zM63.6 412.48h13.8v1.6h-13.8zM36.2 417.87h13.8v1.6h-13.8zM49.9 417.87h13.8v1.6h-13.8zM36.2 420.57h13.8v1.6h-13.8zM49.9 423.26h13.8v1.6h-13.8zM36.2 424.61h13.8v1.6h-13.8zM36.2 427.31h13.8v1.6h-13.8zM22.6 432.67h13.8v1.58h-13.8zM36.2 446h13.8v1.61h-13.8zM36.2 462.32h13.8v1.61h-13.8zM49.9 470.48h13.8v1.61h-13.8zM22.6 474.56h13.8v1.61h-13.8zM36.2 480h13.8v1.67h-13.8zM49.9 480h13.8v1.67h-13.8z"/>
<path fill="#739cd0" d="M77.2 319h13.8v1.75h-13.8zM90.8 319h13.8v1.75h-13.8zM90.8 324.45h13.8v1.57h-13.8zM63.6 325.77h13.8v1.57h-13.8zM90.8 332.36h13.8v1.57h-13.8zM63.6 333.68h13.8v1.57h-13.8zM63.6 345.96h13.8v1.62h-13.8zM90.8 355.56h13.8v1.62h-13.8zM90.8 358.3h13.8v1.62h-13.8zM77.2 369.26h13.8v1.62h-13.8zM90.8 369.26h13.8v1.62h-13.8zM90.8 376.08h13.8v1.61h-13.8zM49.9 380.15h13.8v1.6h-13.8zM36.2 381.49h13.8v1.6h-13.8zM36.2 394.97h13.8v1.6h-13.8zM22.6 396.32h13.8v1.6h-13.8zM36.2 397.66h13.8v1.6h-13.8zM36.2 399.01h13.8v1.6h-13.8zM22.6 403.05h13.8v1.6h-13.8zM49.9 405.75h13.8v1.6h-13.8zM49.9 419.22h13.8v1.6h-13.8zM49.9 427.31h13.8v1.6h-13.8zM36.2 428.65h13.8v1.6h-13.8zM36.2 430h13.8v1.58h-13.8zM49.9 430h13.8v1.58h-13.8zM49.9 435.33h13.8v1.58h-13.8zM49.9 439.33h13.8v1.58h-13.8zM36.2 455.52h13.8v1.61h-13.8zM36.2 458.24h13.8v1.61h-13.8zM36.2 459.6h13.8v1.61h-13.8zM36.2 471.84h13.8v1.61h-13.8zM36.2 474.56h13.8v1.61h-13.8zM36.2 477.28h13.8v1.61h-13.8zM22.6 478.64h13.8v1.61h-13.8zM22.6 484.27h13.8v1.67h-13.8zM36.2 487.12h13.8v1.67h-13.8z"/>
<path fill="#f9eee1" d="M22.6 320.5h13.8v1.57h-13.8zM36.2 370.63h13.8v1.62h-13.8zM63.6 394.97h13.8v1.6h-13.8zM63.6 432.67h13.8v1.58h-13.8zM90.8 436.67h13.8v1.58h-13.8zM63.6 454.16h13.8v1.61h-13.8zM90.8 460.96h13.8v1.61h-13.8zM90.8 485.7h13.8v1.67h-13.8z"/>
<path fill="#f7ba8a" d="M36.2 320.5h13.8v1.57h-13.8zM49.9 327.09h13.8v1.57h-13.8zM36.2 329.73h13.8v1.57h-13.8zM49.9 331.05h13.8v1.57h-13.8zM36.2 337.74h13.8v1.62h-13.8zM36.2 339.11h13.8v1.62h-13.8zM36.2 356.93h13.8v1.62h-13.8zM36.2 369.26h13.8v1.62h-13.8zM36.2 376.08h13.8v1.61h-13.8zM77.2 384.19h13.8v1.6h-13.8zM90.8 386.88h13.8v1.6h-13.8zM77.2 390.93h13.8v1.6h-13.8zM77.2 432.67h13.8v1.58h-13.8zM77.2 439.33h13.8v1.58h-13.8zM90.8 440.67h13.8v1.58h-13.8zM77.2 459.6h13.8v1.61h-13.8zM77.2 462.32h13.8v1.61h-13.8zM77.2 480h13.8v1.67h-13.8zM90.8 480h13.8v1.67h-13.8zM90.8 484.27h13.8v1.67h-13.8z"/>
<path fill="#ef9161" d="M49.9 320.5h13.8v1.57h-13.8zM49.9 323.14h13.8v1.57h-13.8zM49.9 332.36h13.8v1.57h-13.8zM22.6 335h13.8v1.62h-13.8zM22.6 347.33h13.8v1.62h-13.8zM22.6 366.52h13.8v1.62h-13.8zM77.2 401.71h13.8v1.6h-13.8zM77.2 404.4h13.8v1.6h-13.8zM77.2 421.92h13.8v1.6h-13.8zM77.2 446h13.8v1.61h-13.8zM77.2 448.72h13.8v1.61h-13.8zM90.8 478.64h13.8v1.61h-13.8zM77.2 487.12h13.8v1.67h-13.8z"/>
<path fill="#c7d9ed" d="M63.6 320.5h13.8v1.57h-13.8zM90.8 327.09h13.8v1.57h-13.8zM90.8 336.37h13.8v1.62h-13.8zM63.6 408.44h13.8v1.6h-13.8zM63.6 409.79h13.8v1.6h-13.8zM63.6 411.14h13.8v1.6h-13.8zM63.6 413.83h13.8v1.6h-13.8zM49.9 452.8h13.8v1.61h-13.8zM63.6 452.8h13.8v1.61h-13.8zM49.9 478.64h13.8v1.61h-13.8z"/>
<path fill="#5b88c6" d="M77.2 320.5h13.8v1.57h-13.8zM90.8 320.5h13.8v1.57h-13.8zM77.2 328.41h13.8v1.57h-13.8zM77.2 337.74h13.8v1.62h-13.8zM90.8 339.11h13.8v1.62h-13.8zM63.6 344.59h13.8v1.62h-13.8zM77.2 351.44h13.8v1.62h-13.8zM90.8 356.93h13.8v1.62h-13.8zM63.6 374.72h13.8v1.61h-13.8zM22.6 390.93h13.8v1.6h-13.8zM36.2 390.93h13.8v1.6h-13.8zM49.9 390.93h13.8v1.6h-13.8zM36.2 401.71h13.8v1.6h-13.8zM49.9 401.71h13.8v1.6h-13.8zM49.9 403.05h13.8v1.6h-13.8zM36.2 407.09h13.8v1.6h-13.8zM49.9 412.48h13.8v1.6h-13.8zM49.9 415.18h13.8v1.6h-13.8zM49.9 428.65h13.8v1.6h-13.8zM36.2 432.67h13.8v1.58h-13.8zM36.2 434h13.8v1.58h-13.8zM22.6 435.33h13.8v1.58h-13.8zM22.6 442h13.8v1.58h-13.8zM22.6 444.67h13.8v1.58h-13.8zM22.6 456.88h13.8v1.61h-13.8zM36.2 456.88h13.8v1.61h-13.8zM22.6 465.04h13.8v1.61h-13.8zM36.2 482.85h13.8v1.67h-13.8zM22.6 488.55h13.8v1.67h-13.8z"/>
<path fill="#faead8" d="M22.6 321.82h13.8v1.57h-13.8zM36.2 344.59h13.8v1.62h-13.8zM49.9 355.56h13.8v1.62h-13.8zM63.6 434h13.8v1.58h-13.8zM63.6 438h13.8v1.58h-13.8zM90.8 462.32h13.8v1.61h-13.8zM49.9 463.68h13.8v1.61h-13.8zM63.6 469.12h13.8v1.61h-13.8zM63.6 470.48h13.8v1.61h-13.8zM90.8 481.43h13.8v1.67h-13.8z"/>
<path fill="#f8c59b" d="M36.2 321.82h13.8v1.57h-13.8zM36.2 323.14h13.8v1.57h-13.8zM36.2 327.09h13.8v1.57h-13.8zM49.9 328.41h13.8v1.57h-13.8zM49.9 329.73h13.8v1.57h-13.8zM36.2 348.7h13.8v1.62h-13.8zM22.6 352.81h13.8v1.62h-13.8zM36.2 361.04h13.8v1.62h-13.8zM36.2 365.15h13.8v1.62h-13.8zM36.2 366.52h13.8v1.62h-13.8zM36.2 374.72h13.8v1.61h-13.8zM90.8 385.54h13.8v1.6h-13.8zM90.8 401.71h13.8v1.6h-13.8zM90.8 408.44h13.8v1.6h-13.8zM90.8 427.31h13.8v1.6h-13.8zM77.2 442h13.8v1.58h-13.8zM77.2 451.44h13.8v1.61h-13.8zM90.8 452.8h13.8v1.61h-13.8zM77.2 456.88h13.8v1.61h-13.8zM77.2 470.48h13.8v1.61h-13.8zM63.6 473.2h13.8v1.61h-13.8zM63.6 475.92h13.8v1.61h-13.8zM77.2 477.28h13.8v1.61h-13.8zM77.2 478.64h13.8v1.61h-13.8z"/>
<path fill="#f19969" d="M49.9 321.82h13.8v1.57h-13.8zM36.2 333.68h13.8v1.57h-13.8zM49.9 333.68h13.8v1.57h-13.8zM36.2 343.22h13.8v1.62h-13.8zM22.6 345.96h13.8v1.62h-13.8zM22.6 354.19h13.8v1.62h-13.8zM36.2 358.3h13.8v1.62h-13.8zM36.2 362.41h13.8v1.62h-13.8zM22.6 365.15h13.8v1.62h-13.8zM90.8 392.27h13.8v1.6h-13.8zM77.2 397.66h13.8v1.6h-13.8zM77.2 428.65h13.8v1.6h-13.8zM90.8 451.44h13.8v1.61h-13.8zM77.2 467.76h13.8v1.61h-13.8z"/>
<path fill="#6994cc" d="M77.2 321.82h13.8v1.57h-13.8zM90.8 331.05h13.8v1.57h-13.8zM77.2 333.68h13.8v1.57h-13.8zM63.6 336.37h13.8v1.62h-13.8zM90.8 344.59h13.8v1.62h-13.8zM77.2 350.07h13.8v1.62h-13.8zM63.6 358.3h13.8v1.62h-13.8zM77.2 358.3h13.8v1.62h-13.8zM77.2 361.04h13.8v1.62h-13.8zM77.2 366.52h13.8v1.62h-13.8zM77.2 373.36h13.8v1.61h-13.8zM77.2 374.72h13.8v1.61h-13.8zM22.6 380.15h13.8v1.6h-13.8zM49.9 384.19h13.8v1.6h-13.8zM22.6 392.27h13.8v1.6h-13.8zM49.9 393.62h13.8v1.6h-13.8zM36.2 408.44h13.8v1.6h-13.8zM36.2 425.96h13.8v1.6h-13.8zM49.9 425.96h13.8v1.6h-13.8zM63.6 425.96h13.8v1.6h-13.8zM36.2 463.68h13.8v1.61h-13.8zM22.6 467.76h13.8v1.61h-13.8zM49.9 482.85h13.8v1.67h-13.8z"/>
<path fill="#b2cae6" d="M90.8 321.82h13.8v1.57h-13.8zM63.6 324.45h13.8v1.57h-13.8zM63.6 362.41h13.8v1.62h-13.8zM63.6 384.19h13.8v1.6h-13.8zM63.6 390.93h13.8v1.6h-13.8zM63.6 393.62h13.8v1.6h-13.8zM49.9 400.36h13.8v1.6h-13.8zM63.6 420.57h13.8v1.6h-13.8zM63.6 428.65h13.8v1.6h-13.8zM36.2 450.08h13.8v1.61h-13.8z"/>
<path fill="#f7f7f5" d="M22.6 323.14h13.8v1.57h-13.8zM22.6 325.77h13.8v1.57h-13.8zM49.9 351.44h13.8v1.62h-13.8zM63.6 382.84h13.8v1.6h-13.8zM63.6 392.27h13.8v1.6h-13.8zM63.6 404.4h13.8v1.6h-13.8zM63.6 439.33h13.8v1.58h-13.8zM63.6 443.33h13.8v1.58h-13.8zM90.8 455.52h13.8v1.61h-13.8z"/>
<path fill="#88acd8" d="M63.6 323.14h13.8v1.57h-13.8zM90.8 329.73h13.8v1.57h-13.8zM63.6 331.05h13.8v1.57h-13.8zM90.8 343.22h13.8v1.62h-13.8zM63.6 370.63h13.8v1.62h-13.8zM90.8 373.36h13.8v1.61h-13.8zM63.6 403.05h13.8v1.6h-13.8zM36.2 411.14h13.8v1.6h-13.8zM49.9 411.14h13.8v1.6h-13.8zM36.2 416.53h13.8v1.6h-13.8zM63.6 417.87h13.8v1.6h-13.8zM49.9 421.92h13.8v1.6h-13.8zM49.9 444.67h13.8v1.58h-13.8zM22.6 446h13.8v1.61h-13.8zM49.9 450.08h13.8v1.61h-13.8zM36.2 465.04h13.8v1.61h-13.8zM36.2 466.4h13.8v1.61h-13.8zM36.2 484.27h13.8v1.67h-13.8zM36.2 488.55h13.8v1.67h-13.8z"/>
<path fill="#fce1c4" d="M22.6 324.45h13.8v1.57h-13.8zM22.6 332.36h13.8v1.57h-13.8zM49.9 344.59h13.8v1.62h-13.8zM49.9 372h13.8v1.61h-13.8zM49.9 377.44h13.8v1.61h-13.8zM63.6 386.88h13.8v1.6h-13.8zM90.8 393.62h13.8v1.6h-13.8zM90.8 417.87h13.8v1.6h-13.8zM63.6 427.31h13.8v1.6h-13.8zM77.2 436.67h13.8v1.58h-13.8zM63.6 450.08h13.8v1.61h-13.8zM90.8 458.24h13.8v1.61h-13.8zM90.8 459.6h13.8v1.61h-13.8zM63.6 463.68h13.8v1.61h-13.8zM90.8 467.76h13.8v1.61h-13.8zM49.9 474.56h13.8v1.61h-13.8z"/>
<path fill="#fbdbbc" d="M36.2 325.77h13.8v1.57h-13.8zM49.9 325.77h13.8v1.57h-13.8zM49.9 350.07h13.8v1.62h-13.8zM36.2 352.81h13.8v1.62h-13.8zM36.2 363.78h13.8v1.62h-13.8zM49.9 369.26h13.8v1.62h-13.8zM22.6 376.08h13.8v1.61h-13.8zM49.9 376.08h13.8v1.61h-13.8zM36.2 377.44h13.8v1.61h-13.8zM63.6 396.32h13.8v1.6h-13.8zM90.8 425.96h13.8v1.6h-13.8zM90.8 428.65h13.8v1.6h-13.8zM90.8 431.33h13.8v1.58h-13.8zM90.8 439.33h13.8v1.58h-13.8zM90.8 443.33h13.8v1.58h-13.8zM63.6 446h13.8v1.61h-13.8zM63.6 455.52h13.8v1.61h-13.8zM63.6 456.88h13.8v1.61h-13.8zM63.6 460.96h13.8v1.61h-13.8zM77.2 463.68h13.8v1.61h-13.8zM63.6 466.4h13.8v1.61h-13.8zM63.6 481.43h13.8v1.67h-13.8zM77.2 481.43h13.8v1.67h-13.8zM90.8 488.55h13.8v1.67h-13.8z"/>
<path fill="#4c7cc0" d="M77.2 325.77h13.8v1.57h-13.8zM77.2 331.05h13.8v1.57h-13.8zM77.2 344.59h13.8v1.62h-13.8zM63.6 376.08h13.8v1.61h-13.8zM63.6 377.44h13.8v1.61h-13.8zM22.6 409.79h13.8v1.6h-13.8zM22.6 416.53h13.8v1.6h-13.8zM22.6 430h13.8v1.58h-13.8zM49.9 431.33h13.8v1.58h-13.8zM22.6 443.33h13.8v1.58h-13.8zM36.2 444.67h13.8v1.58h-13.8zM22.6 452.8h13.8v1.61h-13.8zM22.6 475.92h13.8v1.61h-13.8z"/>
<path fill="#bcd2ea" d="M90.8 325.77h13.8v1.57h-13.8zM63.6 329.73h13.8v1.57h-13.8zM63.6 350.07h13.8v1.62h-13.8zM36.2 385.54h13.8v1.6h-13.8zM22.6 405.75h13.8v1.6h-13.8zM63.6 405.75h13.8v1.6h-13.8zM63.6 416.53h13.8v1.6h-13.8zM36.2 421.92h13.8v1.6h-13.8zM49.9 458.24h13.8v1.61h-13.8zM49.9 459.6h13.8v1.61h-13.8zM36.2 469.12h13.8v1.61h-13.8z"/>
<path fill="#dce8f4" d="M22.6 327.09h13.8v1.57h-13.8zM49.9 335h13.8v1.62h-13.8zM49.9 340.48h13.8v1.62h-13.8zM49.9 454.16h13.8v1.61h-13.8zM77.2 455.52h13.8v1.61h-13.8zM49.9 467.76h13.8v1.61h-13.8z"/>
<path fill="#a7c2e3" d="M63.6 327.09h13.8v1.57h-13.8zM90.8 333.68h13.8v1.57h-13.8zM63.6 339.11h13.8v1.62h-13.8zM63.6 341.85h13.8v1.62h-13.8zM90.8 345.96h13.8v1.62h-13.8zM90.8 352.81h13.8v1.62h-13.8zM63.6 367.89h13.8v1.62h-13.8zM49.9 462.32h13.8v1.61h-13.8zM36.2 473.2h13.8v1.61h-13.8z"/>
<path fill="#4778be" d="M63.6 328.41h13.8v1.57h-13.8zM90.8 328.41h13.8v1.57h-13.8zM77.2 336.37h13.8v1.62h-13.8zM77.2 370.63h13.8v1.62h-13.8zM22.6 447.36h13.8v1.61h-13.8zM22.6 450.08h13.8v1.61h-13.8zM22.6 455.52h13.8v1.61h-13.8zM36.2 470.48h13.8v1.61h-13.8zM22.6 481.43h13.8v1.67h-13.8zM49.9 481.43h13.8v1.67h-13.8z"/>
<path fill="#fad6b4" d="M22.6 329.73h13.8v1.57h-13.8zM36.2 335h13.8v1.62h-13.8zM22.6 351.44h13.8v1.62h-13.8zM22.6 377.44h13.8v1.61h-13.8zM90.8 389.58h13.8v1.6h-13.8zM90.8 415.18h13.8v1.6h-13.8zM90.8 423.26h13.8v1.6h-13.8zM90.8 424.61h13.8v1.6h-13.8zM90.8 434h13.8v1.58h-13.8zM90.8 438h13.8v1.58h-13.8zM63.6 444.67h13.8v1.58h-13.8zM90.8 450.08h13.8v1.61h-13.8zM90.8 456.88h13.8v1.61h-13.8zM77.2 460.96h13.8v1.61h-13.8zM90.8 463.68h13.8v1.61h-13.8zM90.8 471.84h13.8v1.61h-13.8zM77.2 475.92h13.8v1.61h-13.8zM63.6 477.28h13.8v1.61h-13.8zM63.6 485.7h13.8v1.67h-13.8z"/>
<path fill="#f9cba3" d="M36.2 332.36h13.8v1.57h-13.8zM49.9 367.89h13.8v1.62h-13.8zM22.6 372h13.8v1.61h-13.8zM36.2 373.36h13.8v1.61h-13.8zM90.8 382.84h13.8v1.6h-13.8zM90.8 388.23h13.8v1.6h-13.8zM90.8 403.05h13.8v1.6h-13.8zM90.8 409.79h13.8v1.6h-13.8zM90.8 420.57h13.8v1.6h-13.8zM90.8 430h13.8v1.58h-13.8zM77.2 438h13.8v1.58h-13.8zM77.2 447.36h13.8v1.61h-13.8zM77.2 452.8h13.8v1.61h-13.8zM63.6 459.6h13.8v1.61h-13.8zM63.6 474.56h13.8v1.61h-13.8zM90.8 474.56h13.8v1.61h-13.8zM63.6 480h13.8v1.67h-13.8zM63.6 489.97h13.8v1.67h-13.8z"/>
<path fill="#eef2f5" d="M63.6 332.36h13.8v1.57h-13.8zM49.9 337.74h13.8v1.62h-13.8zM49.9 339.11h13.8v1.62h-13.8zM49.9 345.96h13.8v1.62h-13.8zM49.9 347.33h13.8v1.62h-13.8zM63.6 380.15h13.8v1.6h-13.8zM63.6 381.49h13.8v1.6h-13.8zM63.6 423.26h13.8v1.6h-13.8zM63.6 435.33h13.8v1.58h-13.8zM49.9 447.36h13.8v1.61h-13.8zM49.9 448.72h13.8v1.61h-13.8zM49.9 451.44h13.8v1.61h-13.8zM49.9 456.88h13.8v1.61h-13.8zM49.9 477.28h13.8v1.61h-13.8z"/>
<path fill="#608cc8" d="M77.2 332.36h13.8v1.57h-13.8zM77.2 335h13.8v1.62h-13.8zM77.2 340.48h13.8v1.62h-13.8zM77.2 347.33h13.8v1.62h-13.8zM77.2 348.7h13.8v1.62h-13.8zM90.8 351.44h13.8v1.62h-13.8zM90.8 370.63h13.8v1.62h-13.8zM63.6 372h13.8v1.61h-13.8zM36.2 378.8h13.8v1.6h-13.8zM49.9 378.8h13.8v1.6h-13.8zM36.2 382.84h13.8v1.6h-13.8zM22.6 393.62h13.8v1.6h-13.8zM22.6 394.97h13.8v1.6h-13.8zM36.2 396.32h13.8v1.6h-13.8zM49.9 397.66h13.8v1.6h-13.8zM36.2 412.48h13.8v1.6h-13.8zM49.9 413.83h13.8v1.6h-13.8zM22.6 417.87h13.8v1.6h-13.8zM36.2 419.22h13.8v1.6h-13.8zM22.6 420.57h13.8v1.6h-13.8zM22.6 423.26h13.8v1.6h-13.8zM22.6 424.61h13.8v1.6h-13.8zM22.6 425.96h13.8v1.6h-13.8zM22.6 431.33h13.8v1.58h-13.8zM22.6 434h13.8v1.58h-13.8zM36.2 435.33h13.8v1.58h-13.8zM49.9 438h13.8v1.58h-13.8zM36.2 439.33h13.8v1.58h-13.8zM22.6 451.44h13.8v1.61h-13.8zM36.2 452.8h13.8v1.61h-13.8zM22.6 460.96h13.8v1.61h-13.8zM36.2 467.76h13.8v1.61h-13.8zM22.6 471.84h13.8v1.61h-13.8zM36.2 475.92h13.8v1.61h-13.8zM22.6 477.28h13.8v1.61h-13.8zM22.6 485.7h13.8v1.67h-13.8zM36.2 485.7h13.8v1.67h-13.8z"/>
<path fill="#f5b282" d="M36.2 336.37h13.8v1.62h-13.8zM22.6 340.48h13.8v1.62h-13.8zM22.6 344.59h13.8v1.62h-13.8zM22.6 363.78h13.8v1.62h-13.8zM22.6 370.63h13.8v1.62h-13.8zM22.6 374.72h13.8v1.61h-13.8zM90.8 378.8h13.8v1.6h-13.8zM90.8 419.22h13.8v1.6h-13.8zM77.2 435.33h13.8v1.58h-13.8zM77.2 450.08h13.8v1.61h-13.8zM63.6 458.24h13.8v1.61h-13.8zM77.2 458.24h13.8v1.61h-13.8zM77.2 465.04h13.8v1.61h-13.8zM90.8 466.4h13.8v1.61h-13.8zM90.8 469.12h13.8v1.61h-13.8zM63.6 471.84h13.8v1.61h-13.8zM77.2 474.56h13.8v1.61h-13.8zM63.6 484.27h13.8v1.67h-13.8z"/>
<path fill="#d2e1f1" d="M49.9 336.37h13.8v1.62h-13.8zM90.8 361.04h13.8v1.62h-13.8zM90.8 366.52h13.8v1.62h-13.8zM63.6 385.54h13.8v1.6h-13.8zM63.6 421.92h13.8v1.6h-13.8zM49.9 460.96h13.8v1.61h-13.8zM49.9 475.92h13.8v1.61h-13.8z"/>
<path fill="#e36743" d="M22.6 337.74h13.8v1.62h-13.8zM22.6 362.41h13.8v1.62h-13.8zM77.2 412.48h13.8v1.6h-13.8z"/>
<path fill="#92b3db" d="M63.6 337.74h13.8v1.62h-13.8zM90.8 341.85h13.8v1.62h-13.8zM63.6 359.67h13.8v1.62h-13.8zM63.6 373.36h13.8v1.61h-13.8zM49.9 388.23h13.8v1.6h-13.8zM22.6 408.44h13.8v1.6h-13.8zM49.9 408.44h13.8v1.6h-13.8zM22.6 413.83h13.8v1.6h-13.8zM36.2 415.18h13.8v1.6h-13.8zM63.6 415.18h13.8v1.6h-13.8zM36.2 438h13.8v1.58h-13.8zM36.2 447.36h13.8v1.61h-13.8zM49.9 471.84h13.8v1.61h-13.8zM49.9 488.55h13.8v1.67h-13.8z"/>
<path fill="#9dbbdf" d="M63.6 340.48h13.8v1.62h-13.8zM63.6 343.22h13.8v1.62h-13.8zM49.9 352.81h13.8v1.62h-13.8zM63.6 354.19h13.8v1.62h-13.8zM90.8 359.67h13.8v1.62h-13.8zM90.8 372h13.8v1.61h-13.8zM63.6 399.01h13.8v1.6h-13.8zM22.6 400.36h13.8v1.6h-13.8zM63.6 400.36h13.8v1.6h-13.8zM63.6 401.71h13.8v1.6h-13.8zM49.9 469.12h13.8v1.61h-13.8z"/>
<path fill="#ea8054" d="M22.6 341.85h13.8v1.62h-13.8zM22.6 359.67h13.8v1.62h-13.8zM77.2 380.15h13.8v1.6h-13.8zM77.2 396.32h13.8v1.6h-13.8zM77.2 399.01h13.8v1.6h-13.8zM77.2 400.36h13.8v1.6h-13.8zM77.2 416.53h13.8v1.6h-13.8zM77.2 420.57h13.8v1.6h-13.8zM77.2 430h13.8v1.58h-13.8z"/>
<path fill="#4274bc" d="M77.2 345.96h13.8v1.62h-13.8zM63.6 347.33h13.8v1.62h-13.8zM63.6 352.81h13.8v1.62h-13.8zM77.2 352.81h13.8v1.62h-13.8zM63.6 363.78h13.8v1.62h-13.8zM77.2 363.78h13.8v1.62h-13.8zM90.8 363.78h13.8v1.62h-13.8zM22.6 412.48h13.8v1.6h-13.8zM22.6 428.65h13.8v1.6h-13.8zM36.2 442h13.8v1.58h-13.8zM22.6 463.68h13.8v1.61h-13.8zM36.2 481.43h13.8v1.67h-13.8z"/>
<path fill="#e5edf4" d="M49.9 348.7h13.8v1.62h-13.8zM63.6 369.26h13.8v1.62h-13.8zM63.6 389.58h13.8v1.6h-13.8zM63.6 424.61h13.8v1.6h-13.8zM49.9 465.04h13.8v1.61h-13.8z"/>
<path fill="#e05e3e" d="M22.6 350.07h13.8v1.62h-13.8zM22.6 358.3h13.8v1.62h-13.8zM77.2 381.49h13.8v1.6h-13.8z"/>
<path fill="#e66f49" d="M22.6 356.93h13.8v1.62h-13.8zM22.6 369.26h13.8v1.62h-13.8zM77.2 407.09h13.8v1.6h-13.8zM77.2 409.79h13.8v1.6h-13.8zM77.2 417.87h13.8v1.6h-13.8zM77.2 425.96h13.8v1.6h-13.8z"/>
<path fill="#ed895a" d="M77.2 413.83h13.8v1.6h-13.8zM77.2 415.18h13.8v1.6h-13.8z"/>
<rect x="63.55" y="444.6" width="13.65" height="1.6" fill="#e05d3c" />
<path fill="none" stroke="#444" stroke-width="0.5" d="M4.4 338.9L4.4 426.4M4.4 338.9L11.5 338.9M4.4 426.4L7.8 426.4M11.5 320.2L11.5 356M11.5 320.2L15.3 320.2M11.5 356L15.3 356M7.8 396.5L7.8 453M7.8 396.5L10 396.5M7.8 453L10 453M10 382L10 410M10 382L13 382M10 410L13 410M10 440L10 472M10 440L13 440M10 472L13 472"/>
<path fill="none" stroke="#555" stroke-width="0.33" d="M15.3 318.4L15.3 323.4M15.3 318.4L17.2 318.4M15.3 323.4L17.8 323.4M17.2 317.2L17.2 319.6M17.2 317.2L19 317.2M17.2 319.6L19.1 319.6M19 316.4L19 317.6M19 316.4L19.6 316.4M19 317.6L19.7 317.6M19.6 316.4L20.1 316.4M19.7 317.3L19.7 318.1M19.7 317.3L19.8 317.3M19.7 318.1L19.8 318.1M19.8 317.3L20.1 317.3M19.8 318.1L20.1 318.1M19.1 318.8L19.1 320M19.1 318.8L19.8 318.8M19.1 320L19.8 320M19.8 318.8L20.1 318.8M19.8 319.4L19.8 320.2M19.8 319.4L19.8 319.4M19.8 320.2L19.8 320.2M19.8 319.4L20.1 319.4M19.8 320.2L20.1 320.2M17.8 322.3L17.8 324.9M17.8 322.3L19.3 322.3M17.8 324.9L18.7 324.9M19.3 321.3L19.3 322.7M19.3 321.3L19.8 321.3M19.3 322.7L19.6 322.7M19.8 321.3L20.1 321.3M19.6 322.1L19.6 323.1M19.6 322.1L19.8 322.1M19.6 323.1L19.8 323.1M19.8 322.1L20.1 322.1M19.8 323.1L20.1 323.1M18.7 324.3L18.7 325.4M18.7 324.3L19.5 324.3M18.7 325.4L19.8 325.4M19.5 324.3L20.1 324.3M19.8 325.4L20.1 325.4M15.3 339.4L15.3 365.8M15.3 339.4L17.3 339.4M15.3 365.8L17.1 365.8M17.3 333.6L17.3 347M17.3 333.6L18.3 333.6M17.3 347L18.2 347M18.3 331.3L18.3 338.9M18.3 331.3L19.3 331.3M18.3 338.9L19.2 338.9M19.3 329.1L19.3 334.4M19.3 329.1L19.5 329.1M19.3 334.4L19.5 334.4M19.5 327.3L19.5 330.4M19.5 327.3L19.7 327.3M19.5 330.4L19.8 330.4M19.7 326.6L19.7 327.9M19.7 326.6L19.8 326.6M19.7 327.9L19.8 327.9M19.8 326.6L20.1 326.6M19.8 327.7L19.8 328.3M19.8 327.7L19.8 327.7M19.8 328.3L19.8 328.3M19.8 327.7L20.1 327.7M19.8 328.3L20.1 328.3M19.8 329.3L19.8 331.1M19.8 329.3L19.8 329.3M19.8 331.1L19.8 331.1M19.8 329L19.8 329.7M19.8 329L19.8 329M19.8 329.7L19.8 329.7M19.8 329L20.1 329M19.8 329.7L20.1 329.7M19.8 330.6L19.8 331.7M19.8 330.6L19.8 330.6M19.8 331.7L19.8 331.7M19.8 330.6L20.1 330.6M19.8 331.7L20.1 331.7M19.5 332.9L19.5 335.1M19.5 332.9L19.8 332.9M19.5 335.1L19.8 335.1M19.8 332.6L19.8 333.4M19.8 332.6L19.8 332.6M19.8 333.4L19.8 333.4M19.8 332.6L20.1 332.6M19.8 333.4L20.1 333.4M19.8 334.2L19.8 335.6M19.8 334.2L19.8 334.2M19.8 335.6L19.8 335.6M19.8 334.2L20.1 334.2M19.8 335L19.8 336M19.8 335L19.8 335M19.8 336L19.8 336M19.8 335L20.1 335M19.8 336L20.1 336M19.2 337.4L19.2 339.7M19.2 337.4L19.8 337.4M19.2 339.7L19.6 339.7M19.8 337.1L19.8 337.9M19.8 337.1L19.8 337.1M19.8 337.9L19.8 337.9M19.8 337.1L20.1 337.1M19.8 337.9L20.1 337.9M19.6 338.8L19.6 340.3M19.6 338.8L19.8 338.8M19.6 340.3L19.8 340.3M19.8 338.8L20.1 338.8M19.8 339.9L19.8 340.8M19.8 339.9L19.8 339.9M19.8 340.8L19.8 340.8M19.8 339.9L20.1 339.9M19.8 340.8L20.1 340.8M18.2 343.4L18.2 349.2M18.2 343.4L18.8 343.4M18.2 349.2L19.1 349.2M18.8 342.4L18.8 344.6M18.8 342.4L19.3 342.4M18.8 344.6L19.8 344.6M19.3 341.6L19.3 342.9M19.3 341.6L19.7 341.6M19.3 342.9L19.8 342.9M19.7 341.6L20.1 341.6M19.8 342.4L19.8 343.2M19.8 342.4L19.8 342.4M19.8 343.2L19.8 343.2M19.8 342.4L20.1 342.4M19.8 343.2L20.1 343.2M19.8 344L19.8 345M19.8 344L19.8 344M19.8 345L19.8 345M19.8 344L20.1 344M19.8 344.7L19.8 345.3M19.8 344.7L19.8 344.7M19.8 345.3L19.8 345.3M19.8 344.7L20.1 344.7M19.8 345.3L20.1 345.3M19.1 348.1L19.1 351.7M19.1 348.1L19.5 348.1M19.1 351.7L19.8 351.7M19.5 347.2L19.5 349.7M19.5 347.2L19.6 347.2M19.5 349.7L19.7 349.7M19.6 346.7L19.6 348.3M19.6 346.7L19.8 346.7M19.6 348.3L19.8 348.3M19.8 346L19.8 347.1M19.8 346L19.8 346M19.8 347.1L19.8 347.1M19.8 346L20.1 346M19.8 346.7L19.8 347.3M19.8 346.7L19.8 346.7M19.8 347.3L19.8 347.3M19.8 346.7L20.1 346.7M19.8 347.3L20.1 347.3M19.8 348.3L20.1 348.3M19.7 349.3L19.7 350.1M19.7 349.3L19.8 349.3M19.7 350.1L19.8 350.1M19.8 349.3L20.1 349.3M19.8 350.1L20.1 350.1M19.8 350.9L19.8 352M19.8 350.9L19.8 350.9M19.8 352L19.8 352M19.8 350.9L20.1 350.9M19.8 351.7L19.8 352.5M19.8 351.7L19.8 351.7M19.8 352.5L19.8 352.5M19.8 351.7L20.1 351.7M19.8 352.5L20.1 352.5M17.1 359.8L17.1 372.8M17.1 359.8L18 359.8M17.1 372.8L17.9 372.8M18 356.9L18 363.9M18 356.9L18.5 356.9M18 363.9L18.6 363.9M18.5 355L18.5 359.1M18.5 355L19.3 355M18.5 359.1L19.2 359.1M19.3 353.7L19.3 355.8M19.3 353.7L19.8 353.7M19.3 355.8L19.6 355.8M19.8 353.1L19.8 354M19.8 353.1L19.8 353.1M19.8 354L19.8 354M19.8 353.1L20.1 353.1M19.8 354L20.1 354M19.6 355L19.6 356.3M19.6 355L19.8 355M19.6 356.3L19.8 356.3M19.8 355L20.1 355M19.8 355.9L19.8 356.7M19.8 355.9L19.8 355.9M19.8 356.7L19.8 356.7M19.8 355.9L20.1 355.9M19.8 356.7L20.1 356.7M19.2 358.4L19.2 360.4M19.2 358.4L19.8 358.4M19.2 360.4L19.8 360.4M19.8 357.9L19.8 359.1M19.8 357.9L19.8 357.9M19.8 359.1L19.8 359.1M19.8 357.3L19.8 358.1M19.8 357.3L19.8 357.3M19.8 358.1L19.8 358.1M19.8 357.3L20.1 357.3M19.8 358.1L20.1 358.1M19.8 359.1L20.1 359.1M19.8 360.1L19.8 360.8M19.8 360.1L19.8 360.1M19.8 360.8L19.8 360.8M19.8 360.1L20.1 360.1M19.8 360.8L20.1 360.8M18.6 362.6L18.6 365.5M18.6 362.6L19.1 362.6M18.6 365.5L19.7 365.5M19.1 361.7L19.1 363.3M19.1 361.7L19.8 361.7M19.1 363.3L19.5 363.3M19.8 361.4L19.8 362.1M19.8 361.4L19.8 361.4M19.8 362.1L19.8 362.1M19.8 361.4L20.1 361.4M19.8 362.1L20.1 362.1M19.5 362.9L19.5 363.9M19.5 362.9L19.8 362.9M19.5 363.9L19.8 363.9M19.8 362.9L20.1 362.9M19.8 363.9L20.1 363.9M19.7 365.1L19.7 366.4M19.7 365.1L19.8 365.1M19.7 366.4L19.8 366.4M19.8 364.8L19.8 365.7M19.8 364.8L19.8 364.8M19.8 365.7L19.8 365.7M19.8 364.8L20.1 364.8M19.8 365.7L20.1 365.7M19.8 366.4L20.1 366.4M17.9 370.5L17.9 376.5M17.9 370.5L19 370.5M17.9 376.5L18.8 376.5M19 368.8L19 372.5M19 368.8L19.4 368.8M19 372.5L19.4 372.5M19.4 367.9L19.4 369.9M19.4 367.9L19.6 367.9M19.4 369.9L19.8 369.9M19.6 367.6L19.6 368.7M19.6 367.6L19.8 367.6M19.6 368.7L19.8 368.7M19.8 367.2L19.8 367.9M19.8 367.2L19.8 367.2M19.8 367.9L19.8 367.9M19.8 367.2L20.1 367.2M19.8 367.9L20.1 367.9M19.8 368.7L20.1 368.7M19.8 369.5L19.8 370.4M19.8 369.5L19.8 369.5M19.8 370.4L19.8 370.4M19.8 369.5L20.1 369.5M19.8 370.4L20.1 370.4M19.4 371.9L19.4 373.5M19.4 371.9L19.7 371.9M19.4 373.5L19.8 373.5M19.7 371.4L19.7 372.4M19.7 371.4L19.8 371.4M19.7 372.4L19.8 372.4M19.8 371.4L20.1 371.4M19.8 372.4L20.1 372.4M19.8 373.2L19.8 373.9M19.8 373.2L19.8 373.2M19.8 373.9L19.8 373.9M19.8 373.2L20.1 373.2M19.8 373.9L20.1 373.9M18.8 375.1L18.8 377.4M18.8 375.1L19.2 375.1M18.8 377.4L19.4 377.4M19.2 374.7L19.2 375.7M19.2 374.7L19.6 374.7M19.2 375.7L19.6 375.7M19.6 374.7L20.1 374.7M19.6 375.7L20.1 375.7M19.4 377L19.4 378.3M19.4 377L19.8 377M19.4 378.3L19.8 378.3M19.8 376.6L19.8 377.6M19.8 376.6L19.8 376.6M19.8 377.6L19.8 377.6M19.8 376.6L20.1 376.6M19.8 377.6L20.1 377.6M19.8 378.3L20.1 378.3M13 382.1L13 390.7M13 382.1L15.5 382.1M13 390.7L16.4 390.7M15.5 381L15.5 384.2M15.5 381L17.8 381M15.5 384.2L18 384.2M17.8 380L17.8 382.1M17.8 380L19 380M17.8 382.1L18.7 382.1M19 379.4L19 380.5M19 379.4L19.8 379.4M19 380.5L19.8 380.5M19.8 379.4L20.1 379.4M19.8 380.5L20.1 380.5M18.7 381.7L18.7 382.7M18.7 381.7L19.8 381.7M18.7 382.7L19.4 382.7M19.8 381.7L20.1 381.7M19.4 382.7L20.1 382.7M18 383.5L18 384.6M18 383.5L19.2 383.5M18 384.6L19 384.6M19.2 383.5L20.1 383.5M19 384.2L19 384.9M19 384.2L19.6 384.2M19 384.9L19.7 384.9M19.6 384.2L20.1 384.2M19.7 384.9L20.1 384.9M16.4 388L16.4 393.3M16.4 388L17.6 388M16.4 393.3L18.2 393.3M17.6 387.2L17.6 389.8M17.6 387.2L18.5 387.2M17.6 389.8L18.5 389.8M18.5 385.9L18.5 387.7M18.5 385.9L19.8 385.9M18.5 387.7L19 387.7M19.8 385.9L20.1 385.9M19 387.2L19 388.5M19 387.2L19.7 387.2M19 388.5L19.6 388.5M19.7 386.9L19.7 387.7M19.7 386.9L19.8 386.9M19.7 387.7L19.8 387.7M19.8 386.9L20.1 386.9M19.8 387.7L20.1 387.7M19.6 388.5L20.1 388.5M18.5 389.4L18.5 390.2M18.5 389.4L19 389.4M18.5 390.2L19.8 390.2M19 389.4L20.1 389.4M19.8 390.2L20.1 390.2M18.2 391.7L18.2 394.4M18.2 391.7L19 391.7M18.2 394.4L18.6 394.4M19 391.2L19 392.3M19 391.2L19.6 391.2M19 392.3L19.7 392.3M19.6 391.2L20.1 391.2M19.7 392.3L20.1 392.3M18.6 393.7L18.6 395.3M18.6 393.7L19.8 393.7M18.6 395.3L19.8 395.3M19.8 393.3L19.8 394.2M19.8 393.3L19.8 393.3M19.8 394.2L19.8 394.2M19.8 393.3L20.1 393.3M19.8 394.2L20.1 394.2M19.8 394.8L19.8 395.6M19.8 394.8L19.8 394.8M19.8 395.6L19.8 395.6M19.8 394.8L20.1 394.8M19.8 395.6L20.1 395.6M13 406L13 423M13 406L14.9 406M13 423L15.1 423M14.9 400.4L14.9 410.3M14.9 400.4L17.2 400.4M14.9 410.3L16.9 410.3M17.2 398.4L17.2 402.7M17.2 398.4L18.5 398.4M17.2 402.7L18.2 402.7M18.5 397.5L18.5 399.9M18.5 397.5L19.8 397.5M18.5 399.9L19.1 399.9M19.8 397L19.8 398.5M19.8 397L19.8 397M19.8 398.5L19.8 398.5M19.8 396.5L19.8 397.5M19.8 396.5L19.8 396.5M19.8 397.5L19.8 397.5M19.8 396.5L20.1 396.5M19.8 397.5L20.1 397.5M19.8 398.5L20.1 398.5M19.1 399.3L19.1 400.3M19.1 399.3L19.7 399.3M19.1 400.3L19.8 400.3M19.7 399.3L20.1 399.3M19.8 400.3L20.1 400.3M18.2 402L18.2 404M18.2 402L19.8 402M18.2 404L19.3 404M19.8 401.5L19.8 402.7M19.8 401.5L19.8 401.5M19.8 402.7L19.8 402.7M19.8 401.2L19.8 401.9M19.8 401.2L19.8 401.2M19.8 401.9L19.8 401.9M19.8 401.2L20.1 401.2M19.8 401.9L20.1 401.9M19.8 402.7L20.1 402.7M19.3 403.5L19.3 404.3M19.3 403.5L19.8 403.5M19.3 404.3L19.8 404.3M19.8 403.5L20.1 403.5M19.8 404.3L20.1 404.3M16.9 408.6L16.9 414.2M16.9 408.6L18.1 408.6M16.9 414.2L18.4 414.2M18.1 406.4L18.1 410.2M18.1 406.4L19.1 406.4M18.1 410.2L19.1 410.2M19.1 405.5L19.1 407.1M19.1 405.5L19.5 405.5M19.1 407.1L19.7 407.1M19.5 405.1L19.5 405.8M19.5 405.1L19.8 405.1M19.5 405.8L19.8 405.8M19.8 405.1L20.1 405.1M19.8 405.8L20.1 405.8M19.7 406.5L19.7 407.4M19.7 406.5L19.8 406.5M19.7 407.4L19.8 407.4M19.8 406.5L20.1 406.5M19.8 407.4L20.1 407.4M19.1 409.4L19.1 411.6M19.1 409.4L19.5 409.4M19.1 411.6L19.6 411.6M19.5 408.9L19.5 410.2M19.5 408.9L19.8 408.9M19.5 410.2L19.8 410.2M19.8 408.5L19.8 409.3M19.8 408.5L19.8 408.5M19.8 409.3L19.8 409.3M19.8 408.5L20.1 408.5M19.8 409.3L20.1 409.3M19.8 410.2L20.1 410.2M19.6 411.3L19.6 412.1M19.6 411.3L19.8 411.3M19.6 412.1L19.8 412.1M19.8 411.3L20.1 411.3M19.8 412.1L20.1 412.1M18.4 413.6L18.4 415.4M18.4 413.6L19 413.6M18.4 415.4L19.2 415.4M19 413.1L19 414.2M19 413.1L19.5 413.1M19 414.2L19.8 414.2M19.5 413.1L20.1 413.1M19.8 414.2L20.1 414.2M19.2 415.4L20.1 415.4M15.1 419.8L15.1 426.9M15.1 419.8L17 419.8M15.1 426.9L17.6 426.9M17 418L17 421.9M17 418L18 418M17 421.9L18 421.9M18 417.2L18 419.3M18 417.2L19.7 417.2M18 419.3L18.9 419.3M19.7 416.8L19.7 418.1M19.7 416.8L19.8 416.8M19.7 418.1L19.8 418.1M19.8 416.4L19.8 417.2M19.8 416.4L19.8 416.4M19.8 417.2L19.8 417.2M19.8 416.4L20.1 416.4M19.8 417.2L20.1 417.2M19.8 418.1L20.1 418.1M18.9 418.9L18.9 419.6M18.9 418.9L19.7 418.9M18.9 419.6L19.3 419.6M19.7 418.9L20.1 418.9M19.3 419.6L20.1 419.6M18 421.3L18 423.2M18 421.3L19.3 421.3M18 423.2L19.2 423.2M19.3 420.8L19.3 422.1M19.3 420.8L19.8 420.8M19.3 422.1L19.8 422.1M19.8 420.5L19.8 421.3M19.8 420.5L19.8 420.5M19.8 421.3L19.8 421.3M19.8 420.5L20.1 420.5M19.8 421.3L20.1 421.3M19.8 422.1L20.1 422.1M19.2 423.2L20.1 423.2M17.6 425.2L17.6 428.3M17.6 425.2L19.7 425.2M17.6 428.3L18.9 428.3M19.7 424.3L19.7 425.8M19.7 424.3L19.8 424.3M19.7 425.8L19.8 425.8M19.8 424.3L20.1 424.3M19.8 425.3L19.8 426.2M19.8 425.3L19.8 425.3M19.8 426.2L19.8 426.2M19.8 425.3L20.1 425.3M19.8 426.2L20.1 426.2M18.9 427.5L18.9 429.1M18.9 427.5L19.5 427.5M18.9 429.1L19.4 429.1M19.5 427.1L19.5 427.9M19.5 427.1L19.8 427.1M19.5 427.9L19.7 427.9M19.8 427.1L20.1 427.1M19.7 427.9L20.1 427.9M19.4 428.8L19.4 429.7M19.4 428.8L19.6 428.8M19.4 429.7L19.7 429.7M19.6 428.8L20.1 428.8M19.7 429.7L20.1 429.7M13 434.9L13 447.4M13 434.9L16.1 434.9M13 447.4L15.2 447.4M16.1 432.2L16.1 437M16.1 432.2L17.8 432.2M16.1 437L17.1 437M17.8 431.3L17.8 433.4M17.8 431.3L18.7 431.3M17.8 433.4L19.2 433.4M18.7 430.5L18.7 431.8M18.7 430.5L19.3 430.5M18.7 431.8L19.6 431.8M19.3 430.5L20.1 430.5M19.6 431.4L19.6 432.2M19.6 431.4L19.8 431.4M19.6 432.2L19.8 432.2M19.8 431.4L20.1 431.4M19.8 432.2L20.1 432.2M19.2 433L19.2 433.9M19.2 433L19.6 433M19.2 433.9L19.6 433.9M19.6 433L20.1 433M19.6 433.9L20.1 433.9M17.1 435.8L17.1 438.6M17.1 435.8L18.4 435.8M17.1 438.6L18.9 438.6M18.4 435.3L18.4 436.8M18.4 435.3L19.5 435.3M18.4 436.8L19.7 436.8M19.5 434.7L19.5 435.7M19.5 434.7L19.8 434.7M19.5 435.7L19.8 435.7M19.8 434.7L20.1 434.7M19.8 435.7L20.1 435.7M19.7 436.8L20.1 436.8M18.9 438.1L18.9 439.4M18.9 438.1L19.5 438.1M18.9 439.4L19.5 439.4M19.5 437.9L19.5 438.7M19.5 437.9L19.8 437.9M19.5 438.7L19.8 438.7M19.8 437.9L20.1 437.9M19.8 438.7L20.1 438.7M19.5 439.4L20.1 439.4M15.2 444.8L15.2 452.4M15.2 444.8L16.4 444.8M15.2 452.4L16.6 452.4M16.4 442.7L16.4 447.7M16.4 442.7L17.5 442.7M16.4 447.7L17.3 447.7M17.5 441.6L17.5 444.6M17.5 441.6L18.4 441.6M17.5 444.6L19.5 444.6M18.4 440.4L18.4 442.3M18.4 440.4L19.3 440.4M18.4 442.3L19.6 442.3M19.3 440L19.3 440.6M19.3 440L19.7 440M19.3 440.6L19.8 440.6M19.7 440L20.1 440M19.8 440.6L20.1 440.6M19.6 441.9L19.6 443.1M19.6 441.9L19.8 441.9M19.6 443.1L19.8 443.1M19.8 441.5L19.8 442.3M19.8 441.5L19.8 441.5M19.8 442.3L19.8 442.3M19.8 441.5L20.1 441.5M19.8 442.3L20.1 442.3M19.8 443.1L20.1 443.1M19.5 444.1L19.5 445.2M19.5 444.1L19.7 444.1M19.5 445.2L19.7 445.2M19.7 444.1L20.1 444.1M19.7 445.2L20.1 445.2M17.3 446.4L17.3 448.4M17.3 446.4L18.2 446.4M17.3 448.4L19.1 448.4M18.2 446L18.2 446.7M18.2 446L19.4 446M18.2 446.7L19 446.7M19.4 446L20.1 446M19 446.7L20.1 446.7M19.1 447.6L19.1 448.9M19.1 447.6L19.5 447.6M19.1 448.9L19.8 448.9M19.5 447.6L20.1 447.6M19.8 448.7L19.8 449.5M19.8 448.7L19.8 448.7M19.8 449.5L19.8 449.5M19.8 448.7L20.1 448.7M19.8 449.5L20.1 449.5M16.6 450.6L16.6 453.2M16.6 450.6L19.6 450.6M16.6 453.2L17.9 453.2M19.6 450.3L19.6 451.1M19.6 450.3L19.8 450.3M19.6 451.1L19.8 451.1M19.8 450.3L20.1 450.3M19.8 451.1L20.1 451.1M17.9 452.4L17.9 454.1M17.9 452.4L19.1 452.4M17.9 454.1L19.3 454.1M19.1 451.7L19.1 452.6M19.1 451.7L19.8 451.7M19.1 452.6L19.8 452.6M19.8 451.7L20.1 451.7M19.8 452.6L20.1 452.6M19.3 453.6L19.3 454.5M19.3 453.6L19.8 453.6M19.3 454.5L19.8 454.5M19.8 453.6L20.1 453.6M19.8 454.5L20.1 454.5M13 463.4L13 481.6M13 463.4L14.9 463.4M13 481.6L14.8 481.6M14.9 459.2L14.9 467.7M14.9 459.2L16 459.2M14.9 467.7L17.6 467.7M16 457.6L16 461.9M16 457.6L17.8 457.6M16 461.9L18 461.9M17.8 456.5L17.8 459.1M17.8 456.5L19.1 456.5M17.8 459.1L19.3 459.1M19.1 455.7L19.1 457.2M19.1 455.7L19.8 455.7M19.1 457.2L19.8 457.2M19.8 455.3L19.8 456M19.8 455.3L19.8 455.3M19.8 456L19.8 456M19.8 455.3L20.1 455.3M19.8 456L20.1 456M19.8 456.9L19.8 457.6M19.8 456.9L19.8 456.9M19.8 457.6L19.8 457.6M19.8 456.9L20.1 456.9M19.8 457.6L20.1 457.6M19.3 458.7L19.3 459.9M19.3 458.7L19.8 458.7M19.3 459.9L19.8 459.9M19.8 458.4L19.8 459.2M19.8 458.4L19.8 458.4M19.8 459.2L19.8 459.2M19.8 458.4L20.1 458.4M19.8 459.2L20.1 459.2M19.8 459.9L20.1 459.9M18 461.2L18 462.8M18 461.2L18.8 461.2M18 462.8L19.1 462.8M18.8 460.7L18.8 461.7M18.8 460.7L19.2 460.7M18.8 461.7L19.5 461.7M19.2 460.7L20.1 460.7M19.5 461.7L20.1 461.7M19.1 462.5L19.1 463.2M19.1 462.5L19.8 462.5M19.1 463.2L19.5 463.2M19.8 462.5L20.1 462.5M19.5 463.2L20.1 463.2M17.6 466.3L17.6 470.5M17.6 466.3L18.7 466.3M17.6 470.5L18.9 470.5M18.7 465.1L18.7 467.9M18.7 465.1L19.2 465.1M18.7 467.9L19.6 467.9M19.2 464.2L19.2 465.8M19.2 464.2L19.8 464.2M19.2 465.8L19.8 465.8M19.8 463.9L19.8 464.6M19.8 463.9L19.8 463.9M19.8 464.6L19.8 464.6M19.8 463.9L20.1 463.9M19.8 464.6L20.1 464.6M19.8 465.2L19.8 466.1M19.8 465.2L19.8 465.2M19.8 466.1L19.8 466.1M19.8 465.2L20.1 465.2M19.8 466.1L20.1 466.1M19.6 467.2L19.6 468.4M19.6 467.2L19.8 467.2M19.6 468.4L19.7 468.4M19.8 467.2L20.1 467.2M19.7 467.9L19.7 468.7M19.7 467.9L19.8 467.9M19.7 468.7L19.8 468.7M19.8 467.9L20.1 467.9M19.8 468.7L20.1 468.7M18.9 469.7L18.9 471M18.9 469.7L19.8 469.7M18.9 471L19.6 471M19.8 469.7L20.1 469.7M19.6 470.6L19.6 471.4M19.6 470.6L19.8 470.6M19.6 471.4L19.8 471.4M19.8 470.6L20.1 470.6M19.8 471.4L20.1 471.4M14.8 478.7L14.8 488.4M14.8 478.7L17.1 478.7M14.8 488.4L17.4 488.4M17.1 474.1L17.1 480.9M17.1 474.1L18.3 474.1M17.1 480.9L18.5 480.9M18.3 472.5L18.3 474.8M18.3 472.5L19.8 472.5M18.3 474.8L18.8 474.8M19.8 472.2L19.8 472.9M19.8 472.2L19.8 472.2M19.8 472.9L19.8 472.9M19.8 472.2L20.1 472.2M19.8 472.9L20.1 472.9M18.8 474.1L18.8 475.6M18.8 474.1L19.2 474.1M18.8 475.6L19.8 475.6M19.2 473.7L19.2 474.5M19.2 473.7L19.8 473.7M19.2 474.5L19.8 474.5M19.8 473.7L20.1 473.7M19.8 474.5L20.1 474.5M19.8 475.2L19.8 475.9M19.8 475.2L19.8 475.2M19.8 475.9L19.8 475.9M19.8 475.2L20.1 475.2M19.8 475.9L20.1 475.9M18.5 478.7L18.5 483.3M18.5 478.7L19 478.7M18.5 483.3L19.2 483.3M19 477.3L19 479.7M19 477.3L19.3 477.3M19 479.7L19.5 479.7M19.3 476.7L19.3 477.7M19.3 476.7L19.6 476.7M19.3 477.7L19.8 477.7M19.6 476.7L20.1 476.7M19.8 477.3L19.8 478M19.8 477.3L19.8 477.3M19.8 478L19.8 478M19.8 477.3L20.1 477.3M19.8 478L20.1 478M19.5 478.8L19.5 480.2M19.5 478.8L19.8 478.8M19.5 480.2L19.8 480.2M19.8 478.8L20.1 478.8M19.8 479.6L19.8 480.5M19.8 479.6L19.8 479.6M19.8 480.5L19.8 480.5M19.8 479.6L20.1 479.6M19.8 480.5L20.1 480.5M19.2 482.2L19.2 484.4M19.2 482.2L19.8 482.2M19.2 484.4L19.6 484.4M19.8 481.7L19.8 482.7M19.8 481.7L19.8 481.7M19.8 482.7L19.8 482.7M19.8 481.7L20.1 481.7M19.8 482.7L20.1 482.7M19.6 483.8L19.6 484.9M19.6 483.8L19.8 483.8M19.6 484.9L19.8 484.9M19.8 483.8L20.1 483.8M19.8 484.9L20.1 484.9M17.4 487.1L17.4 490M17.4 487.1L18 487.1M17.4 490L19.2 490M18 486.3L18 487.9M18 486.3L18.9 486.3M18 487.9L18.8 487.9M18.9 485.9L18.9 486.7M18.9 485.9L19.4 485.9M18.9 486.7L19.6 486.7M19.4 485.9L20.1 485.9M19.6 486.7L20.1 486.7M18.8 487.5L18.8 488.3M18.8 487.5L19.5 487.5M18.8 488.3L19.4 488.3M19.5 487.5L20.1 487.5M19.4 488.3L20.1 488.3M19.2 489.4L19.2 490.8M19.2 489.4L19.7 489.4M19.2 490.8L19.8 490.8M19.7 489.1L19.7 489.8M19.7 489.1L19.8 489.1M19.7 489.8L19.8 489.8M19.8 489.1L20.1 489.1M19.8 489.8L20.1 489.8M19.8 490.8L20.1 490.8"/>
<rect x="20.1" y="316" width="2.5" height="175.4" fill="#383838" />
<text x="113.1" y="317.8" font-size="3.81" text-anchor="start" font-weight="normal" fill="#333"  textLength="8.69" lengthAdjust="spacingAndGlyphs" stroke="#333" stroke-width="0.08">BEX5</text>
<line x1="105" y1="316.6" x2="112.1" y2="316.6" stroke="#bbbbbb" stroke-width="0.3" />
<text x="113.1" y="326.99" font-size="3.81" text-anchor="start" font-weight="normal" fill="#333"  textLength="8.88" lengthAdjust="spacingAndGlyphs" stroke="#333" stroke-width="0.08">PCP4</text>
<line x1="105" y1="325.79" x2="112.1" y2="325.79" stroke="#bbbbbb" stroke-width="0.3" />
<text x="113.1" y="336.18" font-size="3.81" text-anchor="start" font-weight="normal" fill="#333"  textLength="12.6" lengthAdjust="spacingAndGlyphs" stroke="#333" stroke-width="0.08">TAS1R2</text>
<line x1="105" y1="334.98" x2="112.1" y2="334.98" stroke="#bbbbbb" stroke-width="0.3" />
<text x="113.1" y="345.37" font-size="3.81" text-anchor="start" font-weight="normal" fill="#333"  textLength="17.95" lengthAdjust="spacingAndGlyphs" stroke="#333" stroke-width="0.08">ADAMTS18</text>
<line x1="105" y1="344.17" x2="112.1" y2="344.17" stroke="#bbbbbb" stroke-width="0.3" />
<text x="113.1" y="354.56" font-size="3.81" text-anchor="start" font-weight="normal" fill="#333"  textLength="16.06" lengthAdjust="spacingAndGlyphs" stroke="#333" stroke-width="0.08">SOSTDC1</text>
<line x1="105" y1="353.36" x2="112.1" y2="353.36" stroke="#bbbbbb" stroke-width="0.3" />
<text x="113.1" y="363.75" font-size="3.81" text-anchor="start" font-weight="normal" fill="#333"  textLength="13.61" lengthAdjust="spacingAndGlyphs" stroke="#333" stroke-width="0.08">RNASE2</text>
<line x1="105" y1="362.55" x2="112.1" y2="362.55" stroke="#bbbbbb" stroke-width="0.3" />
<text x="113.1" y="372.94" font-size="3.81" text-anchor="start" font-weight="normal" fill="#333"  textLength="9.95" lengthAdjust="spacingAndGlyphs" stroke="#333" stroke-width="0.08">CRYM</text>
<line x1="105" y1="371.74" x2="112.1" y2="371.74" stroke="#bbbbbb" stroke-width="0.3" />
<text x="113.1" y="382.13" font-size="3.81" text-anchor="start" font-weight="normal" fill="#333"  textLength="13.42" lengthAdjust="spacingAndGlyphs" stroke="#333" stroke-width="0.08">SPTSSB</text>
<line x1="105" y1="380.93" x2="112.1" y2="380.93" stroke="#bbbbbb" stroke-width="0.3" />
<text x="113.1" y="391.32" font-size="3.81" text-anchor="start" font-weight="normal" fill="#333"  textLength="10.01" lengthAdjust="spacingAndGlyphs" stroke="#333" stroke-width="0.08">FMOD</text>
<line x1="105" y1="390.12" x2="112.1" y2="390.12" stroke="#bbbbbb" stroke-width="0.3" />
<text x="113.1" y="400.51" font-size="3.81" text-anchor="start" font-weight="normal" fill="#333"  textLength="8.63" lengthAdjust="spacingAndGlyphs" stroke="#333" stroke-width="0.08">KRT4</text>
<line x1="105" y1="399.31" x2="112.1" y2="399.31" stroke="#bbbbbb" stroke-width="0.3" />
<text x="113.1" y="409.69" font-size="3.81" text-anchor="start" font-weight="normal" fill="#333"  textLength="24.01" lengthAdjust="spacingAndGlyphs" stroke="#333" stroke-width="0.08">LOC106603630</text>
<line x1="105" y1="408.49" x2="112.1" y2="408.49" stroke="#bbbbbb" stroke-width="0.3" />
<text x="113.1" y="418.88" font-size="3.81" text-anchor="start" font-weight="normal" fill="#333"  textLength="24.01" lengthAdjust="spacingAndGlyphs" stroke="#333" stroke-width="0.08">LOC102184290</text>
<line x1="105" y1="417.68" x2="112.1" y2="417.68" stroke="#bbbbbb" stroke-width="0.3" />
<text x="113.1" y="428.07" font-size="3.81" text-anchor="start" font-weight="normal" fill="#333"  textLength="14.74" lengthAdjust="spacingAndGlyphs" stroke="#333" stroke-width="0.08">TNFSF10</text>
<line x1="105" y1="426.87" x2="112.1" y2="426.87" stroke="#bbbbbb" stroke-width="0.3" />
<text x="113.1" y="437.26" font-size="3.81" text-anchor="start" font-weight="normal" fill="#333"  textLength="24.01" lengthAdjust="spacingAndGlyphs" stroke="#333" stroke-width="0.08">LOC102173632</text>
<line x1="105" y1="436.06" x2="112.1" y2="436.06" stroke="#bbbbbb" stroke-width="0.3" />
<text x="113.1" y="446.45" font-size="3.81" text-anchor="start" font-weight="normal" fill="#333"  textLength="10.9" lengthAdjust="spacingAndGlyphs" stroke="#333" stroke-width="0.08">SLPI11</text>
<line x1="105" y1="445.25" x2="112.1" y2="445.25" stroke="#bbbbbb" stroke-width="0.3" />
<text x="113.1" y="455.64" font-size="3.81" text-anchor="start" font-weight="normal" fill="#333"  textLength="24.01" lengthAdjust="spacingAndGlyphs" stroke="#333" stroke-width="0.08">LOC102174084</text>
<line x1="105" y1="454.44" x2="112.1" y2="454.44" stroke="#bbbbbb" stroke-width="0.3" />
<text x="113.1" y="464.83" font-size="3.81" text-anchor="start" font-weight="normal" fill="#333"  textLength="24.01" lengthAdjust="spacingAndGlyphs" stroke="#333" stroke-width="0.08">LOC102175165</text>
<line x1="105" y1="463.63" x2="112.1" y2="463.63" stroke="#bbbbbb" stroke-width="0.3" />
<text x="113.1" y="474.02" font-size="3.81" text-anchor="start" font-weight="normal" fill="#333"  textLength="24.01" lengthAdjust="spacingAndGlyphs" stroke="#333" stroke-width="0.08">LOC106608507</text>
<line x1="105" y1="472.82" x2="112.1" y2="472.82" stroke="#bbbbbb" stroke-width="0.3" />
<text x="113.1" y="483.21" font-size="3.81" text-anchor="start" font-weight="normal" fill="#333"  textLength="24.01" lengthAdjust="spacingAndGlyphs" stroke="#333" stroke-width="0.08">LOC102183850</text>
<line x1="105" y1="482.01" x2="112.1" y2="482.01" stroke="#bbbbbb" stroke-width="0.3" />
<text x="113.1" y="492.4" font-size="3.81" text-anchor="start" font-weight="normal" fill="#333"  textLength="11.15" lengthAdjust="spacingAndGlyphs" stroke="#333" stroke-width="0.08">FOXE1</text>
<line x1="105" y1="491.2" x2="112.1" y2="491.2" stroke="#bbbbbb" stroke-width="0.3" />
<text x="0" y="0" font-size="3.9" fill="#333" stroke="#333" stroke-width="0.08" transform="translate(28.03,494.0) rotate(90)">WT1</text>
<text x="0" y="0" font-size="3.9" fill="#333" stroke="#333" stroke-width="0.08" transform="translate(41.68,494.0) rotate(90)">WT2</text>
<text x="0" y="0" font-size="3.9" fill="#333" stroke="#333" stroke-width="0.08" transform="translate(55.33,494.0) rotate(90)">WT3</text>
<text x="0" y="0" font-size="3.9" fill="#333" stroke="#333" stroke-width="0.08" transform="translate(68.97,494.0) rotate(90)">VDAC2_OE</text>
<text x="0" y="0" font-size="3.9" fill="#333" stroke="#333" stroke-width="0.08" transform="translate(82.62,494.0) rotate(90)">VDAC2_OE</text>
<text x="0" y="0" font-size="3.9" fill="#333" stroke="#333" stroke-width="0.08" transform="translate(96.28,494.0) rotate(90)">VDAC2_OE</text>
<defs><linearGradient id="cb142" x1="0" y1="0" x2="0" y2="1">
<stop offset="0" stop-color="#de5638"/>
<stop offset="0.1" stop-color="#ea7f53"/>
<stop offset="0.2" stop-color="#f3a676"/>
<stop offset="0.3" stop-color="#f9c79e"/>
<stop offset="0.4" stop-color="#fce2c6"/>
<stop offset="0.5" stop-color="#f7f7f5"/>
<stop offset="0.6" stop-color="#c9dbee"/>
<stop offset="0.7" stop-color="#96b6dd"/>
<stop offset="0.8" stop-color="#719acf"/>
<stop offset="0.9" stop-color="#5a87c6"/>
<stop offset="1" stop-color="#4274bc"/>
</linearGradient></defs>
<rect x="142.3" y="310.3" width="3.2" height="62.4" fill="url(#cb142)"/>
<text x="148" y="327" font-size="3.58" text-anchor="start" font-weight="normal" fill="#333"  textLength="1.78" lengthAdjust="spacingAndGlyphs" stroke="#333" stroke-width="0.08">1</text>
<text x="148" y="342.6" font-size="3.58" text-anchor="start" font-weight="normal" fill="#333"  textLength="1.78" lengthAdjust="spacingAndGlyphs" stroke="#333" stroke-width="0.08">0</text>
<text x="147.4" y="359" font-size="3.58" text-anchor="start" font-weight="normal" fill="#333"  textLength="2.85" lengthAdjust="spacingAndGlyphs" stroke="#333" stroke-width="0.08">-1</text>
<text x="152" y="313.6" font-size="3.81" text-anchor="start" font-weight="bold" fill="#222"  textLength="2.08" lengthAdjust="spacingAndGlyphs" stroke="#222" stroke-width="0.08">g</text>
<rect x="152" y="315.3" width="3" height="4.4" fill="#86c8f0" />
<rect x="152" y="321" width="3" height="5.2" fill="#f09a50" />
<text x="214.4" y="285.0" font-size="5.1" font-weight="bold" fill="#222" text-anchor="middle" textLength="98.2" lengthAdjust="spacingAndGlyphs">VDAC2_Si-vs-WT: q-value&lt;0.05 &amp;&amp; |log<tspan font-size="3.5" dy="1">2</tspan><tspan dy="-1"> FC|&gt;1</tspan></text>
<line x1="194.1" y1="305" x2="207.77" y2="305" stroke="#444" stroke-width="0.45" />
<line x1="194.1" y1="305" x2="194.1" y2="310.4" stroke="#444" stroke-width="0.45" />
<line x1="207.77" y1="305" x2="207.77" y2="310.4" stroke="#444" stroke-width="0.45" />
<line x1="180.43" y1="302.7" x2="200.93" y2="302.7" stroke="#444" stroke-width="0.45" />
<line x1="180.43" y1="302.7" x2="180.43" y2="310.4" stroke="#444" stroke-width="0.45" />
<line x1="200.93" y1="302.7" x2="200.93" y2="305" stroke="#444" stroke-width="0.45" />
<line x1="235.1" y1="303.8" x2="248.77" y2="303.8" stroke="#444" stroke-width="0.45" />
<line x1="235.1" y1="303.8" x2="235.1" y2="310.4" stroke="#444" stroke-width="0.45" />
<line x1="248.77" y1="303.8" x2="248.77" y2="310.4" stroke="#444" stroke-width="0.45" />
<line x1="221.43" y1="298.4" x2="241.93" y2="298.4" stroke="#444" stroke-width="0.45" />
<line x1="221.43" y1="298.4" x2="221.43" y2="310.4" stroke="#444" stroke-width="0.45" />
<line x1="241.93" y1="298.4" x2="241.93" y2="303.8" stroke="#444" stroke-width="0.45" />
<line x1="190.68" y1="288.5" x2="231.68" y2="288.5" stroke="#444" stroke-width="0.45" />
<line x1="190.68" y1="288.5" x2="190.68" y2="302.7" stroke="#444" stroke-width="0.45" />
<line x1="231.68" y1="288.5" x2="231.68" y2="298.4" stroke="#444" stroke-width="0.45" />
<rect x="173.6" y="310.4" width="41" height="4.4" fill="#86c8f0" />
<rect x="214.6" y="310.4" width="41" height="4.4" fill="#f09a50" />
<text x="256.8" y="313.6" font-size="3.81" text-anchor="start" font-weight="bold" fill="#222"  textLength="9.63" lengthAdjust="spacingAndGlyphs" stroke="#222" stroke-width="0.08">group</text>
<path fill="#fad6b4" d="M173.6 316h13.9v1.58h-13.9zM200.9 318.67h13.9v1.58h-13.9zM187.3 333.33h13.9v1.58h-13.9zM200.9 336h13.9v1.58h-13.9zM187.3 341.38h13.9v1.62h-13.9zM187.3 342.75h13.9v1.62h-13.9zM187.3 357.88h13.9v1.62h-13.9zM214.6 368.82h13.9v1.61h-13.9zM241.9 422h13.9v1.61h-13.9zM241.9 439.64h13.9v1.61h-13.9zM228.3 442.36h13.9v1.61h-13.9zM228.3 445.07h13.9v1.61h-13.9zM228.3 447.79h13.9v1.61h-13.9zM228.3 451.86h13.9v1.61h-13.9zM228.3 470.67h13.9v1.58h-13.9zM228.3 474.67h13.9v1.58h-13.9zM228.3 477.33h13.9v1.58h-13.9zM241.9 486.67h13.9v1.58h-13.9z"/>
<path fill="#fce1c4" d="M187.3 316h13.9v1.58h-13.9zM200.9 338.67h13.9v1.58h-13.9zM173.6 342.75h13.9v1.62h-13.9zM187.3 356.5h13.9v1.62h-13.9zM214.6 405.68h13.9v1.61h-13.9zM241.9 413.86h13.9v1.61h-13.9zM228.3 415.21h13.9v1.61h-13.9zM228.3 439.64h13.9v1.61h-13.9zM241.9 447.79h13.9v1.61h-13.9zM241.9 450.5h13.9v1.61h-13.9zM241.9 453.21h13.9v1.61h-13.9zM241.9 468h13.9v1.58h-13.9zM228.3 478.67h13.9v1.58h-13.9z"/>
<path fill="#f8c092" d="M200.9 316h13.9v1.58h-13.9zM173.6 321.33h13.9v1.58h-13.9zM187.3 325.33h13.9v1.58h-13.9zM187.3 332h13.9v1.58h-13.9zM200.9 334.67h13.9v1.58h-13.9zM173.6 338.67h13.9v1.58h-13.9zM200.9 352.38h13.9v1.62h-13.9zM187.3 355.12h13.9v1.62h-13.9zM228.3 362h13.9v1.61h-13.9zM228.3 370.19h13.9v1.61h-13.9zM228.3 385.2h13.9v1.61h-13.9zM228.3 393.39h13.9v1.61h-13.9zM228.3 424.71h13.9v1.61h-13.9zM228.3 431.5h13.9v1.61h-13.9zM228.3 432.86h13.9v1.61h-13.9zM241.9 435.57h13.9v1.61h-13.9zM228.3 443.71h13.9v1.61h-13.9zM214.6 455.93h13.9v1.61h-13.9zM228.3 460h13.9v1.58h-13.9zM241.9 461.33h13.9v1.58h-13.9zM228.3 469.33h13.9v1.58h-13.9zM228.3 476h13.9v1.58h-13.9zM214.6 478.67h13.9v1.58h-13.9zM228.3 481.33h13.9v1.58h-13.9zM228.3 485.33h13.9v1.58h-13.9z"/>
<path fill="#4778be" d="M214.6 316h13.9v1.58h-13.9zM228.3 316h13.9v1.58h-13.9zM241.9 333.33h13.9v1.58h-13.9zM214.6 351h13.9v1.62h-13.9zM241.9 355.12h13.9v1.62h-13.9zM187.3 364.73h13.9v1.61h-13.9zM173.6 368.82h13.9v1.61h-13.9zM173.6 392.03h13.9v1.61h-13.9zM173.6 396.12h13.9v1.61h-13.9zM187.3 397.49h13.9v1.61h-13.9zM173.6 413.86h13.9v1.61h-13.9zM187.3 478.67h13.9v1.58h-13.9z"/>
<path fill="#4274bc" d="M241.9 316h13.9v1.58h-13.9zM214.6 318.67h13.9v1.58h-13.9zM241.9 337.33h13.9v1.58h-13.9zM214.6 340h13.9v1.62h-13.9zM214.6 356.5h13.9v1.62h-13.9zM187.3 370.19h13.9v1.61h-13.9zM200.9 377.01h13.9v1.61h-13.9zM187.3 394.76h13.9v1.61h-13.9zM187.3 396.12h13.9v1.61h-13.9zM187.3 398.85h13.9v1.61h-13.9zM173.6 404.31h13.9v1.61h-13.9zM173.6 411.14h13.9v1.61h-13.9zM187.3 426.07h13.9v1.61h-13.9zM173.6 428.79h13.9v1.61h-13.9zM173.6 434.21h13.9v1.61h-13.9zM173.6 443.71h13.9v1.61h-13.9zM173.6 450.5h13.9v1.61h-13.9zM173.6 457.29h13.9v1.61h-13.9zM173.6 464h13.9v1.58h-13.9z"/>
<path fill="#ea8054" d="M173.6 317.33h13.9v1.58h-13.9zM200.9 355.12h13.9v1.62h-13.9zM241.9 368.82h13.9v1.61h-13.9zM241.9 374.28h13.9v1.61h-13.9zM241.9 389.3h13.9v1.61h-13.9zM241.9 394.76h13.9v1.61h-13.9zM241.9 402.95h13.9v1.61h-13.9zM228.3 405.68h13.9v1.61h-13.9zM214.6 416.57h13.9v1.61h-13.9zM214.6 434.21h13.9v1.61h-13.9zM214.6 439.64h13.9v1.61h-13.9zM214.6 447.79h13.9v1.61h-13.9zM214.6 453.21h13.9v1.61h-13.9zM214.6 465.33h13.9v1.58h-13.9zM228.3 465.33h13.9v1.58h-13.9zM214.6 469.33h13.9v1.58h-13.9z"/>
<path fill="#f8c59b" d="M187.3 317.33h13.9v1.58h-13.9zM187.3 320h13.9v1.58h-13.9zM187.3 321.33h13.9v1.58h-13.9zM200.9 322.67h13.9v1.58h-13.9zM173.6 324h13.9v1.58h-13.9zM173.6 326.67h13.9v1.58h-13.9zM187.3 330.67h13.9v1.58h-13.9zM200.9 337.33h13.9v1.58h-13.9zM187.3 344.12h13.9v1.62h-13.9zM173.6 352.38h13.9v1.62h-13.9zM187.3 353.75h13.9v1.62h-13.9zM228.3 364.73h13.9v1.61h-13.9zM241.9 366.09h13.9v1.61h-13.9zM241.9 371.55h13.9v1.61h-13.9zM228.3 379.74h13.9v1.61h-13.9zM214.6 417.93h13.9v1.61h-13.9zM228.3 446.43h13.9v1.61h-13.9zM214.6 464h13.9v1.58h-13.9zM241.9 465.33h13.9v1.58h-13.9zM214.6 466.67h13.9v1.58h-13.9zM241.9 469.33h13.9v1.58h-13.9zM228.3 480h13.9v1.58h-13.9zM241.9 480h13.9v1.58h-13.9zM214.6 485.33h13.9v1.58h-13.9zM241.9 485.33h13.9v1.58h-13.9zM228.3 486.67h13.9v1.58h-13.9z"/>
<path fill="#f7ba8a" d="M200.9 317.33h13.9v1.58h-13.9zM173.6 320h13.9v1.58h-13.9zM200.9 321.33h13.9v1.58h-13.9zM200.9 329.33h13.9v1.58h-13.9zM173.6 332h13.9v1.58h-13.9zM200.9 332h13.9v1.58h-13.9zM187.3 337.33h13.9v1.58h-13.9zM173.6 340h13.9v1.62h-13.9zM173.6 349.62h13.9v1.62h-13.9zM173.6 360.62h13.9v1.62h-13.9zM228.3 363.36h13.9v1.61h-13.9zM228.3 377.01h13.9v1.61h-13.9zM228.3 392.03h13.9v1.61h-13.9zM241.9 393.39h13.9v1.61h-13.9zM228.3 397.49h13.9v1.61h-13.9zM214.6 400.22h13.9v1.61h-13.9zM241.9 400.22h13.9v1.61h-13.9zM228.3 407.04h13.9v1.61h-13.9zM228.3 408.41h13.9v1.61h-13.9zM214.6 415.21h13.9v1.61h-13.9zM228.3 420.64h13.9v1.61h-13.9zM228.3 435.57h13.9v1.61h-13.9zM228.3 436.93h13.9v1.61h-13.9zM228.3 438.29h13.9v1.61h-13.9zM214.6 460h13.9v1.58h-13.9zM228.3 472h13.9v1.58h-13.9zM228.3 482.67h13.9v1.58h-13.9z"/>
<path fill="#6994cc" d="M214.6 317.33h13.9v1.58h-13.9zM241.9 329.33h13.9v1.58h-13.9zM228.3 330.67h13.9v1.58h-13.9zM228.3 332h13.9v1.58h-13.9zM214.6 342.75h13.9v1.62h-13.9zM228.3 342.75h13.9v1.62h-13.9zM228.3 348.25h13.9v1.62h-13.9zM241.9 359.25h13.9v1.62h-13.9zM173.6 363.36h13.9v1.61h-13.9zM200.9 366.09h13.9v1.61h-13.9zM173.6 371.55h13.9v1.61h-13.9zM200.9 374.28h13.9v1.61h-13.9zM187.3 379.74h13.9v1.61h-13.9zM200.9 382.47h13.9v1.61h-13.9zM187.3 389.3h13.9v1.61h-13.9zM187.3 393.39h13.9v1.61h-13.9zM187.3 415.21h13.9v1.61h-13.9zM173.6 416.57h13.9v1.61h-13.9zM200.9 426.07h13.9v1.61h-13.9zM200.9 434.21h13.9v1.61h-13.9zM187.3 443.71h13.9v1.61h-13.9zM187.3 446.43h13.9v1.61h-13.9zM187.3 460h13.9v1.58h-13.9zM187.3 472h13.9v1.58h-13.9zM187.3 477.33h13.9v1.58h-13.9zM173.6 482.67h13.9v1.58h-13.9zM173.6 485.33h13.9v1.58h-13.9z"/>
<path fill="#5b88c6" d="M228.3 317.33h13.9v1.58h-13.9zM228.3 318.67h13.9v1.58h-13.9zM214.6 324h13.9v1.58h-13.9zM228.3 329.33h13.9v1.58h-13.9zM214.6 333.33h13.9v1.58h-13.9zM214.6 334.67h13.9v1.58h-13.9zM228.3 334.67h13.9v1.58h-13.9zM214.6 341.38h13.9v1.62h-13.9zM228.3 351h13.9v1.62h-13.9zM214.6 352.38h13.9v1.62h-13.9zM228.3 359.25h13.9v1.62h-13.9zM214.6 360.62h13.9v1.62h-13.9zM200.9 367.46h13.9v1.61h-13.9zM173.6 370.19h13.9v1.61h-13.9zM200.9 375.65h13.9v1.61h-13.9zM187.3 377.01h13.9v1.61h-13.9zM173.6 378.38h13.9v1.61h-13.9zM173.6 379.74h13.9v1.61h-13.9zM200.9 381.11h13.9v1.61h-13.9zM173.6 383.84h13.9v1.61h-13.9zM173.6 390.66h13.9v1.61h-13.9zM187.3 390.66h13.9v1.61h-13.9zM187.3 392.03h13.9v1.61h-13.9zM173.6 398.85h13.9v1.61h-13.9zM200.9 400.22h13.9v1.61h-13.9zM173.6 412.5h13.9v1.61h-13.9zM173.6 417.93h13.9v1.61h-13.9zM173.6 423.36h13.9v1.61h-13.9zM187.3 427.43h13.9v1.61h-13.9zM173.6 432.86h13.9v1.61h-13.9zM187.3 434.21h13.9v1.61h-13.9zM173.6 439.64h13.9v1.61h-13.9zM173.6 441h13.9v1.61h-13.9zM187.3 455.93h13.9v1.61h-13.9zM173.6 470.67h13.9v1.58h-13.9zM173.6 478.67h13.9v1.58h-13.9zM173.6 484h13.9v1.58h-13.9z"/>
<path fill="#5684c4" d="M241.9 317.33h13.9v1.58h-13.9zM241.9 318.67h13.9v1.58h-13.9zM214.6 320h13.9v1.58h-13.9zM214.6 325.33h13.9v1.58h-13.9zM214.6 332h13.9v1.58h-13.9zM228.3 338.67h13.9v1.58h-13.9zM241.9 340h13.9v1.62h-13.9zM214.6 344.12h13.9v1.62h-13.9zM228.3 344.12h13.9v1.62h-13.9zM228.3 345.5h13.9v1.62h-13.9zM228.3 353.75h13.9v1.62h-13.9zM241.9 356.5h13.9v1.62h-13.9zM173.6 362h13.9v1.61h-13.9zM187.3 366.09h13.9v1.61h-13.9zM173.6 367.46h13.9v1.61h-13.9zM187.3 367.46h13.9v1.61h-13.9zM187.3 371.55h13.9v1.61h-13.9zM173.6 385.2h13.9v1.61h-13.9zM187.3 385.2h13.9v1.61h-13.9zM200.9 390.66h13.9v1.61h-13.9zM200.9 404.31h13.9v1.61h-13.9zM187.3 407.04h13.9v1.61h-13.9zM173.6 409.77h13.9v1.61h-13.9zM187.3 428.79h13.9v1.61h-13.9zM173.6 442.36h13.9v1.61h-13.9zM173.6 451.86h13.9v1.61h-13.9zM187.3 453.21h13.9v1.61h-13.9zM173.6 465.33h13.9v1.58h-13.9zM187.3 470.67h13.9v1.58h-13.9zM173.6 473.33h13.9v1.58h-13.9zM187.3 473.33h13.9v1.58h-13.9zM173.6 476h13.9v1.58h-13.9z"/>
<path fill="#fad0ab" d="M173.6 318.67h13.9v1.58h-13.9zM187.3 340h13.9v1.62h-13.9zM187.3 345.5h13.9v1.62h-13.9zM187.3 351h13.9v1.62h-13.9zM173.6 353.75h13.9v1.62h-13.9zM187.3 359.25h13.9v1.62h-13.9zM214.6 363.36h13.9v1.61h-13.9zM214.6 374.28h13.9v1.61h-13.9zM228.3 386.57h13.9v1.61h-13.9zM241.9 404.31h13.9v1.61h-13.9zM228.3 419.29h13.9v1.61h-13.9zM241.9 442.36h13.9v1.61h-13.9zM241.9 445.07h13.9v1.61h-13.9zM228.3 453.21h13.9v1.61h-13.9zM241.9 457.29h13.9v1.61h-13.9zM241.9 460h13.9v1.58h-13.9zM241.9 462.67h13.9v1.58h-13.9zM241.9 466.67h13.9v1.58h-13.9zM241.9 470.67h13.9v1.58h-13.9zM241.9 474.67h13.9v1.58h-13.9zM241.9 477.33h13.9v1.58h-13.9zM241.9 478.67h13.9v1.58h-13.9zM214.6 484h13.9v1.58h-13.9z"/>
<path fill="#f9eee1" d="M187.3 318.67h13.9v1.58h-13.9zM173.6 329.33h13.9v1.58h-13.9zM187.3 336h13.9v1.58h-13.9zM214.6 366.09h13.9v1.61h-13.9zM214.6 378.38h13.9v1.61h-13.9zM214.6 383.84h13.9v1.61h-13.9zM214.6 398.85h13.9v1.61h-13.9zM241.9 412.5h13.9v1.61h-13.9zM228.3 454.57h13.9v1.61h-13.9zM241.9 454.57h13.9v1.61h-13.9zM200.9 485.33h13.9v1.58h-13.9z"/>
<path fill="#faead8" d="M200.9 320h13.9v1.58h-13.9zM173.6 328h13.9v1.58h-13.9zM187.3 329.33h13.9v1.58h-13.9zM187.3 338.67h13.9v1.58h-13.9zM187.3 349.62h13.9v1.62h-13.9zM214.6 372.92h13.9v1.61h-13.9zM214.6 409.77h13.9v1.61h-13.9zM241.9 423.36h13.9v1.61h-13.9zM228.3 455.93h13.9v1.61h-13.9z"/>
<path fill="#6490ca" d="M228.3 320h13.9v1.58h-13.9zM214.6 321.33h13.9v1.58h-13.9zM241.9 322.67h13.9v1.58h-13.9zM228.3 324h13.9v1.58h-13.9zM228.3 325.33h13.9v1.58h-13.9zM228.3 333.33h13.9v1.58h-13.9zM214.6 337.33h13.9v1.58h-13.9zM228.3 337.33h13.9v1.58h-13.9zM214.6 338.67h13.9v1.58h-13.9zM228.3 341.38h13.9v1.62h-13.9zM241.9 342.75h13.9v1.62h-13.9zM214.6 346.88h13.9v1.62h-13.9zM228.3 346.88h13.9v1.62h-13.9zM214.6 348.25h13.9v1.62h-13.9zM214.6 353.75h13.9v1.62h-13.9zM214.6 359.25h13.9v1.62h-13.9zM187.3 363.36h13.9v1.61h-13.9zM173.6 377.01h13.9v1.61h-13.9zM200.9 378.38h13.9v1.61h-13.9zM173.6 382.47h13.9v1.61h-13.9zM187.3 382.47h13.9v1.61h-13.9zM200.9 383.84h13.9v1.61h-13.9zM200.9 386.57h13.9v1.61h-13.9zM200.9 398.85h13.9v1.61h-13.9zM187.3 400.22h13.9v1.61h-13.9zM187.3 401.58h13.9v1.61h-13.9zM200.9 405.68h13.9v1.61h-13.9zM187.3 409.77h13.9v1.61h-13.9zM187.3 430.14h13.9v1.61h-13.9zM187.3 435.57h13.9v1.61h-13.9zM187.3 442.36h13.9v1.61h-13.9zM200.9 443.71h13.9v1.61h-13.9zM173.6 445.07h13.9v1.61h-13.9zM187.3 458.64h13.9v1.61h-13.9zM187.3 461.33h13.9v1.58h-13.9zM200.9 468h13.9v1.58h-13.9zM173.6 472h13.9v1.58h-13.9zM187.3 481.33h13.9v1.58h-13.9zM200.9 482.67h13.9v1.58h-13.9z"/>
<path fill="#6e98ce" d="M241.9 320h13.9v1.58h-13.9zM241.9 334.67h13.9v1.58h-13.9zM241.9 336h13.9v1.58h-13.9zM228.3 356.5h13.9v1.62h-13.9zM228.3 357.88h13.9v1.62h-13.9zM241.9 360.62h13.9v1.62h-13.9zM187.3 362h13.9v1.61h-13.9zM173.6 366.09h13.9v1.61h-13.9zM200.9 368.82h13.9v1.61h-13.9zM173.6 372.92h13.9v1.61h-13.9zM200.9 372.92h13.9v1.61h-13.9zM200.9 385.2h13.9v1.61h-13.9zM187.3 387.93h13.9v1.61h-13.9zM173.6 393.39h13.9v1.61h-13.9zM173.6 394.76h13.9v1.61h-13.9zM200.9 397.49h13.9v1.61h-13.9zM200.9 407.04h13.9v1.61h-13.9zM200.9 411.14h13.9v1.61h-13.9zM200.9 417.93h13.9v1.61h-13.9zM173.6 419.29h13.9v1.61h-13.9zM187.3 420.64h13.9v1.61h-13.9zM200.9 424.71h13.9v1.61h-13.9zM200.9 430.14h13.9v1.61h-13.9zM200.9 435.57h13.9v1.61h-13.9zM173.6 436.93h13.9v1.61h-13.9zM173.6 438.29h13.9v1.61h-13.9zM187.3 439.64h13.9v1.61h-13.9zM200.9 442.36h13.9v1.61h-13.9zM173.6 446.43h13.9v1.61h-13.9zM187.3 451.86h13.9v1.61h-13.9zM173.6 453.21h13.9v1.61h-13.9zM200.9 464h13.9v1.58h-13.9zM187.3 465.33h13.9v1.58h-13.9zM187.3 466.67h13.9v1.58h-13.9zM200.9 472h13.9v1.58h-13.9zM187.3 476h13.9v1.58h-13.9z"/>
<path fill="#88acd8" d="M228.3 321.33h13.9v1.58h-13.9zM241.9 321.33h13.9v1.58h-13.9zM241.9 348.25h13.9v1.62h-13.9zM187.3 374.28h13.9v1.61h-13.9zM173.6 375.65h13.9v1.61h-13.9zM187.3 383.84h13.9v1.61h-13.9zM173.6 401.58h13.9v1.61h-13.9zM187.3 419.29h13.9v1.61h-13.9zM187.3 424.71h13.9v1.61h-13.9zM200.9 428.79h13.9v1.61h-13.9zM187.3 438.29h13.9v1.61h-13.9zM187.3 445.07h13.9v1.61h-13.9zM200.9 446.43h13.9v1.61h-13.9zM200.9 451.86h13.9v1.61h-13.9zM187.3 469.33h13.9v1.58h-13.9z"/>
<path fill="#f4aa7a" d="M173.6 322.67h13.9v1.58h-13.9zM200.9 328h13.9v1.58h-13.9zM173.6 351h13.9v1.62h-13.9zM200.9 359.25h13.9v1.62h-13.9zM228.3 375.65h13.9v1.61h-13.9zM241.9 375.65h13.9v1.61h-13.9zM228.3 382.47h13.9v1.61h-13.9zM228.3 394.76h13.9v1.61h-13.9zM241.9 398.85h13.9v1.61h-13.9zM228.3 404.31h13.9v1.61h-13.9zM228.3 413.86h13.9v1.61h-13.9zM228.3 417.93h13.9v1.61h-13.9zM228.3 461.33h13.9v1.58h-13.9zM228.3 468h13.9v1.58h-13.9zM214.6 472h13.9v1.58h-13.9zM214.6 481.33h13.9v1.58h-13.9zM241.9 482.67h13.9v1.58h-13.9zM228.3 484h13.9v1.58h-13.9zM214.6 486.67h13.9v1.58h-13.9z"/>
<path fill="#f9cba3" d="M187.3 322.67h13.9v1.58h-13.9zM173.6 336h13.9v1.58h-13.9zM173.6 341.38h13.9v1.62h-13.9zM187.3 348.25h13.9v1.62h-13.9zM228.3 381.11h13.9v1.61h-13.9zM214.6 386.57h13.9v1.61h-13.9zM228.3 416.57h13.9v1.61h-13.9zM228.3 422h13.9v1.61h-13.9zM228.3 426.07h13.9v1.61h-13.9zM228.3 450.5h13.9v1.61h-13.9zM228.3 458.64h13.9v1.61h-13.9zM228.3 464h13.9v1.58h-13.9zM214.6 470.67h13.9v1.58h-13.9zM228.3 473.33h13.9v1.58h-13.9zM241.9 473.33h13.9v1.58h-13.9z"/>
<path fill="#4c7cc0" d="M214.6 322.67h13.9v1.58h-13.9zM214.6 326.67h13.9v1.58h-13.9zM214.6 336h13.9v1.58h-13.9zM228.3 336h13.9v1.58h-13.9zM241.9 346.88h13.9v1.62h-13.9zM228.3 352.38h13.9v1.62h-13.9zM214.6 355.12h13.9v1.62h-13.9zM200.9 363.36h13.9v1.61h-13.9zM187.3 381.11h13.9v1.61h-13.9zM187.3 386.57h13.9v1.61h-13.9zM173.6 389.3h13.9v1.61h-13.9zM200.9 393.39h13.9v1.61h-13.9zM187.3 402.95h13.9v1.61h-13.9zM200.9 408.41h13.9v1.61h-13.9zM173.6 422h13.9v1.61h-13.9zM173.6 430.14h13.9v1.61h-13.9zM173.6 454.57h13.9v1.61h-13.9zM173.6 474.67h13.9v1.58h-13.9zM200.9 474.67h13.9v1.58h-13.9zM173.6 481.33h13.9v1.58h-13.9zM173.6 486.67h13.9v1.58h-13.9z"/>
<path fill="#739cd0" d="M228.3 322.67h13.9v1.58h-13.9zM228.3 328h13.9v1.58h-13.9zM241.9 345.5h13.9v1.62h-13.9zM228.3 360.62h13.9v1.62h-13.9zM200.9 371.55h13.9v1.61h-13.9zM173.6 381.11h13.9v1.61h-13.9zM200.9 389.3h13.9v1.61h-13.9zM200.9 392.03h13.9v1.61h-13.9zM173.6 400.22h13.9v1.61h-13.9zM187.3 405.68h13.9v1.61h-13.9zM200.9 427.43h13.9v1.61h-13.9zM200.9 438.29h13.9v1.61h-13.9zM187.3 441h13.9v1.61h-13.9zM200.9 441h13.9v1.61h-13.9zM173.6 449.14h13.9v1.61h-13.9zM173.6 461.33h13.9v1.58h-13.9zM173.6 480h13.9v1.58h-13.9zM187.3 484h13.9v1.58h-13.9zM187.3 486.67h13.9v1.58h-13.9z"/>
<path fill="#fbe6ce" d="M187.3 324h13.9v1.58h-13.9zM214.6 385.2h13.9v1.61h-13.9zM241.9 416.57h13.9v1.61h-13.9zM241.9 419.29h13.9v1.61h-13.9zM228.3 430.14h13.9v1.61h-13.9zM241.9 431.5h13.9v1.61h-13.9zM241.9 432.86h13.9v1.61h-13.9zM241.9 436.93h13.9v1.61h-13.9zM241.9 449.14h13.9v1.61h-13.9zM228.3 462.67h13.9v1.58h-13.9zM241.9 464h13.9v1.58h-13.9zM241.9 484h13.9v1.58h-13.9z"/>
<path fill="#f2a171" d="M200.9 324h13.9v1.58h-13.9zM173.6 325.33h13.9v1.58h-13.9zM200.9 326.67h13.9v1.58h-13.9zM200.9 330.67h13.9v1.58h-13.9zM173.6 346.88h13.9v1.62h-13.9zM200.9 356.5h13.9v1.62h-13.9zM228.3 366.09h13.9v1.61h-13.9zM228.3 368.82h13.9v1.61h-13.9zM241.9 370.19h13.9v1.61h-13.9zM228.3 378.38h13.9v1.61h-13.9zM241.9 381.11h13.9v1.61h-13.9zM241.9 396.12h13.9v1.61h-13.9zM228.3 401.58h13.9v1.61h-13.9zM214.6 412.5h13.9v1.61h-13.9zM214.6 422h13.9v1.61h-13.9zM228.3 434.21h13.9v1.61h-13.9zM228.3 466.67h13.9v1.58h-13.9zM214.6 473.33h13.9v1.58h-13.9z"/>
<path fill="#608cc8" d="M241.9 324h13.9v1.58h-13.9zM228.3 326.67h13.9v1.58h-13.9zM214.6 328h13.9v1.58h-13.9zM214.6 330.67h13.9v1.58h-13.9zM241.9 330.67h13.9v1.58h-13.9zM241.9 338.67h13.9v1.58h-13.9zM228.3 340h13.9v1.62h-13.9zM214.6 349.62h13.9v1.62h-13.9zM241.9 351h13.9v1.62h-13.9zM228.3 355.12h13.9v1.62h-13.9zM214.6 357.88h13.9v1.62h-13.9zM241.9 357.88h13.9v1.62h-13.9zM200.9 364.73h13.9v1.61h-13.9zM187.3 372.92h13.9v1.61h-13.9zM187.3 375.65h13.9v1.61h-13.9zM200.9 379.74h13.9v1.61h-13.9zM173.6 386.57h13.9v1.61h-13.9zM173.6 387.93h13.9v1.61h-13.9zM200.9 401.58h13.9v1.61h-13.9zM200.9 415.21h13.9v1.61h-13.9zM173.6 424.71h13.9v1.61h-13.9zM173.6 431.5h13.9v1.61h-13.9zM173.6 435.57h13.9v1.61h-13.9zM173.6 447.79h13.9v1.61h-13.9zM173.6 458.64h13.9v1.61h-13.9zM187.3 464h13.9v1.58h-13.9zM187.3 468h13.9v1.58h-13.9zM173.6 469.33h13.9v1.58h-13.9zM200.9 473.33h13.9v1.58h-13.9zM200.9 480h13.9v1.58h-13.9z"/>
<path fill="#fbdbbc" d="M200.9 325.33h13.9v1.58h-13.9zM173.6 345.5h13.9v1.62h-13.9zM173.6 355.12h13.9v1.62h-13.9zM228.3 398.85h13.9v1.61h-13.9zM214.6 404.31h13.9v1.61h-13.9zM228.3 427.43h13.9v1.61h-13.9zM241.9 434.21h13.9v1.61h-13.9z"/>
<path fill="#78a0d2" d="M241.9 325.33h13.9v1.58h-13.9zM241.9 349.62h13.9v1.62h-13.9zM173.6 364.73h13.9v1.61h-13.9zM200.9 396.12h13.9v1.61h-13.9zM173.6 402.95h13.9v1.61h-13.9zM187.3 404.31h13.9v1.61h-13.9zM187.3 411.14h13.9v1.61h-13.9zM187.3 413.86h13.9v1.61h-13.9zM187.3 416.57h13.9v1.61h-13.9zM187.3 423.36h13.9v1.61h-13.9zM187.3 432.86h13.9v1.61h-13.9zM187.3 436.93h13.9v1.61h-13.9zM200.9 439.64h13.9v1.61h-13.9zM200.9 445.07h13.9v1.61h-13.9zM187.3 450.5h13.9v1.61h-13.9zM187.3 474.67h13.9v1.58h-13.9zM200.9 478.67h13.9v1.58h-13.9zM187.3 480h13.9v1.58h-13.9zM200.9 481.33h13.9v1.58h-13.9z"/>
<path fill="#eef2f5" d="M187.3 326.67h13.9v1.58h-13.9zM214.6 382.47h13.9v1.61h-13.9zM214.6 387.93h13.9v1.61h-13.9zM214.6 393.39h13.9v1.61h-13.9zM214.6 407.04h13.9v1.61h-13.9zM241.9 417.93h13.9v1.61h-13.9zM241.9 427.43h13.9v1.61h-13.9zM241.9 441h13.9v1.61h-13.9z"/>
<path fill="#c7d9ed" d="M241.9 326.67h13.9v1.58h-13.9zM214.6 377.01h13.9v1.61h-13.9zM214.6 411.14h13.9v1.61h-13.9zM241.9 438.29h13.9v1.61h-13.9zM241.9 458.64h13.9v1.61h-13.9z"/>
<path fill="#f5b282" d="M187.3 328h13.9v1.58h-13.9zM200.9 333.33h13.9v1.58h-13.9zM187.3 334.67h13.9v1.58h-13.9zM200.9 342.75h13.9v1.62h-13.9zM200.9 344.12h13.9v1.62h-13.9zM200.9 346.88h13.9v1.62h-13.9zM173.6 348.25h13.9v1.62h-13.9zM200.9 353.75h13.9v1.62h-13.9zM173.6 356.5h13.9v1.62h-13.9zM187.3 360.62h13.9v1.62h-13.9zM241.9 364.73h13.9v1.61h-13.9zM228.3 371.55h13.9v1.61h-13.9zM228.3 372.92h13.9v1.61h-13.9zM241.9 379.74h13.9v1.61h-13.9zM241.9 382.47h13.9v1.61h-13.9zM228.3 383.84h13.9v1.61h-13.9zM228.3 389.3h13.9v1.61h-13.9zM228.3 396.12h13.9v1.61h-13.9zM228.3 411.14h13.9v1.61h-13.9zM214.6 420.64h13.9v1.61h-13.9zM214.6 426.07h13.9v1.61h-13.9zM228.3 428.79h13.9v1.61h-13.9zM214.6 436.93h13.9v1.61h-13.9zM241.9 472h13.9v1.58h-13.9zM214.6 474.67h13.9v1.58h-13.9zM214.6 476h13.9v1.58h-13.9zM241.9 476h13.9v1.58h-13.9zM214.6 477.33h13.9v1.58h-13.9z"/>
<path fill="#9dbbdf" d="M241.9 328h13.9v1.58h-13.9zM241.9 341.38h13.9v1.62h-13.9zM214.6 370.19h13.9v1.61h-13.9zM200.9 387.93h13.9v1.61h-13.9zM200.9 447.79h13.9v1.61h-13.9zM200.9 450.5h13.9v1.61h-13.9zM200.9 453.21h13.9v1.61h-13.9zM200.9 454.57h13.9v1.61h-13.9zM187.3 457.29h13.9v1.61h-13.9zM200.9 465.33h13.9v1.58h-13.9zM200.9 469.33h13.9v1.58h-13.9zM200.9 484h13.9v1.58h-13.9z"/>
<path fill="#5180c2" d="M214.6 329.33h13.9v1.58h-13.9zM214.6 345.5h13.9v1.62h-13.9zM200.9 362h13.9v1.61h-13.9zM200.9 370.19h13.9v1.61h-13.9zM187.3 378.38h13.9v1.61h-13.9zM200.9 394.76h13.9v1.61h-13.9zM173.6 415.21h13.9v1.61h-13.9zM187.3 417.93h13.9v1.61h-13.9zM173.6 420.64h13.9v1.61h-13.9zM173.6 426.07h13.9v1.61h-13.9zM173.6 427.43h13.9v1.61h-13.9zM173.6 455.93h13.9v1.61h-13.9zM173.6 460h13.9v1.58h-13.9zM173.6 462.67h13.9v1.58h-13.9zM187.3 462.67h13.9v1.58h-13.9zM173.6 466.67h13.9v1.58h-13.9zM173.6 468h13.9v1.58h-13.9zM173.6 477.33h13.9v1.58h-13.9z"/>
<path fill="#f19969" d="M173.6 330.67h13.9v1.58h-13.9zM200.9 348.25h13.9v1.62h-13.9zM200.9 357.88h13.9v1.62h-13.9zM241.9 362h13.9v1.61h-13.9zM241.9 363.36h13.9v1.61h-13.9zM241.9 386.57h13.9v1.61h-13.9zM241.9 392.03h13.9v1.61h-13.9zM228.3 402.95h13.9v1.61h-13.9zM228.3 409.77h13.9v1.61h-13.9zM241.9 409.77h13.9v1.61h-13.9zM228.3 412.5h13.9v1.61h-13.9zM228.3 423.36h13.9v1.61h-13.9zM214.6 427.43h13.9v1.61h-13.9zM214.6 428.79h13.9v1.61h-13.9zM214.6 430.14h13.9v1.61h-13.9zM214.6 441h13.9v1.61h-13.9zM228.3 449.14h13.9v1.61h-13.9zM214.6 457.29h13.9v1.61h-13.9zM214.6 468h13.9v1.58h-13.9zM214.6 480h13.9v1.58h-13.9zM214.6 482.67h13.9v1.58h-13.9z"/>
<path fill="#92b3db" d="M241.9 332h13.9v1.58h-13.9zM241.9 353.75h13.9v1.62h-13.9zM187.3 368.82h13.9v1.61h-13.9zM200.9 402.95h13.9v1.61h-13.9zM173.6 407.04h13.9v1.61h-13.9zM200.9 419.29h13.9v1.61h-13.9zM200.9 422h13.9v1.61h-13.9zM187.3 431.5h13.9v1.61h-13.9zM187.3 447.79h13.9v1.61h-13.9zM200.9 455.93h13.9v1.61h-13.9zM200.9 477.33h13.9v1.58h-13.9zM187.3 482.67h13.9v1.58h-13.9zM187.3 485.33h13.9v1.58h-13.9z"/>
<path fill="#ed895a" d="M173.6 333.33h13.9v1.58h-13.9zM173.6 334.67h13.9v1.58h-13.9zM173.6 337.33h13.9v1.58h-13.9zM200.9 349.62h13.9v1.62h-13.9zM173.6 357.88h13.9v1.62h-13.9zM228.3 367.46h13.9v1.61h-13.9zM241.9 372.92h13.9v1.61h-13.9zM241.9 377.01h13.9v1.61h-13.9zM241.9 378.38h13.9v1.61h-13.9zM241.9 383.84h13.9v1.61h-13.9zM228.3 390.66h13.9v1.61h-13.9zM241.9 390.66h13.9v1.61h-13.9zM241.9 397.49h13.9v1.61h-13.9zM241.9 407.04h13.9v1.61h-13.9zM214.6 443.71h13.9v1.61h-13.9zM214.6 462.67h13.9v1.58h-13.9z"/>
<path fill="#e8784e" d="M200.9 340h13.9v1.62h-13.9zM241.9 367.46h13.9v1.61h-13.9zM241.9 385.2h13.9v1.61h-13.9zM228.3 400.22h13.9v1.61h-13.9zM241.9 405.68h13.9v1.61h-13.9zM241.9 408.41h13.9v1.61h-13.9zM241.9 411.14h13.9v1.61h-13.9zM214.6 423.36h13.9v1.61h-13.9zM214.6 451.86h13.9v1.61h-13.9zM214.6 458.64h13.9v1.61h-13.9z"/>
<path fill="#e36743" d="M200.9 341.38h13.9v1.62h-13.9zM214.6 419.29h13.9v1.61h-13.9zM214.6 438.29h13.9v1.61h-13.9z"/>
<path fill="#ef9161" d="M173.6 344.12h13.9v1.62h-13.9zM187.3 346.88h13.9v1.62h-13.9zM200.9 351h13.9v1.62h-13.9zM200.9 360.62h13.9v1.62h-13.9zM228.3 374.28h13.9v1.61h-13.9zM228.3 387.93h13.9v1.61h-13.9zM241.9 401.58h13.9v1.61h-13.9zM228.3 441h13.9v1.61h-13.9zM214.6 442.36h13.9v1.61h-13.9zM214.6 450.5h13.9v1.61h-13.9zM228.3 457.29h13.9v1.61h-13.9zM214.6 461.33h13.9v1.58h-13.9z"/>
<path fill="#dce8f4" d="M241.9 344.12h13.9v1.62h-13.9zM214.6 375.65h13.9v1.61h-13.9zM214.6 379.74h13.9v1.61h-13.9zM214.6 390.66h13.9v1.61h-13.9zM214.6 392.03h13.9v1.61h-13.9zM241.9 428.79h13.9v1.61h-13.9zM241.9 446.43h13.9v1.61h-13.9z"/>
<path fill="#de5638" d="M200.9 345.5h13.9v1.62h-13.9zM241.9 387.93h13.9v1.61h-13.9zM214.6 431.5h13.9v1.61h-13.9zM214.6 449.14h13.9v1.61h-13.9zM214.6 454.57h13.9v1.61h-13.9z"/>
<path fill="#7da4d4" d="M228.3 349.62h13.9v1.62h-13.9zM173.6 405.68h13.9v1.61h-13.9zM187.3 408.41h13.9v1.61h-13.9zM200.9 409.77h13.9v1.61h-13.9zM187.3 412.5h13.9v1.61h-13.9zM200.9 412.5h13.9v1.61h-13.9zM187.3 422h13.9v1.61h-13.9zM200.9 431.5h13.9v1.61h-13.9zM200.9 436.93h13.9v1.61h-13.9zM187.3 454.57h13.9v1.61h-13.9zM200.9 457.29h13.9v1.61h-13.9zM200.9 460h13.9v1.58h-13.9zM200.9 461.33h13.9v1.58h-13.9zM200.9 476h13.9v1.58h-13.9zM200.9 486.67h13.9v1.58h-13.9z"/>
<path fill="#f7f7f5" d="M187.3 352.38h13.9v1.62h-13.9zM214.6 362h13.9v1.61h-13.9zM214.6 367.46h13.9v1.61h-13.9zM241.9 420.64h13.9v1.61h-13.9zM241.9 426.07h13.9v1.61h-13.9zM241.9 443.71h13.9v1.61h-13.9z"/>
<path fill="#a7c2e3" d="M241.9 352.38h13.9v1.62h-13.9zM173.6 408.41h13.9v1.61h-13.9zM214.6 408.41h13.9v1.61h-13.9zM200.9 413.86h13.9v1.61h-13.9zM200.9 416.57h13.9v1.61h-13.9zM200.9 420.64h13.9v1.61h-13.9zM200.9 423.36h13.9v1.61h-13.9zM187.3 449.14h13.9v1.61h-13.9zM200.9 462.67h13.9v1.58h-13.9zM200.9 470.67h13.9v1.58h-13.9z"/>
<path fill="#f8f3eb" d="M173.6 359.25h13.9v1.62h-13.9zM214.6 364.73h13.9v1.61h-13.9zM214.6 389.3h13.9v1.61h-13.9zM214.6 397.49h13.9v1.61h-13.9zM241.9 430.14h13.9v1.61h-13.9zM241.9 455.93h13.9v1.61h-13.9zM241.9 481.33h13.9v1.58h-13.9z"/>
<path fill="#bcd2ea" d="M214.6 371.55h13.9v1.61h-13.9zM173.6 374.28h13.9v1.61h-13.9zM214.6 402.95h13.9v1.61h-13.9zM200.9 432.86h13.9v1.61h-13.9z"/>
<path fill="#e5edf4" d="M214.6 381.11h13.9v1.61h-13.9zM214.6 394.76h13.9v1.61h-13.9zM214.6 401.58h13.9v1.61h-13.9zM241.9 415.21h13.9v1.61h-13.9zM241.9 424.71h13.9v1.61h-13.9zM241.9 451.86h13.9v1.61h-13.9z"/>
<path fill="#d2e1f1" d="M214.6 396.12h13.9v1.61h-13.9zM200.9 449.14h13.9v1.61h-13.9zM200.9 466.67h13.9v1.58h-13.9z"/>
<path fill="#b2cae6" d="M173.6 397.49h13.9v1.61h-13.9zM200.9 458.64h13.9v1.61h-13.9z"/>
<path fill="#e66f49" d="M214.6 413.86h13.9v1.61h-13.9zM214.6 432.86h13.9v1.61h-13.9zM214.6 435.57h13.9v1.61h-13.9z"/>
<path fill="#e05e3e" d="M214.6 424.71h13.9v1.61h-13.9zM214.6 445.07h13.9v1.61h-13.9zM214.6 446.43h13.9v1.61h-13.9z"/>
<path fill="none" stroke="#444" stroke-width="0.5" d="M155.6 335.3L155.6 410.6M155.6 335.3L161.3 335.3M155.6 410.6L161.1 410.6M161.3 323.2L161.3 347.5M161.3 323.2L165 323.2M161.3 347.5L165 347.5M161.1 369.8L161.1 447.2M161.1 369.8L164.4 369.8M161.1 447.2L164.4 447.2M164.4 420L164.4 470M164.4 420L166 420M164.4 470L166 470"/>
<path fill="none" stroke="#555" stroke-width="0.33" d="M165 319.8L165 329.3M165 319.8L167.7 319.8M165 329.3L167.7 329.3M167.7 318.5L167.7 322.3M167.7 318.5L168.6 318.5M167.7 322.3L169.2 322.3M168.6 316.9L168.6 319.3M168.6 316.9L169.7 316.9M168.6 319.3L169.7 319.3M169.7 316.3L169.7 317.2M169.7 316.3L170.6 316.3M169.7 317.2L170.3 317.2M170.6 316.3L171.1 316.3M170.3 317.2L171.1 317.2M169.7 318.4L169.7 320M169.7 318.4L170.5 318.4M169.7 320L170.8 320M170.5 318.1L170.5 318.8M170.5 318.1L170.7 318.1M170.5 318.8L170.8 318.8M170.7 318.1L171.1 318.1M170.8 318.8L171.1 318.8M170.8 319.4L170.8 320.3M170.8 319.4L170.8 319.4M170.8 320.3L170.8 320.3M170.8 319.4L171.1 319.4M170.8 320.3L171.1 320.3M169.2 321.8L169.2 323.1M169.2 321.8L170.7 321.8M169.2 323.1L170.6 323.1M170.7 321.5L170.7 322.3M170.7 321.5L170.8 321.5M170.7 322.3L170.8 322.3M170.8 321.5L171.1 321.5M170.8 322.3L171.1 322.3M170.6 323.1L171.1 323.1M167.7 327.3L167.7 333M167.7 327.3L168.9 327.3M167.7 333L169.3 333M168.9 325.6L168.9 329.2M168.9 325.6L169.7 325.6M168.9 329.2L169.7 329.2M169.7 324.6L169.7 326.5M169.7 324.6L170.4 324.6M169.7 326.5L170.2 326.5M170.4 324.2L170.4 325.1M170.4 324.2L170.8 324.2M170.4 325.1L170.8 325.1M170.8 324.2L171.1 324.2M170.8 325.1L171.1 325.1M170.2 326L170.2 327.1M170.2 326L170.8 326M170.2 327.1L170.8 327.1M170.8 326L171.1 326M170.8 327.1L171.1 327.1M169.7 328.1L169.7 329.8M169.7 328.1L170.7 328.1M169.7 329.8L170.5 329.8M170.7 328.1L171.1 328.1M170.5 329.1L170.5 330.2M170.5 329.1L170.7 329.1M170.5 330.2L170.8 330.2M170.7 329.1L171.1 329.1M170.8 329.8L170.8 330.5M170.8 329.8L170.8 329.8M170.8 330.5L170.8 330.5M170.8 329.8L171.1 329.8M170.8 330.5L171.1 330.5M169.3 331.9L169.3 333.9M169.3 331.9L170 331.9M169.3 333.9L170.4 333.9M170 331.3L170 332.2M170 331.3L170.5 331.3M170 332.2L170.5 332.2M170.5 331.3L171.1 331.3M170.5 332.2L171.1 332.2M170.4 333.3L170.4 334.4M170.4 333.3L170.6 333.3M170.4 334.4L170.8 334.4M170.6 333.3L171.1 333.3M170.8 334.4L171.1 334.4M165 344.2L165 357.7M165 344.2L167.1 344.2M165 357.7L167.8 357.7M167.1 341.2L167.1 350.4M167.1 341.2L167.9 341.2M167.1 350.4L168.1 350.4M167.9 338.9L167.9 345M167.9 338.9L169.5 338.9M167.9 345L169.3 345M169.5 336.4L169.5 340.3M169.5 336.4L170.4 336.4M169.5 340.3L170.3 340.3M170.4 335.9L170.4 337.3M170.4 335.9L170.8 335.9M170.4 337.3L170.7 337.3M170.8 335.6L170.8 336.5M170.8 335.6L170.8 335.6M170.8 336.5L170.8 336.5M170.8 335.6L171.1 335.6M170.8 336.5L171.1 336.5M170.7 337.3L171.1 337.3M170.3 338.7L170.3 341.1M170.3 338.7L170.8 338.7M170.3 341.1L170.6 341.1M170.8 338.3L170.8 339.2M170.8 338.3L170.8 338.3M170.8 339.2L170.8 339.2M170.8 338.3L171.1 338.3M170.8 339.2L171.1 339.2M170.6 340.4L170.6 342M170.6 340.4L170.8 340.4M170.6 342L170.8 342M170.8 340L170.8 340.9M170.8 340L170.8 340M170.8 340.9L170.8 340.9M170.8 340L171.1 340M170.8 340.9L171.1 340.9M170.8 341.5L170.8 342.2M170.8 341.5L170.8 341.5M170.8 342.2L170.8 342.2M170.8 341.5L171.1 341.5M170.8 342.2L171.1 342.2M169.3 343.6L169.3 346M169.3 343.6L169.9 343.6M169.3 346L170.5 346M169.9 343.2L169.9 344.1M169.9 343.2L170.7 343.2M169.9 344.1L170.3 344.1M170.7 343.2L171.1 343.2M170.3 344.1L171.1 344.1M170.5 345.2L170.5 346.6M170.5 345.2L170.8 345.2M170.5 346.6L170.7 346.6M170.8 344.7L170.8 345.4M170.8 344.7L170.8 344.7M170.8 345.4L170.8 345.4M170.8 344.7L171.1 344.7M170.8 345.4L171.1 345.4M170.7 346.2L170.7 347M170.7 346.2L170.8 346.2M170.7 347L170.8 347M170.8 346.2L171.1 346.2M170.8 347L171.1 347M168.1 348.4L168.1 351.4M168.1 348.4L169.8 348.4M168.1 351.4L169.1 351.4M169.8 348L169.8 349M169.8 348L170.2 348M169.8 349L170.5 349M170.2 348L171.1 348M170.5 349L171.1 349M169.1 350.4L169.1 352.4M169.1 350.4L170.8 350.4M169.1 352.4L170.3 352.4M170.8 349.9L170.8 350.9M170.8 349.9L170.8 349.9M170.8 350.9L170.8 350.9M170.8 349.9L171.1 349.9M170.8 350.9L171.1 350.9M170.3 351.7L170.3 352.7M170.3 351.7L170.8 351.7M170.3 352.7L170.8 352.7M170.8 351.7L171.1 351.7M170.8 352.4L170.8 353.1M170.8 352.4L170.8 352.4M170.8 353.1L170.8 353.1M170.8 352.4L171.1 352.4M170.8 353.1L171.1 353.1M167.8 356.2L167.8 360.5M167.8 356.2L168.7 356.2M167.8 360.5L169.1 360.5M168.7 354.6L168.7 357.4M168.7 354.6L169.8 354.6M168.7 357.4L169.4 357.4M169.8 353.9L169.8 355.1M169.8 353.9L170.5 353.9M169.8 355.1L170.3 355.1M170.5 353.9L171.1 353.9M170.3 354.7L170.3 355.4M170.3 354.7L170.6 354.7M170.3 355.4L170.8 355.4M170.6 354.7L171.1 354.7M170.8 355.4L171.1 355.4M169.4 356.7L169.4 358.2M169.4 356.7L170 356.7M169.4 358.2L170.7 358.2M170 356.1L170 357M170 356.1L170.6 356.1M170 357L170.7 357M170.6 356.1L171.1 356.1M170.7 357L171.1 357M170.7 357.8L170.7 358.5M170.7 357.8L170.8 357.8M170.7 358.5L170.8 358.5M170.8 357.8L171.1 357.8M170.8 358.5L171.1 358.5M169.1 359.5L169.1 361M169.1 359.5L170.7 359.5M169.1 361L169.9 361M170.7 359.5L171.1 359.5M169.9 360.6L169.9 361.6M169.9 360.6L170.4 360.6M169.9 361.6L170.5 361.6M170.4 360.6L171.1 360.6M170.5 361.6L171.1 361.6M164.4 369.5L164.4 386M164.4 369.5L165.8 369.5M164.4 386L166 386M165.8 365.3L165.8 372.9M165.8 365.3L167.7 365.3M165.8 372.9L168.5 372.9M167.7 364.3L167.7 367.7M167.7 364.3L168.4 364.3M167.7 367.7L169.8 367.7M168.4 362.8L168.4 365.1M168.4 362.8L170.5 362.8M168.4 365.1L169.3 365.1M170.5 362.5L170.5 363.4M170.5 362.5L170.8 362.5M170.5 363.4L170.7 363.4M170.8 362.5L171.1 362.5M170.7 363.4L171.1 363.4M169.3 364.1L169.3 365.6M169.3 364.1L170.1 364.1M169.3 365.6L170.7 365.6M170.1 364.1L171.1 364.1M170.7 364.9L170.7 366M170.7 364.9L170.8 364.9M170.7 366L170.8 366M170.8 364.9L171.1 364.9M170.8 365.6L170.8 366.3M170.8 365.6L170.8 365.6M170.8 366.3L170.8 366.3M170.8 365.6L171.1 365.6M170.8 366.3L171.1 366.3M169.8 367.2L169.8 368.3M169.8 367.2L170.7 367.2M169.8 368.3L170.8 368.3M170.7 367.2L171.1 367.2M170.8 368.3L171.1 368.3M168.5 370.8L168.5 375M168.5 370.8L169.9 370.8M168.5 375L169.4 375M169.9 369.8L169.9 371.9M169.9 369.8L170.7 369.8M169.9 371.9L170.8 371.9M170.7 369.4L170.7 370.5M170.7 369.4L170.8 369.4M170.7 370.5L170.8 370.5M170.8 369.1L170.8 369.8M170.8 369.1L170.8 369.1M170.8 369.8L170.8 369.8M170.8 369.1L171.1 369.1M170.8 369.8L171.1 369.8M170.8 370.5L171.1 370.5M170.8 371.3L170.8 372.3M170.8 371.3L170.8 371.3M170.8 372.3L170.8 372.3M170.8 371.3L171.1 371.3M170.8 372.3L171.1 372.3M169.4 373.6L169.4 375.7M169.4 373.6L170 373.6M169.4 375.7L170 375.7M170 373.3L170 374M170 373.3L170.4 373.3M170 374L170.8 374M170.4 373.3L171.1 373.3M170.8 374L171.1 374M170 375.2L170 376.5M170 375.2L170.8 375.2M170 376.5L170.8 376.5M170.8 374.7L170.8 375.6M170.8 374.7L170.8 374.7M170.8 375.6L170.8 375.6M170.8 374.7L171.1 374.7M170.8 375.6L171.1 375.6M170.8 376.5L171.1 376.5M166 382.3L166 391.3M166 382.3L167.6 382.3M166 391.3L168.4 391.3M167.6 378.8L167.6 384.1M167.6 378.8L168.7 378.8M167.6 384.1L169.5 384.1M168.7 377.9L168.7 379.7M168.7 377.9L169.8 377.9M168.7 379.7L170.5 379.7M169.8 377.5L169.8 378.3M169.8 377.5L170.2 377.5M169.8 378.3L170.2 378.3M170.2 377.5L171.1 377.5M170.2 378.3L171.1 378.3M170.5 379.2L170.5 380.1M170.5 379.2L170.8 379.2M170.5 380.1L170.8 380.1M170.8 379.2L171.1 379.2M170.8 380.1L171.1 380.1M169.5 382L169.5 385.5M169.5 382L170.8 382M169.5 385.5L170.3 385.5M170.8 381.3L170.8 382.7M170.8 381.3L170.8 381.3M170.8 382.7L170.8 382.7M170.8 381.3L171.1 381.3M170.8 382.3L170.8 383M170.8 382.3L170.8 382.3M170.8 383L170.8 383M170.8 382.3L171.1 382.3M170.8 383L171.1 383M170.3 384.8L170.3 386.9M170.3 384.8L170.8 384.8M170.3 386.9L170.6 386.9M170.8 384L170.8 385.4M170.8 384L170.8 384M170.8 385.4L170.8 385.4M170.8 384L171.1 384M170.8 385L170.8 385.8M170.8 385L170.8 385M170.8 385.8L170.8 385.8M170.8 385L171.1 385M170.8 385.8L171.1 385.8M170.6 386.4L170.6 387.1M170.6 386.4L170.8 386.4M170.6 387.1L170.8 387.1M170.8 386.4L171.1 386.4M170.8 387.1L171.1 387.1M168.4 389.1L168.4 392.9M168.4 389.1L169.8 389.1M168.4 392.9L169.4 392.9M169.8 388.4L169.8 389.9M169.8 388.4L170.8 388.4M169.8 389.9L170.4 389.9M170.8 388L170.8 388.8M170.8 388L170.8 388M170.8 388.8L170.8 388.8M170.8 388L171.1 388M170.8 388.8L171.1 388.8M170.4 389.7L170.4 390.5M170.4 389.7L170.6 389.7M170.4 390.5L170.8 390.5M170.6 389.7L171.1 389.7M170.8 390.5L171.1 390.5M169.4 391.5L169.4 393.6M169.4 391.5L170.7 391.5M169.4 393.6L170.1 393.6M170.7 391L170.7 391.7M170.7 391L170.8 391M170.7 391.7L170.8 391.7M170.8 391L171.1 391M170.8 391.7L171.1 391.7M170.1 392.8L170.1 394.2M170.1 392.8L170.7 392.8M170.1 394.2L170.8 394.2M170.7 392.8L171.1 392.8M170.8 393.7L170.8 394.5M170.8 393.7L170.8 393.7M170.8 394.5L170.8 394.5M170.8 393.7L171.1 393.7M170.8 394.5L171.1 394.5M164.4 399.2L164.4 407.9M164.4 399.2L167.5 399.2M164.4 407.9L166.5 407.9M167.5 396.6L167.5 400.8M167.5 396.6L168.3 396.6M167.5 400.8L169.1 400.8M168.3 395.8L168.3 397.4M168.3 395.8L170.6 395.8M168.3 397.4L170.4 397.4M170.6 395.3L170.6 396M170.6 395.3L170.8 395.3M170.6 396L170.8 396M170.8 395.3L171.1 395.3M170.8 396L171.1 396M170.4 397.1L170.4 397.9M170.4 397.1L170.8 397.1M170.4 397.9L170.8 397.9M170.8 397.1L171.1 397.1M170.8 397.9L171.1 397.9M169.1 399.8L169.1 402.3M169.1 399.8L170 399.8M169.1 402.3L170.4 402.3M170 398.9L170 400.4M170 398.9L170.4 398.9M170 400.4L170.8 400.4M170.4 398.9L171.1 398.9M170.8 400L170.8 400.9M170.8 400L170.8 400M170.8 400.9L170.8 400.9M170.8 400L171.1 400M170.8 400.9L171.1 400.9M170.4 401.9L170.4 402.9M170.4 401.9L170.8 401.9M170.4 402.9L170.8 402.9M170.8 401.9L171.1 401.9M170.8 402.9L171.1 402.9M166.5 406.4L166.5 410.9M166.5 406.4L168.1 406.4M166.5 410.9L168.8 410.9M168.1 404.9L168.1 407.8M168.1 404.9L170 404.9M168.1 407.8L169.7 407.8M170 404.4L170 405.9M170 404.4L170.6 404.4M170 405.9L170.8 405.9M170.6 403.8L170.6 404.8M170.6 403.8L170.8 403.8M170.6 404.8L170.8 404.8M170.8 403.8L171.1 403.8M170.8 404.8L171.1 404.8M170.8 405.9L171.1 405.9M169.7 407.2L169.7 408.7M169.7 407.2L170.5 407.2M169.7 408.7L170.2 408.7M170.5 406.8L170.5 407.6M170.5 406.8L170.8 406.8M170.5 407.6L170.8 407.6M170.8 406.8L171.1 406.8M170.8 407.6L171.1 407.6M170.2 408.7L171.1 408.7M168.8 410.3L168.8 411.9M168.8 410.3L170.8 410.3M168.8 411.9L170.1 411.9M170.8 409.8L170.8 410.7M170.8 409.8L170.8 409.8M170.8 410.7L170.8 410.7M170.8 409.8L171.1 409.8M170.8 410.7L171.1 410.7M170.1 411.9L171.1 411.9M166 417.1L166 430.8M166 417.1L167.4 417.1M166 430.8L167.3 430.8M167.4 414.5L167.4 419M167.4 414.5L168.5 414.5M167.4 419L169.4 419M168.5 413.3L168.5 415.2M168.5 413.3L170.7 413.3M168.5 415.2L169.8 415.2M170.7 412.8L170.7 413.5M170.7 412.8L170.8 412.8M170.7 413.5L170.8 413.5M170.8 412.8L171.1 412.8M170.8 413.5L171.1 413.5M169.8 414.4L169.8 415.6M169.8 414.4L170.3 414.4M169.8 415.6L170.3 415.6M170.3 414.4L171.1 414.4M170.3 415.2L170.3 416M170.3 415.2L170.6 415.2M170.3 416L170.6 416M170.6 415.2L171.1 415.2M170.6 416L171.1 416M169.4 417.2L169.4 419.8M169.4 417.2L170.6 417.2M169.4 419.8L169.8 419.8M170.6 416.7L170.6 417.5M170.6 416.7L170.8 416.7M170.6 417.5L170.8 417.5M170.8 416.7L171.1 416.7M170.8 417.5L171.1 417.5M169.8 419L169.8 420.8M169.8 419L170.7 419M169.8 420.8L170.7 420.8M170.7 418.6L170.7 419.7M170.7 418.6L170.8 418.6M170.7 419.7L170.8 419.7M170.8 418.6L171.1 418.6M170.8 419.7L171.1 419.7M170.7 420.3L170.7 421.1M170.7 420.3L170.8 420.3M170.7 421.1L170.8 421.1M170.8 420.3L171.1 420.3M170.8 421.1L171.1 421.1M167.3 426.3L167.3 435.5M167.3 426.3L169.1 426.3M167.3 435.5L168.3 435.5M169.1 424.3L169.1 429M169.1 424.3L169.8 424.3M169.1 429L169.8 429M169.8 422.7L169.8 425.4M169.8 422.7L170.4 422.7M169.8 425.4L170.3 425.4M170.4 422.2L170.4 423.3M170.4 422.2L170.8 422.2M170.4 423.3L170.7 423.3M170.8 422.2L171.1 422.2M170.7 423.3L171.1 423.3M170.3 424.8L170.3 426.4M170.3 424.8L170.6 424.8M170.3 426.4L170.8 426.4M170.6 424.1L170.6 425.1M170.6 424.1L170.8 424.1M170.6 425.1L170.8 425.1M170.8 424.1L171.1 424.1M170.8 425.1L171.1 425.1M170.8 426L170.8 426.7M170.8 426L170.8 426M170.8 426.7L170.8 426.7M170.8 426L171.1 426M170.8 426.7L171.1 426.7M169.8 427.9L169.8 429.8M169.8 427.9L170.3 427.9M169.8 429.8L170.5 429.8M170.3 427.4L170.3 428.2M170.3 427.4L170.8 427.4M170.3 428.2L170.8 428.2M170.8 427.4L171.1 427.4M170.8 428.2L171.1 428.2M170.5 429.2L170.5 430.4M170.5 429.2L170.8 429.2M170.5 430.4L170.8 430.4M170.8 429.2L171.1 429.2M170.8 430.4L171.1 430.4M168.3 432.9L168.3 437.4M168.3 432.9L169.2 432.9M168.3 437.4L168.8 437.4M169.2 432.2L169.2 434.2M169.2 432.2L169.9 432.2M169.2 434.2L169.9 434.2M169.9 431.8L169.9 433M169.9 431.8L170.8 431.8M169.9 433L170.6 433M170.8 431.3L170.8 432.1M170.8 431.3L170.8 431.3M170.8 432.1L170.8 432.1M170.8 431.3L171.1 431.3M170.8 432.1L171.1 432.1M170.6 433L171.1 433M169.9 433.9L169.9 434.5M169.9 433.9L170.5 433.9M169.9 434.5L170.4 434.5M170.5 433.9L171.1 433.9M170.4 434.5L171.1 434.5M168.8 436.6L168.8 439.1M168.8 436.6L169.3 436.6M168.8 439.1L170 439.1M169.3 435.9L169.3 437.6M169.3 435.9L170.6 435.9M169.3 437.6L170 437.6M170.6 435.5L170.6 436.5M170.6 435.5L170.8 435.5M170.6 436.5L170.8 436.5M170.8 435.5L171.1 435.5M170.8 436.5L171.1 436.5M170 437.4L170 438.1M170 437.4L170.8 437.4M170 438.1L170.7 438.1M170.8 437.4L171.1 437.4M170.7 438.1L171.1 438.1M170 438.8L170 439.7M170 438.8L170.7 438.8M170 439.7L170.7 439.7M170.7 438.8L171.1 438.8M170.7 439.7L171.1 439.7M166 455L166 479M166 455L168.1 455M166 479L167.7 479M168.1 444.6L168.1 459.7M168.1 444.6L169.5 444.6M168.1 459.7L169.1 459.7M169.5 442.2L169.5 446.8M169.5 442.2L170 442.2M169.5 446.8L170.2 446.8M170 441L170 443.2M170 441L170.8 441M170 443.2L170.7 443.2M170.8 440.5L170.8 441.5M170.8 440.5L170.8 440.5M170.8 441.5L170.8 441.5M170.8 440.5L171.1 440.5M170.8 441.5L171.1 441.5M170.7 442.6L170.7 443.8M170.7 442.6L170.8 442.6M170.7 443.8L170.8 443.8M170.8 442.6L171.1 442.6M170.8 443.8L171.1 443.8M170.2 445.8L170.2 448.3M170.2 445.8L170.8 445.8M170.2 448.3L170.8 448.3M170.8 445.1L170.8 446.6M170.8 445.1L170.8 445.1M170.8 446.6L170.8 446.6M170.8 444.7L170.8 445.5M170.8 444.7L170.8 444.7M170.8 445.5L170.8 445.5M170.8 444.7L171.1 444.7M170.8 445.5L171.1 445.5M170.8 446.1L170.8 446.8M170.8 446.1L170.8 446.1M170.8 446.8L170.8 446.8M170.8 446.1L171.1 446.1M170.8 446.8L171.1 446.8M170.8 447.8L170.8 448.8M170.8 447.8L170.8 447.8M170.8 448.8L170.8 448.8M170.8 447.8L171.1 447.8M170.8 448.8L171.1 448.8M169.1 455.6L169.1 466M169.1 455.6L169.8 455.6M169.1 466L169.9 466M169.8 451.3L169.8 457.7M169.8 451.3L170.2 451.3M169.8 457.7L170.4 457.7M170.2 450.5L170.2 452.5M170.2 450.5L170.8 450.5M170.2 452.5L170.7 452.5M170.8 449.7L170.8 450.9M170.8 449.7L170.8 449.7M170.8 450.9L170.8 450.9M170.8 449.7L171.1 449.7M170.8 450.5L170.8 451.4M170.8 450.5L170.8 450.5M170.8 451.4L170.8 451.4M170.8 450.5L171.1 450.5M170.8 451.4L171.1 451.4M170.7 452.2L170.7 453.1M170.7 452.2L170.8 452.2M170.7 453.1L170.8 453.1M170.8 452.2L171.1 452.2M170.8 453.1L171.1 453.1M170.4 454.8L170.4 459.1M170.4 454.8L170.8 454.8M170.4 459.1L170.7 459.1M170.8 454.1L170.8 455.5M170.8 454.1L170.8 454.1M170.8 455.5L170.8 455.5M170.8 453.7L170.8 454.4M170.8 453.7L170.8 453.7M170.8 454.4L170.8 454.4M170.8 453.7L171.1 453.7M170.8 454.4L171.1 454.4M170.8 455.2L170.8 455.9M170.8 455.2L170.8 455.2M170.8 455.9L170.8 455.9M170.8 455.2L171.1 455.2M170.8 455.9L171.1 455.9M170.7 457.6L170.7 460.4M170.7 457.6L170.8 457.6M170.7 460.4L170.8 460.4M170.8 456.9L170.8 458.2M170.8 456.9L170.8 456.9M170.8 458.2L170.8 458.2M170.8 456.9L171.1 456.9M170.8 457.8L170.8 458.5M170.8 457.8L170.8 457.8M170.8 458.5L170.8 458.5M170.8 457.8L171.1 457.8M170.8 458.5L171.1 458.5M170.8 459.9L170.8 461.5M170.8 459.9L170.8 459.9M170.8 461.5L170.8 461.5M170.8 459.5L170.8 460.6M170.8 459.5L170.8 459.5M170.8 460.6L170.8 460.6M170.8 459.5L171.1 459.5M170.8 460.6L171.1 460.6M170.8 461.5L171.1 461.5M169.9 463.6L169.9 467.7M169.9 463.6L170.4 463.6M169.9 467.7L170.5 467.7M170.4 462.9L170.4 464.6M170.4 462.9L170.8 462.9M170.4 464.6L170.8 464.6M170.8 462.3L170.8 463.3M170.8 462.3L170.8 462.3M170.8 463.3L170.8 463.3M170.8 462.3L171.1 462.3M170.8 463.3L171.1 463.3M170.8 464.3L170.8 465M170.8 464.3L170.8 464.3M170.8 465L170.8 465M170.8 464.3L171.1 464.3M170.8 465L171.1 465M170.5 466.2L170.5 468.6M170.5 466.2L170.8 466.2M170.5 468.6L170.7 468.6M170.8 465.6L170.8 466.5M170.8 465.6L170.8 465.6M170.8 466.5L170.8 466.5M170.8 465.6L171.1 465.6M170.8 466.5L171.1 466.5M170.7 468.1L170.7 469.6M170.7 468.1L170.8 468.1M170.7 469.6L170.8 469.6M170.8 467.5L170.8 468.4M170.8 467.5L170.8 467.5M170.8 468.4L170.8 468.4M170.8 467.5L171.1 467.5M170.8 468.4L171.1 468.4M170.8 469.6L171.1 469.6M167.7 473.4L167.7 482.4M167.7 473.4L168.5 473.4M167.7 482.4L168.7 482.4M168.5 471.8L168.5 475.1M168.5 471.8L169.8 471.8M168.5 475.1L169.7 475.1M169.8 471L169.8 472.7M169.8 471L170.2 471M169.8 472.7L170.7 472.7M170.2 470.5L170.2 471.4M170.2 470.5L170.6 470.5M170.2 471.4L170.8 471.4M170.6 470.5L171.1 470.5M170.8 471.4L171.1 471.4M170.7 472.2L170.7 473M170.7 472.2L170.8 472.2M170.7 473L170.8 473M170.8 472.2L171.1 472.2M170.8 473L171.1 473M169.7 474.4L169.7 476.1M169.7 474.4L170.2 474.4M169.7 476.1L170.5 476.1M170.2 473.9L170.2 474.8M170.2 473.9L170.8 473.9M170.2 474.8L170.8 474.8M170.8 473.9L171.1 473.9M170.8 474.8L171.1 474.8M170.5 476.1L171.1 476.1M168.7 479L168.7 484.6M168.7 479L169.8 479M168.7 484.6L169.5 484.6M169.8 477.6L169.8 479.9M169.8 477.6L170.4 477.6M169.8 479.9L170.6 479.9M170.4 477.3L170.4 478.2M170.4 477.3L170.8 477.3M170.4 478.2L170.6 478.2M170.8 477.3L171.1 477.3M170.6 478.2L171.1 478.2M170.6 479.4L170.6 480.8M170.6 479.4L170.8 479.4M170.6 480.8L170.8 480.8M170.8 478.8L170.8 479.7M170.8 478.8L170.8 478.8M170.8 479.7L170.8 479.7M170.8 478.8L171.1 478.8M170.8 479.7L171.1 479.7M170.8 480.8L171.1 480.8M169.5 482.7L169.5 486M169.5 482.7L170.2 482.7M169.5 486L170.3 486M170.2 481.9L170.2 483.3M170.2 481.9L170.5 481.9M170.2 483.3L170.8 483.3M170.5 481.5L170.5 482.2M170.5 481.5L170.8 481.5M170.5 482.2L170.8 482.2M170.8 481.5L171.1 481.5M170.8 482.2L171.1 482.2M170.8 483L170.8 483.7M170.8 483L170.8 483M170.8 483.7L170.8 483.7M170.8 483L171.1 483M170.8 483.7L171.1 483.7M170.3 485.1L170.3 487.1M170.3 485.1L170.8 485.1M170.3 487.1L170.8 487.1M170.8 484.6L170.8 485.7M170.8 484.6L170.8 484.6M170.8 485.7L170.8 485.7M170.8 484.6L171.1 484.6M170.8 485.7L171.1 485.7M170.8 486.8L170.8 487.7M170.8 486.8L170.8 486.8M170.8 487.7L170.8 487.7M170.8 486.8L171.1 486.8M170.8 487.7L171.1 487.7"/>
<rect x="171.1" y="316" width="2.5" height="172" fill="#383838" />
<text x="263.8" y="316.5" font-size="3.81" text-anchor="start" font-weight="normal" fill="#333"  textLength="8.31" lengthAdjust="spacingAndGlyphs" stroke="#333" stroke-width="0.08">D-CS</text>
<line x1="256.1" y1="315.3" x2="262.8" y2="315.3" stroke="#bbbbbb" stroke-width="0.3" />
<text x="263.8" y="325.64" font-size="3.81" text-anchor="start" font-weight="normal" fill="#333"  textLength="13.23" lengthAdjust="spacingAndGlyphs" stroke="#333" stroke-width="0.08">MED12L</text>
<line x1="256.1" y1="324.44" x2="262.8" y2="324.44" stroke="#bbbbbb" stroke-width="0.3" />
<text x="263.8" y="334.77" font-size="3.81" text-anchor="start" font-weight="normal" fill="#333"  textLength="10.58" lengthAdjust="spacingAndGlyphs" stroke="#333" stroke-width="0.08">CIDEC</text>
<line x1="256.1" y1="333.57" x2="262.8" y2="333.57" stroke="#bbbbbb" stroke-width="0.3" />
<text x="263.8" y="343.91" font-size="3.81" text-anchor="start" font-weight="normal" fill="#333"  textLength="10.96" lengthAdjust="spacingAndGlyphs" stroke="#333" stroke-width="0.08">NR2E3</text>
<line x1="256.1" y1="342.71" x2="262.8" y2="342.71" stroke="#bbbbbb" stroke-width="0.3" />
<text x="263.8" y="353.05" font-size="3.81" text-anchor="start" font-weight="normal" fill="#333"  textLength="13.61" lengthAdjust="spacingAndGlyphs" stroke="#333" stroke-width="0.08">HOXC13</text>
<line x1="256.1" y1="351.85" x2="262.8" y2="351.85" stroke="#bbbbbb" stroke-width="0.3" />
<text x="263.8" y="362.18" font-size="3.81" text-anchor="start" font-weight="normal" fill="#333"  textLength="13.98" lengthAdjust="spacingAndGlyphs" stroke="#333" stroke-width="0.08">ELMOD1</text>
<line x1="256.1" y1="360.98" x2="262.8" y2="360.98" stroke="#bbbbbb" stroke-width="0.3" />
<text x="263.8" y="371.32" font-size="3.81" text-anchor="start" font-weight="normal" fill="#333"  textLength="24.01" lengthAdjust="spacingAndGlyphs" stroke="#333" stroke-width="0.08">LOC102182260</text>
<line x1="256.1" y1="370.12" x2="262.8" y2="370.12" stroke="#bbbbbb" stroke-width="0.3" />
<text x="263.8" y="380.46" font-size="3.81" text-anchor="start" font-weight="normal" fill="#333"  textLength="24.01" lengthAdjust="spacingAndGlyphs" stroke="#333" stroke-width="0.08">LOC106604590</text>
<line x1="256.1" y1="379.26" x2="262.8" y2="379.26" stroke="#bbbbbb" stroke-width="0.3" />
<text x="263.8" y="389.59" font-size="3.81" text-anchor="start" font-weight="normal" fill="#333"  textLength="10.9" lengthAdjust="spacingAndGlyphs" stroke="#333" stroke-width="0.08">HSPA6</text>
<line x1="256.1" y1="388.39" x2="262.8" y2="388.39" stroke="#bbbbbb" stroke-width="0.3" />
<text x="263.8" y="398.73" font-size="3.81" text-anchor="start" font-weight="normal" fill="#333"  textLength="9.07" lengthAdjust="spacingAndGlyphs" stroke="#333" stroke-width="0.08">DRB2</text>
<line x1="256.1" y1="397.53" x2="262.8" y2="397.53" stroke="#bbbbbb" stroke-width="0.3" />
<text x="263.8" y="407.87" font-size="3.81" text-anchor="start" font-weight="normal" fill="#333"  textLength="10.96" lengthAdjust="spacingAndGlyphs" stroke="#333" stroke-width="0.08">STRA6</text>
<line x1="256.1" y1="406.67" x2="262.8" y2="406.67" stroke="#bbbbbb" stroke-width="0.3" />
<text x="263.8" y="417.01" font-size="3.81" text-anchor="start" font-weight="normal" fill="#333"  textLength="24.01" lengthAdjust="spacingAndGlyphs" stroke="#333" stroke-width="0.08">LOC102173875</text>
<line x1="256.1" y1="415.81" x2="262.8" y2="415.81" stroke="#bbbbbb" stroke-width="0.3" />
<text x="263.8" y="426.14" font-size="3.81" text-anchor="start" font-weight="normal" fill="#333"  textLength="14.55" lengthAdjust="spacingAndGlyphs" stroke="#333" stroke-width="0.08">SLC16A4</text>
<line x1="256.1" y1="424.94" x2="262.8" y2="424.94" stroke="#bbbbbb" stroke-width="0.3" />
<text x="263.8" y="435.28" font-size="3.81" text-anchor="start" font-weight="normal" fill="#333"  textLength="24.01" lengthAdjust="spacingAndGlyphs" stroke="#333" stroke-width="0.08">LOC101916854</text>
<line x1="256.1" y1="434.08" x2="262.8" y2="434.08" stroke="#bbbbbb" stroke-width="0.3" />
<text x="263.8" y="444.42" font-size="3.81" text-anchor="start" font-weight="normal" fill="#333"  textLength="12.6" lengthAdjust="spacingAndGlyphs" stroke="#333" stroke-width="0.08">TAS1R2</text>
<line x1="256.1" y1="443.22" x2="262.8" y2="443.22" stroke="#bbbbbb" stroke-width="0.3" />
<text x="263.8" y="453.55" font-size="3.81" text-anchor="start" font-weight="normal" fill="#333"  textLength="13.98" lengthAdjust="spacingAndGlyphs" stroke="#333" stroke-width="0.08">SEMA6D</text>
<line x1="256.1" y1="452.35" x2="262.8" y2="452.35" stroke="#bbbbbb" stroke-width="0.3" />
<text x="263.8" y="462.69" font-size="3.81" text-anchor="start" font-weight="normal" fill="#333"  textLength="7.18" lengthAdjust="spacingAndGlyphs" stroke="#333" stroke-width="0.08">AIF1</text>
<line x1="256.1" y1="461.49" x2="262.8" y2="461.49" stroke="#bbbbbb" stroke-width="0.3" />
<text x="263.8" y="471.83" font-size="3.81" text-anchor="start" font-weight="normal" fill="#333"  textLength="24.01" lengthAdjust="spacingAndGlyphs" stroke="#333" stroke-width="0.08">LOC106603209</text>
<line x1="256.1" y1="470.63" x2="262.8" y2="470.63" stroke="#bbbbbb" stroke-width="0.3" />
<text x="263.8" y="480.96" font-size="3.81" text-anchor="start" font-weight="normal" fill="#333"  textLength="8.63" lengthAdjust="spacingAndGlyphs" stroke="#333" stroke-width="0.08">KRT4</text>
<line x1="256.1" y1="479.76" x2="262.8" y2="479.76" stroke="#bbbbbb" stroke-width="0.3" />
<text x="263.8" y="490.1" font-size="3.81" text-anchor="start" font-weight="normal" fill="#333"  textLength="18.71" lengthAdjust="spacingAndGlyphs" stroke="#333" stroke-width="0.08">C2BH1orf89</text>
<line x1="256.1" y1="488.9" x2="262.8" y2="488.9" stroke="#bbbbbb" stroke-width="0.3" />
<text x="0" y="0" font-size="3.9" fill="#333" stroke="#333" stroke-width="0.08" transform="translate(179.03,491.0) rotate(90)">VDAC2_Si1</text>
<text x="0" y="0" font-size="3.9" fill="#333" stroke="#333" stroke-width="0.08" transform="translate(192.7,491.0) rotate(90)">VDAC2_Si2</text>
<text x="0" y="0" font-size="3.9" fill="#333" stroke="#333" stroke-width="0.08" transform="translate(206.37,491.0) rotate(90)">VDAC2_Si3</text>
<text x="0" y="0" font-size="3.9" fill="#333" stroke="#333" stroke-width="0.08" transform="translate(220.03,491.0) rotate(90)">WT1</text>
<text x="0" y="0" font-size="3.9" fill="#333" stroke="#333" stroke-width="0.08" transform="translate(233.7,491.0) rotate(90)">WT2</text>
<text x="0" y="0" font-size="3.9" fill="#333" stroke="#333" stroke-width="0.08" transform="translate(247.37,491.0) rotate(90)">WT3</text>
<defs><linearGradient id="cb292" x1="0" y1="0" x2="0" y2="1">
<stop offset="0" stop-color="#de5638"/>
<stop offset="0.1" stop-color="#ea7f53"/>
<stop offset="0.2" stop-color="#f3a676"/>
<stop offset="0.3" stop-color="#f9c79e"/>
<stop offset="0.4" stop-color="#fce2c6"/>
<stop offset="0.5" stop-color="#f7f7f5"/>
<stop offset="0.6" stop-color="#c9dbee"/>
<stop offset="0.7" stop-color="#96b6dd"/>
<stop offset="0.8" stop-color="#719acf"/>
<stop offset="0.9" stop-color="#5a87c6"/>
<stop offset="1" stop-color="#4274bc"/>
</linearGradient></defs>
<rect x="292.2" y="309.5" width="3" height="61" fill="url(#cb292)"/>
<text x="297.3" y="326.2" font-size="3.58" text-anchor="start" font-weight="normal" fill="#333"  textLength="1.78" lengthAdjust="spacingAndGlyphs" stroke="#333" stroke-width="0.08">1</text>
<text x="297.3" y="341.9" font-size="3.58" text-anchor="start" font-weight="normal" fill="#333"  textLength="1.78" lengthAdjust="spacingAndGlyphs" stroke="#333" stroke-width="0.08">0</text>
<text x="296.7" y="357.2" font-size="3.58" text-anchor="start" font-weight="normal" fill="#333"  textLength="2.85" lengthAdjust="spacingAndGlyphs" stroke="#333" stroke-width="0.08">-1</text>
<text x="302.4" y="312.6" font-size="3.81" text-anchor="start" font-weight="bold" fill="#222"  textLength="9.63" lengthAdjust="spacingAndGlyphs" stroke="#222" stroke-width="0.08">group</text>
<rect x="302.4" y="314.1" width="3.6" height="5.1" fill="#86c8f0" />
<rect x="302.4" y="320.4" width="3.6" height="5.5" fill="#f09a50" />
<text x="307.7" y="318.2" font-size="3.81" text-anchor="start" font-weight="normal" fill="#333"  textLength="16.25" lengthAdjust="spacingAndGlyphs" stroke="#333" stroke-width="0.08">VDAC2_Si</text>
<text x="307.7" y="324.4" font-size="3.81" text-anchor="start" font-weight="normal" fill="#333"  textLength="5.29" lengthAdjust="spacingAndGlyphs" stroke="#333" stroke-width="0.08">WT</text>
<text x="164.5" y="523.6" font-size="5.6" text-anchor="middle" font-weight="bold" fill="#111"  textLength="58.52" lengthAdjust="spacingAndGlyphs" stroke="#111" stroke-width="0.14">VDAC2_OE-vs-WT(Total)</text>
<text x="164.5" y="529.1" font-size="5.6" text-anchor="middle" font-weight="bold" fill="#111"  textLength="38.15" lengthAdjust="spacingAndGlyphs" stroke="#111" stroke-width="0.14">Top 30 GO Term</text>
<rect x="130.5" y="535" width="67.7" height="63.4" fill="none" stroke="#555" stroke-width="0.6" />
<rect x="198.7" y="535" width="5.3" height="63.4" fill="#6aa840" />
<text x="0" y="0" font-size="4.5" fill="#222" stroke="#222" stroke-width="0.08" text-anchor="middle" transform="translate(200.25,566.7) rotate(90)">Biological Process</text>
<rect x="130.5" y="535.75" width="12.2" height="3.1" fill="#6aa840" />
<text x="129.5" y="538.85" font-size="4.5" text-anchor="end" font-weight="normal" fill="#2a2a2a"  textLength="71.97" lengthAdjust="spacingAndGlyphs" stroke="#2a2a2a" stroke-width="0.14">regulation of lipopolysaccharide-medi...</text>
<rect x="130.5" y="542.33" width="12.2" height="3.1" fill="#6aa840" />
<text x="129.5" y="545.43" font-size="4.5" text-anchor="end" font-weight="normal" fill="#2a2a2a"  textLength="72.67" lengthAdjust="spacingAndGlyphs" stroke="#2a2a2a" stroke-width="0.14">positive regulation of type I interferon ...</text>
<rect x="130.5" y="548.91" width="14.4" height="3.1" fill="#6aa840" />
<text x="129.5" y="552.01" font-size="4.5" text-anchor="end" font-weight="normal" fill="#2a2a2a"  textLength="55.59" lengthAdjust="spacingAndGlyphs" stroke="#2a2a2a" stroke-width="0.14">response to interferon-gamma</text>
<rect x="130.5" y="555.48" width="18.6" height="3.1" fill="#6aa840" />
<text x="129.5" y="558.58" font-size="4.5" text-anchor="end" font-weight="normal" fill="#2a2a2a"  textLength="51.91" lengthAdjust="spacingAndGlyphs" stroke="#2a2a2a" stroke-width="0.14">response to interferon-alpha</text>
<rect x="130.5" y="562.06" width="19.5" height="3.1" fill="#6aa840" />
<text x="129.5" y="565.16" font-size="4.5" text-anchor="end" font-weight="normal" fill="#2a2a2a"  textLength="49.83" lengthAdjust="spacingAndGlyphs" stroke="#2a2a2a" stroke-width="0.14">response to interferon-beta</text>
<rect x="130.5" y="568.64" width="28.6" height="3.1" fill="#6aa840" />
<text x="129.5" y="571.74" font-size="4.5" text-anchor="end" font-weight="normal" fill="#2a2a2a"  textLength="45.45" lengthAdjust="spacingAndGlyphs" stroke="#2a2a2a" stroke-width="0.14">innate immune response</text>
<rect x="130.5" y="575.22" width="32.6" height="3.1" fill="#6aa840" />
<text x="129.5" y="578.32" font-size="4.5" text-anchor="end" font-weight="normal" fill="#2a2a2a"  textLength="31.6" lengthAdjust="spacingAndGlyphs" stroke="#2a2a2a" stroke-width="0.14">response to virus</text>
<rect x="130.5" y="581.79" width="37.7" height="3.1" fill="#6aa840" />
<text x="129.5" y="584.89" font-size="4.5" text-anchor="end" font-weight="normal" fill="#2a2a2a"  textLength="62.98" lengthAdjust="spacingAndGlyphs" stroke="#2a2a2a" stroke-width="0.14">type I interferon signaling pathway</text>
<rect x="130.5" y="588.37" width="39.5" height="3.1" fill="#6aa840" />
<text x="129.5" y="591.47" font-size="4.5" text-anchor="end" font-weight="normal" fill="#2a2a2a"  textLength="72.9" lengthAdjust="spacingAndGlyphs" stroke="#2a2a2a" stroke-width="0.14">negative regulation of viral genome re...</text>
<rect x="130.5" y="594.95" width="61.9" height="3.1" fill="#6aa840" />
<text x="129.5" y="598.05" font-size="4.5" text-anchor="end" font-weight="normal" fill="#2a2a2a"  textLength="47.52" lengthAdjust="spacingAndGlyphs" stroke="#2a2a2a" stroke-width="0.14">defense response to virus</text>
<rect x="130.5" y="600" width="67.7" height="63.6" fill="none" stroke="#555" stroke-width="0.6" />
<rect x="198.7" y="600" width="5.3" height="63.6" fill="#ea7a30" />
<text x="0" y="0" font-size="4.5" fill="#222" stroke="#222" stroke-width="0.08" text-anchor="middle" transform="translate(200.25,631.8) rotate(90)">Cellular Component</text>
<rect x="130.5" y="600.85" width="4" height="3.1" fill="#ea7a30" />
<text x="129.5" y="603.95" font-size="4.5" text-anchor="end" font-weight="normal" fill="#2a2a2a"  textLength="21.22" lengthAdjust="spacingAndGlyphs" stroke="#2a2a2a" stroke-width="0.14">lipid droplet</text>
<rect x="130.5" y="607.39" width="4.4" height="3.1" fill="#ea7a30" />
<text x="129.5" y="610.49" font-size="4.5" text-anchor="end" font-weight="normal" fill="#2a2a2a"  textLength="71.97" lengthAdjust="spacingAndGlyphs" stroke="#2a2a2a" stroke-width="0.14">proteasome core complex, beta-subu...</text>
<rect x="130.5" y="613.94" width="5.5" height="3.1" fill="#ea7a30" />
<text x="129.5" y="617.04" font-size="4.5" text-anchor="end" font-weight="normal" fill="#2a2a2a"  textLength="37.6" lengthAdjust="spacingAndGlyphs" stroke="#2a2a2a" stroke-width="0.14">nuclear euchromatin</text>
<rect x="130.5" y="620.48" width="5.5" height="3.1" fill="#ea7a30" />
<text x="129.5" y="623.58" font-size="4.5" text-anchor="end" font-weight="normal" fill="#2a2a2a"  textLength="22.38" lengthAdjust="spacingAndGlyphs" stroke="#2a2a2a" stroke-width="0.14">gap junction</text>
<rect x="130.5" y="627.03" width="5.5" height="3.1" fill="#ea7a30" />
<text x="129.5" y="630.13" font-size="4.5" text-anchor="end" font-weight="normal" fill="#2a2a2a"  textLength="18.68" lengthAdjust="spacingAndGlyphs" stroke="#2a2a2a" stroke-width="0.14">cytoplasm</text>
<rect x="130.5" y="633.57" width="5.9" height="3.1" fill="#ea7a30" />
<text x="129.5" y="636.67" font-size="4.5" text-anchor="end" font-weight="normal" fill="#2a2a2a"  textLength="35.06" lengthAdjust="spacingAndGlyphs" stroke="#2a2a2a" stroke-width="0.14">extracellular region</text>
<rect x="130.5" y="640.12" width="6.4" height="3.1" fill="#ea7a30" />
<text x="129.5" y="643.22" font-size="4.5" text-anchor="end" font-weight="normal" fill="#2a2a2a"  textLength="55.82" lengthAdjust="spacingAndGlyphs" stroke="#2a2a2a" stroke-width="0.14">spermatoproteasome complex</text>
<rect x="130.5" y="646.66" width="6.4" height="3.1" fill="#ea7a30" />
<text x="129.5" y="649.76" font-size="4.5" text-anchor="end" font-weight="normal" fill="#2a2a2a"  textLength="34.37" lengthAdjust="spacingAndGlyphs" stroke="#2a2a2a" stroke-width="0.14">plasma membrane</text>
<rect x="130.5" y="653.21" width="8" height="3.1" fill="#ea7a30" />
<text x="129.5" y="656.31" font-size="4.5" text-anchor="end" font-weight="normal" fill="#2a2a2a"  textLength="52.81" lengthAdjust="spacingAndGlyphs" stroke="#2a2a2a" stroke-width="0.14">MHC class I protein complex</text>
<rect x="130.5" y="659.75" width="13.5" height="3.1" fill="#ea7a30" />
<text x="129.5" y="662.85" font-size="4.5" text-anchor="end" font-weight="normal" fill="#2a2a2a"  textLength="34.6" lengthAdjust="spacingAndGlyphs" stroke="#2a2a2a" stroke-width="0.14">extracellular space</text>
<rect x="130.5" y="664.9" width="67.7" height="63.7" fill="none" stroke="#555" stroke-width="0.6" />
<rect x="198.7" y="664.9" width="5.3" height="63.7" fill="#4a8ed2" />
<text x="0" y="0" font-size="4.5" fill="#222" stroke="#222" stroke-width="0.08" text-anchor="middle" transform="translate(200.25,696.75) rotate(90)">Molecular Function</text>
<rect x="130.5" y="666.05" width="5.1" height="3.1" fill="#4a8ed2" />
<text x="129.5" y="669.15" font-size="4.5" text-anchor="end" font-weight="normal" fill="#2a2a2a"  textLength="74.26" lengthAdjust="spacingAndGlyphs" stroke="#2a2a2a" stroke-width="0.14">extracellular matrix structural constitue...</text>
<rect x="130.5" y="672.63" width="5.1" height="3.1" fill="#4a8ed2" />
<text x="129.5" y="675.73" font-size="4.5" text-anchor="end" font-weight="normal" fill="#2a2a2a"  textLength="70.82" lengthAdjust="spacingAndGlyphs" stroke="#2a2a2a" stroke-width="0.14">(heparan sulfate)-glucosamine 3-sulf...</text>
<rect x="130.5" y="679.21" width="5.5" height="3.1" fill="#4a8ed2" />
<text x="129.5" y="682.31" font-size="4.5" text-anchor="end" font-weight="normal" fill="#2a2a2a"  textLength="60.43" lengthAdjust="spacingAndGlyphs" stroke="#2a2a2a" stroke-width="0.14">protein homodimerization activity</text>
<rect x="130.5" y="685.78" width="5.5" height="3.1" fill="#4a8ed2" />
<text x="129.5" y="688.88" font-size="4.5" text-anchor="end" font-weight="normal" fill="#2a2a2a"  textLength="61.82" lengthAdjust="spacingAndGlyphs" stroke="#2a2a2a" stroke-width="0.14">protein heterodimerization activity</text>
<rect x="130.5" y="692.36" width="5.5" height="3.1" fill="#4a8ed2" />
<text x="129.5" y="695.46" font-size="4.5" text-anchor="end" font-weight="normal" fill="#2a2a2a"  textLength="63.44" lengthAdjust="spacingAndGlyphs" stroke="#2a2a2a" stroke-width="0.14">ubiquitin-like protein ligase binding</text>
<rect x="130.5" y="698.94" width="5.9" height="3.1" fill="#4a8ed2" />
<text x="129.5" y="702.04" font-size="4.5" text-anchor="end" font-weight="normal" fill="#2a2a2a"  textLength="56.29" lengthAdjust="spacingAndGlyphs" stroke="#2a2a2a" stroke-width="0.14">glucocorticoid receptor binding</text>
<rect x="130.5" y="705.52" width="6.2" height="3.1" fill="#4a8ed2" />
<text x="129.5" y="708.62" font-size="4.5" text-anchor="end" font-weight="normal" fill="#2a2a2a"  textLength="73.8" lengthAdjust="spacingAndGlyphs" stroke="#2a2a2a" stroke-width="0.14">RNA polymerase II proximal promoter ...</text>
<rect x="130.5" y="712.09" width="6.6" height="3.1" fill="#4a8ed2" />
<text x="129.5" y="715.19" font-size="4.5" text-anchor="end" font-weight="normal" fill="#2a2a2a"  textLength="44.05" lengthAdjust="spacingAndGlyphs" stroke="#2a2a2a" stroke-width="0.14">enzyme inhibitor activity</text>
<rect x="130.5" y="718.67" width="7.2" height="3.1" fill="#4a8ed2" />
<text x="129.5" y="721.77" font-size="4.5" text-anchor="end" font-weight="normal" fill="#2a2a2a"  textLength="42.92" lengthAdjust="spacingAndGlyphs" stroke="#2a2a2a" stroke-width="0.14">peptide antigen binding</text>
<rect x="130.5" y="725.25" width="9.5" height="3.1" fill="#4a8ed2" />
<text x="129.5" y="728.35" font-size="4.5" text-anchor="end" font-weight="normal" fill="#2a2a2a"  textLength="72.9" lengthAdjust="spacingAndGlyphs" stroke="#2a2a2a" stroke-width="0.14">signaling pattern recognition receptor ...</text>
<line x1="130.5" y1="728.6" x2="130.5" y2="729.9" stroke="#444" stroke-width="0.4" />
<text x="130.5" y="734" font-size="4.48" text-anchor="middle" font-weight="normal" fill="#333"  textLength="2.22" lengthAdjust="spacingAndGlyphs" stroke="#333" stroke-width="0.14">0</text>
<line x1="147.95" y1="728.6" x2="147.95" y2="729.9" stroke="#444" stroke-width="0.4" />
<text x="147.95" y="734" font-size="4.48" text-anchor="middle" font-weight="normal" fill="#333"  textLength="4.45" lengthAdjust="spacingAndGlyphs" stroke="#333" stroke-width="0.14">10</text>
<line x1="165.4" y1="728.6" x2="165.4" y2="729.9" stroke="#444" stroke-width="0.4" />
<text x="165.4" y="734" font-size="4.48" text-anchor="middle" font-weight="normal" fill="#333"  textLength="4.45" lengthAdjust="spacingAndGlyphs" stroke="#333" stroke-width="0.14">20</text>
<line x1="182.85" y1="728.6" x2="182.85" y2="729.9" stroke="#444" stroke-width="0.4" />
<text x="182.85" y="734" font-size="4.48" text-anchor="middle" font-weight="normal" fill="#333"  textLength="4.45" lengthAdjust="spacingAndGlyphs" stroke="#333" stroke-width="0.14">30</text>
<text x="165.5" y="739" font-size="4.2" fill="#333" stroke="#333" stroke-width="0.1" text-anchor="middle">-log<tspan font-size="2.7" dy="0.8">10</tspan><tspan dy="-0.8">p-value</tspan></text>
<text x="323.3" y="524.8" font-size="5.6" text-anchor="middle" font-weight="bold" fill="#111"  textLength="56.02" lengthAdjust="spacingAndGlyphs" stroke="#111" stroke-width="0.14">VDAC2_Si-vs-WT(Total)</text>
<text x="323.3" y="530.3" font-size="5.6" text-anchor="middle" font-weight="bold" fill="#111"  textLength="38.15" lengthAdjust="spacingAndGlyphs" stroke="#111" stroke-width="0.14">Top 30 GO Term</text>
<rect x="289.5" y="536.5" width="66.9" height="63.1" fill="none" stroke="#555" stroke-width="0.6" />
<rect x="357.3" y="536.5" width="4.9" height="63.1" fill="#6aa840" />
<text x="0" y="0" font-size="4.5" fill="#222" stroke="#222" stroke-width="0.08" text-anchor="middle" transform="translate(358.65,568.05) rotate(90)">Biological Process</text>
<rect x="289.5" y="537.05" width="32.3" height="3.1" fill="#6aa840" />
<text x="288.5" y="540.15" font-size="4.5" text-anchor="end" font-weight="normal" fill="#2a2a2a"  textLength="69.67" lengthAdjust="spacingAndGlyphs" stroke="#2a2a2a" stroke-width="0.14">positive regulation of gene expression</text>
<rect x="289.5" y="543.62" width="32.7" height="3.1" fill="#6aa840" />
<text x="288.5" y="546.72" font-size="4.5" text-anchor="end" font-weight="normal" fill="#2a2a2a"  textLength="22.14" lengthAdjust="spacingAndGlyphs" stroke="#2a2a2a" stroke-width="0.14">cornification</text>
<rect x="289.5" y="550.18" width="32.7" height="3.1" fill="#6aa840" />
<text x="288.5" y="553.28" font-size="4.5" text-anchor="end" font-weight="normal" fill="#2a2a2a"  textLength="33.44" lengthAdjust="spacingAndGlyphs" stroke="#2a2a2a" stroke-width="0.14">mitotic cytokinesis</text>
<rect x="289.5" y="556.75" width="32.7" height="3.1" fill="#6aa840" />
<text x="288.5" y="559.85" font-size="4.5" text-anchor="end" font-weight="normal" fill="#2a2a2a"  textLength="29.98" lengthAdjust="spacingAndGlyphs" stroke="#2a2a2a" stroke-width="0.14">mitotic cell cycle</text>
<rect x="289.5" y="563.32" width="34.5" height="3.1" fill="#6aa840" />
<text x="288.5" y="566.42" font-size="4.5" text-anchor="end" font-weight="normal" fill="#2a2a2a"  textLength="73.12" lengthAdjust="spacingAndGlyphs" stroke="#2a2a2a" stroke-width="0.14">attachment of mitotic spindle microtub...</text>
<rect x="289.5" y="569.88" width="34.5" height="3.1" fill="#6aa840" />
<text x="288.5" y="572.98" font-size="4.5" text-anchor="end" font-weight="normal" fill="#2a2a2a"  textLength="73.6" lengthAdjust="spacingAndGlyphs" stroke="#2a2a2a" stroke-width="0.14">negative regulation of oligodendrocyte...</text>
<rect x="289.5" y="576.45" width="38.3" height="3.1" fill="#6aa840" />
<text x="288.5" y="579.55" font-size="4.5" text-anchor="end" font-weight="normal" fill="#2a2a2a"  textLength="75.43" lengthAdjust="spacingAndGlyphs" stroke="#2a2a2a" stroke-width="0.14">positive regulation of epithelial cell proli...</text>
<rect x="289.5" y="583.02" width="56.5" height="3.1" fill="#6aa840" />
<text x="288.5" y="586.12" font-size="4.5" text-anchor="end" font-weight="normal" fill="#2a2a2a"  textLength="50.06" lengthAdjust="spacingAndGlyphs" stroke="#2a2a2a" stroke-width="0.14">mitotic spindle organization</text>
<rect x="289.5" y="589.58" width="59" height="3.1" fill="#6aa840" />
<text x="288.5" y="592.68" font-size="4.5" text-anchor="end" font-weight="normal" fill="#2a2a2a"  textLength="21.22" lengthAdjust="spacingAndGlyphs" stroke="#2a2a2a" stroke-width="0.14">cell division</text>
<rect x="289.5" y="596.15" width="61.4" height="3.1" fill="#6aa840" />
<text x="288.5" y="599.25" font-size="4.5" text-anchor="end" font-weight="normal" fill="#2a2a2a"  textLength="46.83" lengthAdjust="spacingAndGlyphs" stroke="#2a2a2a" stroke-width="0.14">chromosome segregation</text>
<rect x="289.5" y="601.4" width="66.9" height="63.1" fill="none" stroke="#555" stroke-width="0.6" />
<rect x="357.3" y="601.4" width="4.9" height="63.1" fill="#ea7a30" />
<text x="0" y="0" font-size="4.5" fill="#222" stroke="#222" stroke-width="0.08" text-anchor="middle" transform="translate(358.65,632.95) rotate(90)">Cellular Component</text>
<rect x="289.5" y="601.95" width="24.5" height="3.1" fill="#ea7a30" />
<text x="288.5" y="605.05" font-size="4.5" text-anchor="end" font-weight="normal" fill="#2a2a2a"  textLength="33.91" lengthAdjust="spacingAndGlyphs" stroke="#2a2a2a" stroke-width="0.14">intercellular bridge</text>
<rect x="289.5" y="608.52" width="24.7" height="3.1" fill="#ea7a30" />
<text x="288.5" y="611.62" font-size="4.5" text-anchor="end" font-weight="normal" fill="#2a2a2a"  textLength="26.29" lengthAdjust="spacingAndGlyphs" stroke="#2a2a2a" stroke-width="0.14">mitotic spindle</text>
<rect x="289.5" y="615.08" width="25" height="3.1" fill="#ea7a30" />
<text x="288.5" y="618.18" font-size="4.5" text-anchor="end" font-weight="normal" fill="#2a2a2a"  textLength="14.3" lengthAdjust="spacingAndGlyphs" stroke="#2a2a2a" stroke-width="0.14">nucleus</text>
<rect x="289.5" y="621.65" width="25.6" height="3.1" fill="#ea7a30" />
<text x="288.5" y="624.75" font-size="4.5" text-anchor="end" font-weight="normal" fill="#2a2a2a"  textLength="60.66" lengthAdjust="spacingAndGlyphs" stroke="#2a2a2a" stroke-width="0.14">chromosome, centromeric region</text>
<rect x="289.5" y="628.22" width="27.4" height="3.1" fill="#ea7a30" />
<text x="288.5" y="631.32" font-size="4.5" text-anchor="end" font-weight="normal" fill="#2a2a2a"  textLength="29.52" lengthAdjust="spacingAndGlyphs" stroke="#2a2a2a" stroke-width="0.14">kinesin complex</text>
<rect x="289.5" y="634.78" width="28.3" height="3.1" fill="#ea7a30" />
<text x="288.5" y="637.88" font-size="4.5" text-anchor="end" font-weight="normal" fill="#2a2a2a"  textLength="73.13" lengthAdjust="spacingAndGlyphs" stroke="#2a2a2a" stroke-width="0.14">cyclin-dependent protein kinase holoe...</text>
<rect x="289.5" y="641.35" width="29" height="3.1" fill="#ea7a30" />
<text x="288.5" y="644.45" font-size="4.5" text-anchor="end" font-weight="normal" fill="#2a2a2a"  textLength="35.53" lengthAdjust="spacingAndGlyphs" stroke="#2a2a2a" stroke-width="0.14">dense core granule</text>
<rect x="289.5" y="647.92" width="34.1" height="3.1" fill="#ea7a30" />
<text x="288.5" y="651.02" font-size="4.5" text-anchor="end" font-weight="normal" fill="#2a2a2a"  textLength="29.3" lengthAdjust="spacingAndGlyphs" stroke="#2a2a2a" stroke-width="0.14">Golgi apparatus</text>
<rect x="289.5" y="654.48" width="37.4" height="3.1" fill="#ea7a30" />
<text x="288.5" y="657.58" font-size="4.5" text-anchor="end" font-weight="normal" fill="#2a2a2a"  textLength="15.69" lengthAdjust="spacingAndGlyphs" stroke="#2a2a2a" stroke-width="0.14">midbody</text>
<rect x="289.5" y="661.05" width="38.7" height="3.1" fill="#ea7a30" />
<text x="288.5" y="664.15" font-size="4.5" text-anchor="end" font-weight="normal" fill="#2a2a2a"  textLength="68.05" lengthAdjust="spacingAndGlyphs" stroke="#2a2a2a" stroke-width="0.14">condensed chromosome kinetochore</text>
<rect x="289.5" y="666" width="66.9" height="63.1" fill="none" stroke="#555" stroke-width="0.6" />
<rect x="357.3" y="666" width="4.9" height="63.1" fill="#4a8ed2" />
<text x="0" y="0" font-size="4.5" fill="#222" stroke="#222" stroke-width="0.08" text-anchor="middle" transform="translate(358.65,697.55) rotate(90)">Molecular Function</text>
<rect x="289.5" y="666.65" width="21.4" height="3.1" fill="#4a8ed2" />
<text x="288.5" y="669.75" font-size="4.5" text-anchor="end" font-weight="normal" fill="#2a2a2a"  textLength="47.05" lengthAdjust="spacingAndGlyphs" stroke="#2a2a2a" stroke-width="0.14">microtubule motor activity</text>
<rect x="289.5" y="673.25" width="21.4" height="3.1" fill="#4a8ed2" />
<text x="288.5" y="676.35" font-size="4.5" text-anchor="end" font-weight="normal" fill="#2a2a2a"  textLength="48.67" lengthAdjust="spacingAndGlyphs" stroke="#2a2a2a" stroke-width="0.14">transcription factor binding</text>
<rect x="289.5" y="679.85" width="22.3" height="3.1" fill="#4a8ed2" />
<text x="288.5" y="682.95" font-size="4.5" text-anchor="end" font-weight="normal" fill="#2a2a2a"  textLength="48.66" lengthAdjust="spacingAndGlyphs" stroke="#2a2a2a" stroke-width="0.14">structural molecule activity</text>
<rect x="289.5" y="686.45" width="22.3" height="3.1" fill="#4a8ed2" />
<text x="288.5" y="689.55" font-size="4.5" text-anchor="end" font-weight="normal" fill="#2a2a2a"  textLength="62.51" lengthAdjust="spacingAndGlyphs" stroke="#2a2a2a" stroke-width="0.14">insulin-like growth factor II binding</text>
<rect x="289.5" y="693.05" width="22.3" height="3.1" fill="#4a8ed2" />
<text x="288.5" y="696.15" font-size="4.5" text-anchor="end" font-weight="normal" fill="#2a2a2a"  textLength="61.36" lengthAdjust="spacingAndGlyphs" stroke="#2a2a2a" stroke-width="0.14">insulin-like growth factor I binding</text>
<rect x="289.5" y="699.65" width="24.1" height="3.1" fill="#4a8ed2" />
<text x="288.5" y="702.75" font-size="4.5" text-anchor="end" font-weight="normal" fill="#2a2a2a"  textLength="44.53" lengthAdjust="spacingAndGlyphs" stroke="#2a2a2a" stroke-width="0.14">thyroid hormone binding</text>
<rect x="289.5" y="706.25" width="26" height="3.1" fill="#4a8ed2" />
<text x="288.5" y="709.35" font-size="4.5" text-anchor="end" font-weight="normal" fill="#2a2a2a"  textLength="73.35" lengthAdjust="spacingAndGlyphs" stroke="#2a2a2a" stroke-width="0.14">D-glucose transmembrane transporter...</text>
<rect x="289.5" y="712.85" width="26" height="3.1" fill="#4a8ed2" />
<text x="288.5" y="715.95" font-size="4.5" text-anchor="end" font-weight="normal" fill="#2a2a2a"  textLength="71.96" lengthAdjust="spacingAndGlyphs" stroke="#2a2a2a" stroke-width="0.14">proximal promoter DNA-binding trans...</text>
<rect x="289.5" y="719.45" width="30.5" height="3.1" fill="#4a8ed2" />
<text x="288.5" y="722.55" font-size="4.5" text-anchor="end" font-weight="normal" fill="#2a2a2a"  textLength="25.38" lengthAdjust="spacingAndGlyphs" stroke="#2a2a2a" stroke-width="0.14">E-box binding</text>
<rect x="289.5" y="726.05" width="34.5" height="3.1" fill="#4a8ed2" />
<text x="288.5" y="729.15" font-size="4.5" text-anchor="end" font-weight="normal" fill="#2a2a2a"  textLength="72.66" lengthAdjust="spacingAndGlyphs" stroke="#2a2a2a" stroke-width="0.14">glucose transmembrane transporter a...</text>
<line x1="289.5" y1="729.1" x2="289.5" y2="730.4" stroke="#444" stroke-width="0.4" />
<text x="289.5" y="734.6" font-size="4.48" text-anchor="middle" font-weight="normal" fill="#333"  textLength="2.22" lengthAdjust="spacingAndGlyphs" stroke="#333" stroke-width="0.14">0</text>
<line x1="311.3" y1="729.1" x2="311.3" y2="730.4" stroke="#444" stroke-width="0.4" />
<text x="311.3" y="734.6" font-size="4.48" text-anchor="middle" font-weight="normal" fill="#333"  textLength="2.22" lengthAdjust="spacingAndGlyphs" stroke="#333" stroke-width="0.14">2</text>
<line x1="333.1" y1="729.1" x2="333.1" y2="730.4" stroke="#444" stroke-width="0.4" />
<text x="333.1" y="734.6" font-size="4.48" text-anchor="middle" font-weight="normal" fill="#333"  textLength="2.22" lengthAdjust="spacingAndGlyphs" stroke="#333" stroke-width="0.14">4</text>
<line x1="354.9" y1="729.1" x2="354.9" y2="730.4" stroke="#444" stroke-width="0.4" />
<text x="354.9" y="734.6" font-size="4.48" text-anchor="middle" font-weight="normal" fill="#333"  textLength="2.22" lengthAdjust="spacingAndGlyphs" stroke="#333" stroke-width="0.14">6</text>
<text x="323.6" y="739.6" font-size="4.2" fill="#333" stroke="#333" stroke-width="0.1" text-anchor="middle">-log<tspan font-size="2.7" dy="0.8">10</tspan><tspan dy="-0.8">p-value</tspan></text>
</svg>
</body></html>
